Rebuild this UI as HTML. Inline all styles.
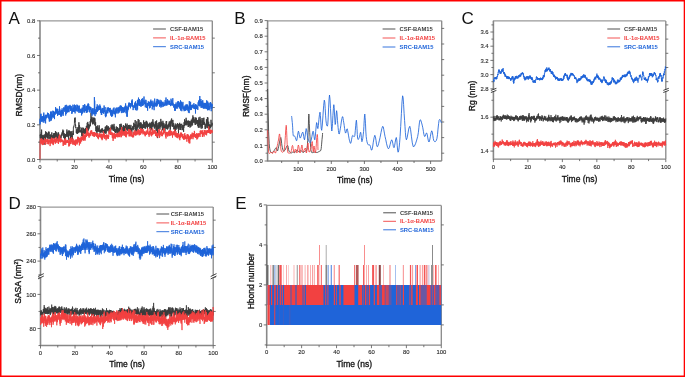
<!DOCTYPE html><html><head><meta charset="utf-8"><style>html,body{margin:0;padding:0;background:#fff;}svg{display:block;will-change:transform;}text{font-family:"Liberation Sans", sans-serif;}</style></head><body>
<svg width="685" height="377" viewBox="0 0 685 377">
<rect x="0" y="0" width="685" height="377" fill="#fff"/>
<text x="8.5" y="24.3" font-size="17" text-anchor="start" fill="#111" font-weight="normal" >A</text>
<line x1="39.5" y1="20.8" x2="212.3" y2="20.8" stroke="#999" stroke-width="1.3"/>
<line x1="212.3" y1="20.8" x2="212.3" y2="159.5" stroke="#888" stroke-width="1.3"/>
<line x1="40" y1="159.5" x2="212.3" y2="159.5" stroke="#888" stroke-width="1.3"/>
<line x1="40" y1="20.8" x2="40" y2="160.0" stroke="#888" stroke-width="1.6"/>
<line x1="212.3" y1="142.1625" x2="214.8" y2="142.1625" stroke="#555" stroke-width="0.8"/>
<line x1="212.3" y1="107.48750000000001" x2="214.8" y2="107.48750000000001" stroke="#555" stroke-width="0.8"/>
<line x1="212.3" y1="72.81250000000001" x2="214.8" y2="72.81250000000001" stroke="#555" stroke-width="0.8"/>
<line x1="212.3" y1="38.13750000000002" x2="214.8" y2="38.13750000000002" stroke="#555" stroke-width="0.8"/>
<polyline points="40,135.2 40.1,134.8 40.2,136.3 40.3,137.9 40.5,137.3 40.6,138.5 40.7,136.5 40.8,134 40.9,137.8 41,138 41.1,135.6 41.3,132.2 41.4,136.3 41.5,138.3 41.6,129.6 41.7,134.7 41.8,138.8 42,136.8 42.1,139.7 42.2,138.3 42.3,139.4 42.4,136.1 42.5,138.2 42.6,135 42.8,135.2 42.9,136.1 43,142.4 43.1,136.9 43.2,136 43.3,135.8 43.4,139.4 43.6,137.4 43.7,138.5 43.8,138.4 43.9,134.8 44,138.8 44.1,137.3 44.3,135.5 44.4,138.6 44.5,137.8 44.6,137.2 44.7,137.2 44.8,139.8 44.9,144.7 45.1,133.9 45.2,139.7 45.3,134.5 45.4,135.7 45.5,137 45.6,131.3 45.7,133.6 45.9,137.6 46,135.8 46.1,133.5 46.2,136.9 46.3,133.3 46.4,135 46.6,133.7 46.7,132.1 46.8,136.7 46.9,135 47,136.5 47.1,135.5 47.2,138.3 47.4,137 47.5,136.1 47.6,133.9 47.7,133.3 47.8,138.2 47.9,136.9 48,133.7 48.2,138.9 48.3,135.7 48.4,134.7 48.5,131.7 48.6,132.8 48.7,135 48.9,135.3 49,135.2 49.1,131.7 49.2,136.1 49.3,136.1 49.4,135.1 49.5,136.5 49.7,136.9 49.8,139.1 49.9,137 50,138 50.1,134.7 50.2,135.8 50.3,137.1 50.5,135.5 50.6,137.5 50.7,134.5 50.8,136.6 50.9,135.3 51,139.2 51.1,135.7 51.3,139.9 51.4,140.8 51.5,137.3 51.6,138.6 51.7,136.5 51.8,132.4 52,138.8 52.1,138.4 52.2,136.8 52.3,136.1 52.4,137.5 52.5,137.4 52.6,135.3 52.8,135.5 52.9,138.6 53,136.3 53.1,135.8 53.2,137.9 53.3,135 53.4,137.1 53.6,133.3 53.7,134.7 53.8,134.9 53.9,136.3 54,135.4 54.1,139.3 54.3,137.5 54.4,134.5 54.5,139.6 54.6,133.3 54.7,138.6 54.8,133.3 54.9,136.5 55.1,133 55.2,134.2 55.3,137.4 55.4,131.5 55.5,131.1 55.6,134.1 55.7,134.5 55.9,134.3 56,136 56.1,131.9 56.2,135.4 56.3,134.6 56.4,136.4 56.6,140.7 56.7,138 56.8,132.9 56.9,136.1 57,134 57.1,136.1 57.2,137.7 57.4,137.1 57.5,137.5 57.6,136.3 57.7,137 57.8,136.7 57.9,140.6 58,137.6 58.2,132.4 58.3,137.2 58.4,137.8 58.5,135 58.6,132.7 58.7,138.8 58.9,136.3 59,137.4 59.1,139.9 59.2,134.9 59.3,136.7 59.4,138 59.5,138.9 59.7,136.6 59.8,138.8 59.9,138.1 60,140.2 60.1,140.6 60.2,135.3 60.3,139.2 60.5,137.6 60.6,138.1 60.7,138.8 60.8,138.8 60.9,136.2 61,137.9 61.1,137.4 61.3,136.8 61.4,134.2 61.5,134.9 61.6,135.1 61.7,135.5 61.8,136.1 62,132.9 62.1,132.5 62.2,134.4 62.3,132.6 62.4,131.8 62.5,131.5 62.6,131.1 62.8,133.8 62.9,129.6 63,135.4 63.1,131.1 63.2,132 63.3,131.4 63.4,131.2 63.6,130.7 63.7,136.4 63.8,137.9 63.9,133 64,137.1 64.1,135.3 64.3,133.7 64.4,139.1 64.5,140.2 64.6,135.4 64.7,135.8 64.8,136.5 64.9,135.8 65.1,137.6 65.2,138.9 65.3,136 65.4,137.4 65.5,138.8 65.6,134.2 65.7,135.2 65.9,134 66,136.7 66.1,135.8 66.2,136.4 66.3,136 66.4,133.6 66.6,135.7 66.7,133.1 66.8,133.2 66.9,129.5 67,136.6 67.1,131.8 67.2,133.9 67.4,133.6 67.5,136.5 67.6,134.6 67.7,132 67.8,133.6 67.9,133.2 68,133.8 68.2,130.8 68.3,133.2 68.4,137.6 68.5,134.3 68.6,137 68.7,139.7 68.9,134.1 69,130.3 69.1,133 69.2,135.7 69.3,135.2 69.4,130.9 69.5,133.1 69.7,133.3 69.8,133.7 69.9,133.5 70,131.8 70.1,132.4 70.2,133.2 70.3,135.8 70.5,132.5 70.6,139.9 70.7,131.5 70.8,136.5 70.9,134.3 71,134.3 71.1,137.3 71.3,131.3 71.4,132.1 71.5,136.4 71.6,134.2 71.7,135.2 71.8,141.7 72,136 72.1,136.6 72.2,136.5 72.3,138.9 72.4,137.2 72.5,136.8 72.6,133.7 72.8,135.1 72.9,135 73,130.8 73.1,134.2 73.2,133.1 73.3,135 73.4,127.1 73.6,127.4 73.7,126.5 73.8,126.1 73.9,126.5 74,125.5 74.1,125.6 74.3,124.8 74.4,123.5 74.5,119.7 74.6,121.1 74.7,118.2 74.8,122.2 74.9,121.9 75.1,117.5 75.2,120.5 75.3,122.2 75.4,123.8 75.5,126.1 75.6,124.8 75.7,128.1 75.9,127.1 76,127.5 76.1,128.3 76.2,128.5 76.3,132.9 76.4,130.8 76.6,132.9 76.7,129.9 76.8,133.6 76.9,130.9 77,128.9 77.1,132.9 77.2,133.2 77.4,131.8 77.5,132 77.6,133.9 77.7,130.7 77.8,127.2 77.9,131.7 78,131.2 78.2,132.7 78.3,129.6 78.4,132.6 78.5,132.1 78.6,126.9 78.7,131.4 78.9,122.3 79,126.1 79.1,128.6 79.2,128 79.3,125.1 79.4,129.6 79.5,130.5 79.7,132.3 79.8,129.7 79.9,126.9 80,128.1 80.1,132.2 80.2,132.2 80.3,131.8 80.5,130.4 80.6,131.6 80.7,130.9 80.8,130.9 80.9,132.3 81,131.9 81.1,131.5 81.3,132.2 81.4,131.1 81.5,128.3 81.6,131 81.7,132.1 81.8,135.8 82,127.5 82.1,136.5 82.2,135.5 82.3,130.9 82.4,131.2 82.5,133.1 82.6,136.3 82.8,133.5 82.9,134.2 83,131.3 83.1,127.8 83.2,131.8 83.3,133.7 83.4,134.3 83.6,127.9 83.7,131.8 83.8,133.8 83.9,131 84,133.6 84.1,128.9 84.3,129 84.4,129 84.5,132.2 84.6,130.2 84.7,131.6 84.8,132.1 84.9,132 85.1,133.9 85.2,134.1 85.3,129.4 85.4,131.1 85.5,130 85.6,128.1 85.7,133.4 85.9,131.1 86,128.8 86.1,128.1 86.2,129.4 86.3,126.3 86.4,127.8 86.6,130.6 86.7,129.7 86.8,125.8 86.9,126.4 87,131.2 87.1,124.3 87.2,122.9 87.4,124.3 87.5,127.9 87.6,127.7 87.7,129.5 87.8,121.9 87.9,127.5 88,123.9 88.2,128.5 88.3,126.8 88.4,130.6 88.5,127.8 88.6,124.9 88.7,129.4 88.9,124.4 89,125.7 89.1,128.4 89.2,126.9 89.3,126.6 89.4,125.5 89.5,126.2 89.7,126.5 89.8,125 89.9,126.1 90,126.3 90.1,123.4 90.2,121.1 90.3,125.7 90.5,122 90.6,123 90.7,123.3 90.8,119.2 90.9,121.6 91,112.7 91.1,121.6 91.3,119 91.4,120.1 91.5,120.9 91.6,118.1 91.7,119.7 91.8,118.4 92,116.8 92.1,122.5 92.2,120.6 92.3,120.5 92.4,118.7 92.5,122.7 92.6,120.9 92.8,124.4 92.9,119.4 93,122.8 93.1,124 93.2,120.2 93.3,117.6 93.4,122.8 93.6,121.7 93.7,120.9 93.8,121.5 93.9,118.1 94,120.5 94.1,120.4 94.3,117.7 94.4,120.9 94.5,118.9 94.6,122.4 94.7,123.5 94.8,125.4 94.9,118.3 95.1,123.5 95.2,123 95.3,124.3 95.4,124.6 95.5,125.5 95.6,122.3 95.7,129.1 95.9,130.8 96,130.3 96.1,131.3 96.2,127.1 96.3,127 96.4,130.9 96.6,131.8 96.7,129.7 96.8,126.2 96.9,135 97,127.9 97.1,131.2 97.2,126.6 97.4,130.9 97.5,129.1 97.6,131.5 97.7,130.3 97.8,125.3 97.9,126.3 98,128.9 98.2,129.8 98.3,131.8 98.4,128.6 98.5,127.9 98.6,128.2 98.7,128.3 98.9,130.7 99,128.7 99.1,128.9 99.2,126.4 99.3,125.4 99.4,129.8 99.5,131.5 99.7,130.2 99.8,131.5 99.9,132 100,130.8 100.1,133 100.2,129.7 100.3,131.2 100.5,130.3 100.6,131.1 100.7,132.1 100.8,132.4 100.9,130.6 101,131.1 101.1,129.3 101.3,129.5 101.4,132 101.5,128.9 101.6,131.6 101.7,129.9 101.8,129 102,132.7 102.1,128.1 102.2,128.1 102.3,128.8 102.4,129.5 102.5,129.5 102.6,131 102.8,129.8 102.9,130.7 103,129.7 103.1,132.7 103.2,130.1 103.3,130.5 103.4,131.5 103.6,132.2 103.7,130.3 103.8,135.1 103.9,130.7 104,131.2 104.1,130.9 104.3,130.6 104.4,132.6 104.5,131.5 104.6,129.4 104.7,129.6 104.8,129.7 104.9,133 105.1,128.5 105.2,126.8 105.3,126.9 105.4,128.4 105.5,132 105.6,126.7 105.7,128.9 105.9,133.9 106,127.8 106.1,132.7 106.2,131.4 106.3,130.1 106.4,126.2 106.6,129.6 106.7,128.3 106.8,125.1 106.9,125.5 107,129 107.1,129.1 107.2,131.2 107.4,130 107.5,127.5 107.6,127.6 107.7,128.2 107.8,126.4 107.9,130 108,128.6 108.2,127 108.3,127.3 108.4,126.4 108.5,127.8 108.6,129.5 108.7,128.1 108.9,131 109,132.4 109.1,127.8 109.2,129 109.3,128.5 109.4,132.7 109.5,130 109.7,130.5 109.8,131.1 109.9,134 110,130.1 110.1,127.6 110.2,128.8 110.3,130.8 110.5,129.5 110.6,127.9 110.7,135 110.8,129.5 110.9,128 111,127.5 111.1,125.3 111.3,126.3 111.4,127.9 111.5,127.8 111.6,126.7 111.7,129.4 111.8,128.4 112,126.5 112.1,124.3 112.2,128.7 112.3,128.5 112.4,128 112.5,125.7 112.6,128.6 112.8,125.4 112.9,130.3 113,128.7 113.1,128.5 113.2,126.3 113.3,125.7 113.4,130.8 113.6,129.6 113.7,126.9 113.8,129.1 113.9,131 114,123.9 114.1,127.1 114.3,127.3 114.4,129.6 114.5,126.8 114.6,129.9 114.7,127.4 114.8,131.9 114.9,132 115.1,130.1 115.2,132.2 115.3,129.5 115.4,130.5 115.5,133.1 115.6,131 115.7,131.9 115.9,129.1 116,132.4 116.1,132 116.2,128.6 116.3,126.4 116.4,126.8 116.6,130.8 116.7,130.5 116.8,127.7 116.9,131 117,132.9 117.1,130.6 117.2,129.9 117.4,132.4 117.5,127.2 117.6,133.7 117.7,129.3 117.8,132.3 117.9,131 118,130.1 118.2,129.3 118.3,131.1 118.4,129.4 118.5,132.3 118.6,131.2 118.7,132.5 118.9,127.9 119,130.1 119.1,131.5 119.2,130.6 119.3,130.2 119.4,128.2 119.5,132.9 119.7,131.6 119.8,130.2 119.9,124 120,127.1 120.1,129.3 120.2,127.5 120.3,124.4 120.5,129 120.6,129 120.7,125.6 120.8,127 120.9,126.6 121,130.2 121.1,123.7 121.3,124 121.4,126.3 121.5,126.1 121.6,131.8 121.7,126.3 121.8,128.3 122,127.2 122.1,126.9 122.2,129.3 122.3,132.4 122.4,128.4 122.5,131 122.6,130.2 122.8,130.9 122.9,130.4 123,134.5 123.1,127.1 123.2,129.1 123.3,127.1 123.4,125.1 123.6,128.8 123.7,132.3 123.8,130.1 123.9,130.4 124,128.7 124.1,127.1 124.3,131.2 124.4,126.1 124.5,129.8 124.6,125.9 124.7,126.7 124.8,127.2 124.9,126.9 125.1,127.9 125.2,128.1 125.3,130.5 125.4,127.2 125.5,123.6 125.6,123.5 125.7,124.9 125.9,126.3 126,129.4 126.1,125 126.2,128.2 126.3,128.3 126.4,128.7 126.6,128 126.7,129 126.8,128.4 126.9,130.4 127,129 127.1,123.6 127.2,128.5 127.4,129 127.5,127.4 127.6,127 127.7,130.7 127.8,128.8 127.9,126.5 128,127.9 128.2,128.1 128.3,125.1 128.4,129.7 128.5,129.3 128.6,129.2 128.7,125 128.9,132.1 129,129.4 129.1,129.1 129.2,126.5 129.3,126.7 129.4,124.9 129.5,131.1 129.7,126.2 129.8,128.2 129.9,129 130,126.4 130.1,129.3 130.2,131.7 130.3,128.1 130.5,130.7 130.6,129.1 130.7,127.1 130.8,126.8 130.9,124.9 131,126.8 131.2,131.8 131.3,130.4 131.4,131 131.5,131.8 131.6,128.4 131.7,130.8 131.8,133.6 132,128 132.1,129.5 132.2,128.4 132.3,128.8 132.4,127.5 132.5,128.4 132.6,126.4 132.8,127.1 132.9,127 133,126.7 133.1,130.3 133.2,127.4 133.3,127.3 133.4,126.2 133.6,129.2 133.7,122.8 133.8,125.9 133.9,128.4 134,129.3 134.1,126.1 134.3,125.5 134.4,126.7 134.5,124.9 134.6,126.3 134.7,123.8 134.8,126.4 134.9,125.1 135.1,123.1 135.2,120 135.3,123.4 135.4,131.6 135.5,127.9 135.6,124.6 135.7,128.8 135.9,127.6 136,126.6 136.1,129.1 136.2,129.2 136.3,128.3 136.4,131.7 136.6,130.3 136.7,128 136.8,121.3 136.9,127.4 137,130.5 137.1,127.7 137.2,124.9 137.4,125.4 137.5,126.6 137.6,128.2 137.7,124.8 137.8,127.2 137.9,128.3 138,127.4 138.2,119 138.3,125.1 138.4,123 138.5,126.5 138.6,123.4 138.7,126.5 138.9,125.6 139,119.9 139.1,123.6 139.2,126.2 139.3,125.4 139.4,124.6 139.5,122.9 139.7,126.5 139.8,129.1 139.9,126.2 140,125.5 140.1,125.4 140.2,122.9 140.3,125.2 140.5,124.3 140.6,128.5 140.7,124.5 140.8,122.1 140.9,125 141,126.2 141.2,126.6 141.3,123.3 141.4,129 141.5,127.5 141.6,126.3 141.7,125.7 141.8,128.1 142,126.5 142.1,127.6 142.2,126.7 142.3,127.1 142.4,129.1 142.5,126.5 142.6,124.5 142.8,128.1 142.9,126.5 143,124.4 143.1,127.9 143.2,125.1 143.3,127.6 143.4,122.9 143.6,120.4 143.7,121 143.8,125.7 143.9,123.7 144,125 144.1,125.1 144.3,122.2 144.4,128.3 144.5,123.5 144.6,125.8 144.7,122.8 144.8,125.3 144.9,127 145.1,125 145.2,123.8 145.3,125 145.4,123.9 145.5,125.7 145.6,128.7 145.7,122.1 145.9,122.2 146,122.9 146.1,123 146.2,120.8 146.3,124.1 146.4,124.6 146.6,123.7 146.7,121.2 146.8,126.9 146.9,121.9 147,126.2 147.1,127.4 147.2,122.8 147.4,126 147.5,128.8 147.6,126.9 147.7,124.2 147.8,123.6 147.9,126.8 148,124.9 148.2,124 148.3,126.6 148.4,124.3 148.5,124.9 148.6,125.9 148.7,125.8 148.9,124.7 149,124.8 149.1,126.3 149.2,126.3 149.3,123.4 149.4,125.7 149.5,124.6 149.7,124.2 149.8,125.8 149.9,122.5 150,129.1 150.1,125.8 150.2,128 150.3,123.4 150.5,123.6 150.6,131 150.7,128.8 150.8,125.1 150.9,124.5 151,130.2 151.2,125.6 151.3,125.5 151.4,123.4 151.5,124.6 151.6,122.1 151.7,128.8 151.8,122.5 152,125.8 152.1,121.6 152.2,124 152.3,125.5 152.4,122.8 152.5,125.6 152.6,125.8 152.8,127.3 152.9,119.3 153,123.4 153.1,122.5 153.2,125.2 153.3,123 153.4,125.3 153.6,125.7 153.7,124.6 153.8,123.8 153.9,126.8 154,126.8 154.1,126.8 154.3,126.4 154.4,128.5 154.5,124.5 154.6,127.5 154.7,125.7 154.8,128.2 154.9,125.6 155.1,125.3 155.2,126.8 155.3,121.7 155.4,124.8 155.5,121.6 155.6,123.2 155.7,126.3 155.9,125.8 156,124.1 156.1,131 156.2,125 156.3,125.9 156.4,129.2 156.6,120.5 156.7,130.5 156.8,125.4 156.9,127.9 157,128.1 157.1,127.2 157.2,126.3 157.4,129.8 157.5,130.4 157.6,138.1 157.7,131 157.8,128.7 157.9,123.2 158,128.6 158.2,125 158.3,129.2 158.4,125.6 158.5,126.8 158.6,126.2 158.7,124.8 158.9,122.3 159,125.5 159.1,125.7 159.2,128 159.3,124.8 159.4,126.4 159.5,124 159.7,125.8 159.8,121.9 159.9,129.6 160,125.9 160.1,123.3 160.2,125.8 160.3,126.4 160.5,125.1 160.6,127.2 160.7,123.8 160.8,118.9 160.9,121.4 161,126.1 161.2,125.5 161.3,124.5 161.4,121.6 161.5,125.5 161.6,125.2 161.7,122 161.8,122.2 162,124.9 162.1,126.6 162.2,127.5 162.3,125.9 162.4,129.2 162.5,123 162.6,130.3 162.8,123.7 162.9,120.8 163,122.3 163.1,127.3 163.2,123.4 163.3,122.8 163.4,127 163.6,127.7 163.7,126.1 163.8,129.4 163.9,123.2 164,131.5 164.1,129 164.3,127.4 164.4,127.5 164.5,126.8 164.6,126.5 164.7,127.5 164.8,124.5 164.9,131.3 165.1,126.7 165.2,128.1 165.3,126.1 165.4,125.9 165.5,128.1 165.6,127.4 165.7,124.4 165.9,125.3 166,127.3 166.1,121.6 166.2,121.2 166.3,129.1 166.4,125.5 166.6,121 166.7,124.7 166.8,125.9 166.9,126.9 167,127.8 167.1,127.2 167.2,128 167.4,125.2 167.5,129.4 167.6,127.7 167.7,129.2 167.8,126.7 167.9,128.5 168,126.7 168.2,124.1 168.3,125.3 168.4,124.8 168.5,124.9 168.6,127.4 168.7,125.4 168.9,125.6 169,123.3 169.1,126.9 169.2,121.6 169.3,124.2 169.4,125.7 169.5,125 169.7,125.4 169.8,123.5 169.9,125.2 170,121.3 170.1,125.3 170.2,129.9 170.3,125.2 170.5,128.9 170.6,123.8 170.7,121.4 170.8,122.1 170.9,126.4 171,125.2 171.2,119.9 171.3,122.9 171.4,119.5 171.5,121.4 171.6,118.5 171.7,121 171.8,123.5 172,120.1 172.1,122.8 172.2,125.5 172.3,126.5 172.4,124.3 172.5,126.4 172.6,124.7 172.8,124.5 172.9,119.9 173,126.7 173.1,125.2 173.2,125.4 173.3,123.2 173.4,123 173.6,126.4 173.7,127.4 173.8,129.3 173.9,128.1 174,125.3 174.1,126.6 174.3,129.1 174.4,127.9 174.5,127.3 174.6,126.3 174.7,128.5 174.8,127.7 174.9,130.9 175.1,129.3 175.2,123.5 175.3,131.2 175.4,127 175.5,125.6 175.6,126.6 175.7,127.3 175.9,125.7 176,125.5 176.1,125.7 176.2,129.6 176.3,126.1 176.4,127.7 176.6,127 176.7,125.6 176.8,124.7 176.9,124.3 177,127.2 177.1,124.2 177.2,123.7 177.4,123.7 177.5,123.1 177.6,126.4 177.7,126.3 177.8,124.1 177.9,128.7 178,125.3 178.2,126.8 178.3,126.6 178.4,129.4 178.5,133.5 178.6,125.8 178.7,124 178.9,123.8 179,126.1 179.1,126.3 179.2,127.7 179.3,125.2 179.4,126.8 179.5,125 179.7,122.8 179.8,126.6 179.9,129.7 180,128.4 180.1,129.6 180.2,129.1 180.3,124 180.5,126.2 180.6,129.9 180.7,125.3 180.8,123.9 180.9,127.2 181,127.8 181.2,127 181.3,125.7 181.4,125.1 181.5,124 181.6,124 181.7,124.1 181.8,123.8 182,125.5 182.1,130.2 182.2,127.4 182.3,126.6 182.4,128.3 182.5,125.7 182.6,128.5 182.8,129.9 182.9,125 183,126.5 183.1,127.4 183.2,125.7 183.3,125.2 183.4,126.4 183.6,131.9 183.7,127.8 183.8,127 183.9,127.6 184,124.8 184.1,122.2 184.3,125.2 184.4,126.2 184.5,119.3 184.6,124.2 184.7,125.7 184.8,122.5 184.9,122 185.1,124.3 185.2,121.3 185.3,124 185.4,125.1 185.5,122.8 185.6,121.6 185.7,121.1 185.9,122.8 186,123.8 186.1,117.8 186.2,125.2 186.3,119.9 186.4,124 186.6,124.3 186.7,122.5 186.8,122.1 186.9,121.3 187,123.4 187.1,125.3 187.2,125.1 187.4,123 187.5,122.8 187.6,120.9 187.7,122.9 187.8,121.6 187.9,120.7 188,123.4 188.2,126.9 188.3,126.3 188.4,127 188.5,120.7 188.6,125.9 188.7,121.7 188.9,123.2 189,121 189.1,122.6 189.2,124.8 189.3,125.1 189.4,124.5 189.5,124.2 189.7,125.7 189.8,124.4 189.9,120.9 190,127.6 190.1,123.3 190.2,125.6 190.3,123.3 190.5,122 190.6,123.8 190.7,122.1 190.8,127 190.9,121.4 191,125 191.2,122.5 191.3,119.7 191.4,122.8 191.5,125.3 191.6,123.1 191.7,120.1 191.8,122.5 192,122.4 192.1,125.7 192.2,119.5 192.3,118.4 192.4,121.8 192.5,122 192.6,124.7 192.8,119.3 192.9,115.4 193,119.3 193.1,118 193.2,119.2 193.3,122.2 193.4,117.3 193.6,122.6 193.7,120.4 193.8,118.8 193.9,117.9 194,117.4 194.1,118.8 194.3,121.2 194.4,122.2 194.5,119.5 194.6,121.2 194.7,122.6 194.8,122.8 194.9,121.4 195.1,124.5 195.2,123.6 195.3,124.5 195.4,121 195.5,120.6 195.6,117.5 195.7,124.9 195.9,123.2 196,119.8 196.1,122.2 196.2,122.2 196.3,117.8 196.4,121.9 196.6,123.5 196.7,123.7 196.8,120.1 196.9,120.2 197,123.7 197.1,122.9 197.2,120 197.4,120.1 197.5,122.9 197.6,120.6 197.7,120.8 197.8,126.1 197.9,123.3 198,121.9 198.2,124.1 198.3,127.5 198.4,123.7 198.5,121.5 198.6,119.7 198.7,127.5 198.9,117.4 199,125 199.1,120.5 199.2,119.9 199.3,120.3 199.4,122 199.5,124.7 199.7,121 199.8,123.8 199.9,127.7 200,116.8 200.1,121.4 200.2,119.3 200.3,125.2 200.5,120.4 200.6,120.4 200.7,120.5 200.8,124 200.9,126.6 201,124.3 201.2,128.7 201.3,127.8 201.4,123.9 201.5,126.1 201.6,124.2 201.7,123.9 201.8,119.6 202,118 202.1,123.3 202.2,120.5 202.3,128.3 202.4,123.2 202.5,120.5 202.6,124.7 202.8,122.5 202.9,124.5 203,121.5 203.1,118.2 203.2,123.1 203.3,121.2 203.4,123.6 203.6,124.4 203.7,124.7 203.8,119.3 203.9,117.7 204,121.8 204.1,124.5 204.3,121.9 204.4,124.4 204.5,122.5 204.6,123.8 204.7,124.2 204.8,123.7 204.9,126.4 205.1,126.2 205.2,129 205.3,126.4 205.4,128.4 205.5,125.6 205.6,127.3 205.7,124.9 205.9,123.8 206,127.6 206.1,125.9 206.2,125.9 206.3,122 206.4,119.6 206.6,121.2 206.7,123.5 206.8,119.5 206.9,125.5 207,119.3 207.1,123.7 207.2,128.2 207.4,117 207.5,119.5 207.6,125.2 207.7,123.1 207.8,124.2 207.9,117.5 208,127.7 208.2,126.3 208.3,124.4 208.4,125.2 208.5,123.5 208.6,126.2 208.7,121.7 208.9,128.2 209,126.3 209.1,131 209.2,129.7 209.3,124.3 209.4,128.9 209.5,125.9 209.7,127.1 209.8,129.1 209.9,127.4 210,127.7 210.1,127.5 210.2,124.7 210.3,124.8 210.5,127.2 210.6,127.8 210.7,125.2 210.8,125.8 210.9,123.3 211,119.8 211.2,123.3 211.3,125 211.4,125.2 211.5,126.5 211.6,126.5 211.7,126.6 211.8,125.3 212,125.3 212.1,122.8 212.2,125.3 212.3,124.8" fill="none" stroke="#3c3c3c" stroke-width="0.95" stroke-linejoin="round" />
<polyline points="40,159.5 40.1,141.6 40.2,142.3 40.3,140.1 40.5,141.8 40.6,143.4 40.7,142.1 40.8,141.3 40.9,142.9 41,139 41.1,143.1 41.3,138.3 41.4,140 41.5,143.3 41.6,141.6 41.7,139.8 41.8,142.4 42,144.2 42.1,142.1 42.2,138.9 42.3,145.1 42.4,141.7 42.5,142.7 42.6,143 42.8,143.5 42.9,143.3 43,141 43.1,141.7 43.2,144.4 43.3,140 43.4,144.9 43.6,141.3 43.7,141.7 43.8,140.3 43.9,141.6 44,140.3 44.1,142.1 44.3,140.3 44.4,141.3 44.5,138.2 44.6,143.1 44.7,138.8 44.8,141 44.9,141.5 45.1,142.8 45.2,143 45.3,144.3 45.4,144.1 45.5,140.5 45.6,144.5 45.7,139.3 45.9,142.2 46,141.2 46.1,141.4 46.2,140.7 46.3,141.9 46.4,142 46.6,141.5 46.7,139.4 46.8,139.2 46.9,138.9 47,140.5 47.1,141.5 47.2,144 47.4,140 47.5,139.6 47.6,141.9 47.7,139.8 47.8,138.9 47.9,141 48,139.4 48.2,140.8 48.3,144.4 48.4,142.2 48.5,142.2 48.6,140.6 48.7,143.1 48.9,142.5 49,143.5 49.1,141.9 49.2,141.8 49.3,140.3 49.4,140.7 49.5,141.8 49.7,141.6 49.8,141.8 49.9,141.7 50,139.2 50.1,146.1 50.2,142 50.3,141 50.5,139.3 50.6,143.1 50.7,140.4 50.8,139.3 50.9,141.4 51,143.8 51.1,141.1 51.3,142.6 51.4,139.3 51.5,141.9 51.6,137.5 51.7,140.5 51.8,142.3 52,141.9 52.1,143.1 52.2,140.7 52.3,139 52.4,142.1 52.5,140.2 52.6,143.6 52.8,141.5 52.9,138 53,144.5 53.1,139.8 53.2,139.9 53.3,145.1 53.4,144.3 53.6,143.4 53.7,139.9 53.8,142.3 53.9,141.7 54,140.1 54.1,141 54.3,140.8 54.4,141.7 54.5,139 54.6,142.2 54.7,138.2 54.8,141.3 54.9,142 55.1,139.4 55.2,139.7 55.3,143.8 55.4,140 55.5,142.7 55.6,141.7 55.7,139 55.9,141.8 56,139.8 56.1,141.1 56.2,137.1 56.3,140.6 56.4,142.6 56.6,142.5 56.7,142.1 56.8,140.3 56.9,140.5 57,138.8 57.1,140.1 57.2,140.1 57.4,139.8 57.5,140.5 57.6,139.6 57.7,138.8 57.8,138.8 57.9,141 58,143 58.2,141.3 58.3,139.3 58.4,144 58.5,140.4 58.6,138.7 58.7,140.3 58.9,141.2 59,136.2 59.1,136.8 59.2,139.6 59.3,136.9 59.4,134.7 59.5,141.2 59.7,134.8 59.8,141.2 59.9,140.1 60,141.7 60.1,139.9 60.2,142.4 60.3,140.2 60.5,138.5 60.6,140 60.7,141 60.8,137.9 60.9,142.2 61,139 61.1,141.2 61.3,140.3 61.4,140.5 61.5,140.3 61.6,140.5 61.7,141.7 61.8,141.3 62,139.6 62.1,140.5 62.2,141.5 62.3,141.5 62.4,141.5 62.5,140.3 62.6,140 62.8,140.2 62.9,141.6 63,140.7 63.1,143.2 63.2,146 63.3,141.3 63.4,144.3 63.6,143.2 63.7,143.8 63.8,140.7 63.9,144 64,141.5 64.1,142.9 64.3,144.2 64.4,144.8 64.5,141.3 64.6,141.4 64.7,140.7 64.8,138.8 64.9,141.5 65.1,141.4 65.2,142.1 65.3,141.6 65.4,142.4 65.5,143.3 65.6,138.3 65.7,144.9 65.9,141.1 66,140.8 66.1,141.3 66.2,143.1 66.3,141.7 66.4,142.1 66.6,143 66.7,141.2 66.8,141.8 66.9,142 67,139.8 67.1,142.8 67.2,140.2 67.4,142 67.5,140.2 67.6,140.8 67.7,140.6 67.8,142.9 67.9,142.7 68,143 68.2,141.4 68.3,140.6 68.4,140.2 68.5,143.1 68.6,142.3 68.7,145.4 68.9,146.5 69,144.2 69.1,143.9 69.2,145.5 69.3,145.8 69.4,141.7 69.5,143.9 69.7,145.2 69.8,138.2 69.9,141.7 70,142.4 70.1,140.6 70.2,142.8 70.3,138.7 70.5,144 70.6,143.5 70.7,141.4 70.8,142.5 70.9,138.7 71,143.8 71.1,142.3 71.3,140.6 71.4,139.9 71.5,139.1 71.6,140.2 71.7,137 71.8,141.6 72,140.4 72.1,139.2 72.2,141.3 72.3,141.2 72.4,141.6 72.5,142.1 72.6,143.1 72.8,141.2 72.9,144.3 73,141.1 73.1,144.8 73.2,138.7 73.3,139.6 73.4,140.7 73.6,143.1 73.7,143.9 73.8,140.7 73.9,140.6 74,141.8 74.1,143.9 74.3,140.7 74.4,143.8 74.5,142 74.6,145.1 74.7,143.1 74.8,141 74.9,142.6 75.1,142.6 75.2,140.4 75.3,141.8 75.4,139.6 75.5,145.9 75.6,140.9 75.7,141.1 75.9,144.6 76,144.1 76.1,140.2 76.2,143.5 76.3,140 76.4,140.5 76.6,141.9 76.7,140.4 76.8,142.7 76.9,140.5 77,139.1 77.1,140.2 77.2,144.4 77.4,139.3 77.5,140.3 77.6,142.9 77.7,137.8 77.8,143 77.9,136.7 78,140.9 78.2,137 78.3,139.7 78.4,141.8 78.5,139.2 78.6,138.7 78.7,138 78.9,137.5 79,140.8 79.1,138.5 79.2,138.1 79.3,139.9 79.4,145.4 79.5,141.2 79.7,138.4 79.8,138.5 79.9,141.4 80,142.4 80.1,138 80.2,143 80.3,140 80.5,141.8 80.6,143.5 80.7,140.3 80.8,140.8 80.9,138.1 81,136.6 81.1,140.7 81.3,138.6 81.4,138.5 81.5,141.1 81.6,141.5 81.7,137 81.8,140.2 82,139.4 82.1,139.6 82.2,139.1 82.3,139.7 82.4,137.2 82.5,136 82.6,138.6 82.8,140.2 82.9,137.6 83,140.1 83.1,138.3 83.2,135.1 83.3,133.2 83.4,136.5 83.6,138.9 83.7,135.7 83.8,140.8 83.9,138.1 84,134.2 84.1,135.5 84.3,139.3 84.4,139.7 84.5,135.3 84.6,136.9 84.7,137.8 84.8,136 84.9,137.6 85.1,140.6 85.2,135.2 85.3,137.6 85.4,138 85.5,138.4 85.6,135.5 85.7,137.1 85.9,134.3 86,135.6 86.1,133 86.2,135.1 86.3,135.1 86.4,137 86.6,135.2 86.7,131.9 86.8,127.8 86.9,135.1 87,134.6 87.1,129.3 87.2,131.9 87.4,134 87.5,132.8 87.6,135.8 87.7,133.8 87.8,131.9 87.9,130.9 88,134.2 88.2,134.1 88.3,133.6 88.4,132.7 88.5,134 88.6,136.3 88.7,134.6 88.9,133.6 89,136.6 89.1,137.7 89.2,133.3 89.3,134.7 89.4,133.6 89.5,134.9 89.7,136 89.8,135.5 89.9,136.3 90,135.9 90.1,135 90.2,134.7 90.3,131.7 90.5,135.6 90.6,133.4 90.7,134.2 90.8,130.6 90.9,132.6 91,133.7 91.1,131.7 91.3,133 91.4,134 91.5,130.6 91.6,132 91.7,130.4 91.8,131.5 92,132.3 92.1,133.5 92.2,135.6 92.3,132.6 92.4,133.8 92.5,132.9 92.6,134.2 92.8,135.5 92.9,136.1 93,133.2 93.1,132.3 93.2,135 93.3,133.7 93.4,132.2 93.6,135.9 93.7,135.1 93.8,136.3 93.9,136.4 94,133.9 94.1,135 94.3,137 94.4,134.4 94.5,132.2 94.6,134.4 94.7,134.5 94.8,132.6 94.9,135.9 95.1,133.7 95.2,132.7 95.3,135.1 95.4,135.3 95.5,133.6 95.6,134.3 95.7,134.6 95.9,134 96,134.1 96.1,136.2 96.2,136 96.3,134.2 96.4,133.2 96.6,133 96.7,136.9 96.8,133.7 96.9,134.4 97,135.9 97.1,135.1 97.2,134.7 97.4,133.1 97.5,138.1 97.6,135.3 97.7,136.7 97.8,136.9 97.9,134.6 98,135.3 98.2,138.5 98.3,137.2 98.4,136.3 98.5,139.2 98.6,135.3 98.7,136.9 98.9,136.5 99,136.1 99.1,133.5 99.2,136.5 99.3,137.1 99.4,133.3 99.5,137.1 99.7,137 99.8,134.5 99.9,134.1 100,135.4 100.1,134.9 100.2,135.5 100.3,136 100.5,137.2 100.6,135.8 100.7,135.2 100.8,135.9 100.9,133.4 101,137.6 101.1,137.3 101.3,138.4 101.4,134.4 101.5,138.9 101.6,135.5 101.7,134.3 101.8,137.1 102,135.5 102.1,140.2 102.2,137.1 102.3,139.1 102.4,135.8 102.5,135.9 102.6,137 102.8,133.9 102.9,134.8 103,136.1 103.1,136 103.2,137.5 103.3,135.2 103.4,131.3 103.6,136.2 103.7,134.2 103.8,135.9 103.9,133.7 104,134.4 104.1,135.6 104.3,138.4 104.4,136.4 104.5,133.5 104.6,136 104.7,134.6 104.8,136.6 104.9,139 105.1,135.1 105.2,135.2 105.3,136.7 105.4,136.3 105.5,135.2 105.6,136.6 105.7,135 105.9,135.9 106,139.6 106.1,140.3 106.2,136.7 106.3,137.1 106.4,135.1 106.6,136.7 106.7,135.1 106.8,134.3 106.9,136 107,139.1 107.1,137.8 107.2,135.1 107.4,137.2 107.5,138.1 107.6,136.8 107.7,135.7 107.8,136.1 107.9,135.3 108,137.8 108.2,136.5 108.3,136.3 108.4,135.6 108.5,138.9 108.6,135.5 108.7,137 108.9,132.1 109,131.5 109.1,131 109.2,132.2 109.3,134.2 109.4,131.5 109.5,133.3 109.7,131.7 109.8,134.2 109.9,133.5 110,131.6 110.1,129.3 110.2,132.4 110.3,128.6 110.5,127.8 110.6,134.8 110.7,132.8 110.8,134.5 110.9,133.3 111,134.2 111.1,133.7 111.3,132.1 111.4,132.4 111.5,133.8 111.6,134.5 111.7,134.5 111.8,134.7 112,134.1 112.1,135.2 112.2,134.5 112.3,137.7 112.4,134.2 112.5,132.6 112.6,135.5 112.8,138.2 112.9,133.4 113,136.4 113.1,140.9 113.2,136.1 113.3,134.6 113.4,135 113.6,133.5 113.7,134.4 113.8,135.2 113.9,138.7 114,137.1 114.1,134.7 114.3,133.8 114.4,136.6 114.5,132.7 114.6,133.8 114.7,137.8 114.8,137.8 114.9,134.9 115.1,134.1 115.2,135.4 115.3,138.7 115.4,134.8 115.5,137.2 115.6,134 115.7,135.4 115.9,134.9 116,134.4 116.1,136.5 116.2,134.3 116.3,133.6 116.4,135.5 116.6,133.5 116.7,136.8 116.8,134 116.9,135.1 117,137.2 117.1,135.5 117.2,136.1 117.4,136.1 117.5,134.9 117.6,133.2 117.7,135.5 117.8,134.7 117.9,137.3 118,134.6 118.2,132.7 118.3,133.3 118.4,134 118.5,135.7 118.6,136.4 118.7,134.9 118.9,137 119,136.8 119.1,133.1 119.2,136.3 119.3,131.6 119.4,137.1 119.5,133.9 119.7,136.6 119.8,134.2 119.9,136.3 120,134.3 120.1,134.7 120.2,135.1 120.3,133.4 120.5,131.5 120.6,135 120.7,132.4 120.8,133.7 120.9,133.8 121,129.9 121.1,137.3 121.3,134.8 121.4,136.7 121.5,134.1 121.6,132 121.7,127 121.8,133 122,130.5 122.1,131.4 122.2,134.4 122.3,132.8 122.4,130.8 122.5,133.3 122.6,133.2 122.8,132.5 122.9,135.9 123,134.5 123.1,132.3 123.2,131.9 123.3,134.2 123.4,133.1 123.6,132.7 123.7,132.7 123.8,131.3 123.9,132.3 124,132.3 124.1,135 124.3,134.5 124.4,132.3 124.5,135.7 124.6,131.2 124.7,134.3 124.8,134.5 124.9,132.1 125.1,134.4 125.2,134.7 125.3,134.4 125.4,133 125.5,128.4 125.6,136.7 125.7,133.1 125.9,133.5 126,131.4 126.1,133.6 126.2,137.3 126.3,130.7 126.4,134.8 126.6,133.1 126.7,135.3 126.8,134.9 126.9,134 127,131.6 127.1,131.6 127.2,134.1 127.4,132.2 127.5,133.8 127.6,132.9 127.7,132.7 127.8,131.8 127.9,133.9 128,133 128.2,132.3 128.3,132.4 128.4,133.9 128.5,129.4 128.6,133.1 128.7,131.1 128.9,132.1 129,130.4 129.1,136.4 129.2,129.2 129.3,133.3 129.4,135.2 129.5,133.1 129.7,129.6 129.8,132.8 129.9,135.9 130,134.7 130.1,131.6 130.2,136.3 130.3,134.2 130.5,134.3 130.6,129.9 130.7,134.2 130.8,131.3 130.9,134.6 131,134.7 131.2,131.6 131.3,132.2 131.4,136.6 131.5,132.2 131.6,132.3 131.7,134.5 131.8,133.2 132,133.3 132.1,134.9 132.2,135.2 132.3,135.5 132.4,134.9 132.5,136.9 132.6,134.8 132.8,137.5 132.9,134.9 133,135.2 133.1,136.8 133.2,133.5 133.3,131.7 133.4,132.7 133.6,137.2 133.7,132.5 133.8,134.2 133.9,134.6 134,135.4 134.1,134.2 134.3,131.7 134.4,132.9 134.5,134.4 134.6,134.8 134.7,134.2 134.8,132.4 134.9,130.1 135.1,135.1 135.2,133.3 135.3,133.9 135.4,134.5 135.5,132.6 135.6,132.2 135.7,135.7 135.9,135.1 136,131.3 136.1,132.9 136.2,132.5 136.3,134.3 136.4,134.1 136.6,132.6 136.7,134.2 136.8,135.1 136.9,133.1 137,131.4 137.1,134.6 137.2,130.8 137.4,131.3 137.5,133.7 137.6,132 137.7,131.9 137.8,130.6 137.9,130.4 138,133.7 138.2,133.7 138.3,129.6 138.4,131.2 138.5,130.8 138.6,131 138.7,129.1 138.9,134 139,130.3 139.1,135.2 139.2,131.3 139.3,130.4 139.4,135.2 139.5,132.2 139.7,133.4 139.8,133.4 139.9,132.8 140,134.7 140.1,134.4 140.2,131.4 140.3,131 140.5,133.3 140.6,134.6 140.7,128.1 140.8,130 140.9,131.2 141,133.5 141.2,132.6 141.3,131.1 141.4,133.1 141.5,128.7 141.6,131.2 141.7,130.7 141.8,133 142,132.8 142.1,132.6 142.2,130.8 142.3,131.7 142.4,131.8 142.5,130.9 142.6,131.1 142.8,129 142.9,134.3 143,133.6 143.1,132 143.2,129.5 143.3,133.1 143.4,132.3 143.6,133.1 143.7,131.9 143.8,132.3 143.9,134.2 144,133.3 144.1,131.4 144.3,131.3 144.4,131.6 144.5,131.7 144.6,133.8 144.7,133.9 144.8,131.7 144.9,135.2 145.1,133.3 145.2,136.3 145.3,133.8 145.4,134.3 145.5,135.2 145.6,132.1 145.7,134.4 145.9,133.8 146,133.6 146.1,134.5 146.2,130.8 146.3,134 146.4,132.9 146.6,134.7 146.7,134 146.8,133.8 146.9,133.7 147,134 147.1,132.7 147.2,130.2 147.4,133.1 147.5,133 147.6,133.4 147.7,128.4 147.8,130 147.9,131.8 148,131.7 148.2,134.2 148.3,133.4 148.4,132.8 148.5,133.1 148.6,134.8 148.7,134.6 148.9,132.5 149,132.7 149.1,136.8 149.2,133 149.3,130.9 149.4,134 149.5,132.3 149.7,135 149.8,130.9 149.9,134.1 150,134.2 150.1,132.5 150.2,128 150.3,133.1 150.5,133.6 150.6,131.4 150.7,131.9 150.8,129.7 150.9,134.8 151,135.5 151.2,133.6 151.3,132.6 151.4,132.9 151.5,131.8 151.6,136.3 151.7,135.2 151.8,134.1 152,132.4 152.1,132.9 152.2,134.3 152.3,135.1 152.4,131.7 152.5,131.4 152.6,128.3 152.8,133 152.9,129.7 153,134.4 153.1,133.2 153.2,133.3 153.3,132.9 153.4,133.7 153.6,133.1 153.7,132.3 153.8,133 153.9,131.2 154,132.5 154.1,132.3 154.3,129.9 154.4,131.8 154.5,132.2 154.6,132.5 154.7,132.5 154.8,131.6 154.9,134 155.1,130.8 155.2,130.2 155.3,131 155.4,134 155.5,136 155.6,134.1 155.7,133.3 155.9,132.3 156,134.1 156.1,134.5 156.2,131.4 156.3,135.2 156.4,132.4 156.6,132.7 156.7,136.5 156.8,134.9 156.9,135.2 157,135.9 157.1,137.4 157.2,136.8 157.4,133.3 157.5,134.5 157.6,133.3 157.7,135.5 157.8,134 157.9,133.8 158,135.7 158.2,135.7 158.3,132 158.4,132.4 158.5,134.2 158.6,132.7 158.7,131.4 158.9,129.4 159,134.1 159.1,131.7 159.2,129.2 159.3,137.7 159.4,130.6 159.5,137.6 159.7,130.8 159.8,133.4 159.9,136.6 160,132.3 160.1,131.9 160.2,131.6 160.3,131.6 160.5,133.7 160.6,134.8 160.7,134.3 160.8,133.6 160.9,132.8 161,134.3 161.2,133.4 161.3,131.9 161.4,132.9 161.5,129.6 161.6,130 161.7,135.7 161.8,134.8 162,136.2 162.1,136.1 162.2,133.2 162.3,135.9 162.4,136.1 162.5,134.8 162.6,133 162.8,134.8 162.9,134.6 163,132.2 163.1,132.7 163.2,132.3 163.3,131.2 163.4,134.1 163.6,131.6 163.7,132.7 163.8,129.5 163.9,129.6 164,133.3 164.1,128.3 164.3,132.6 164.4,128.6 164.5,130.3 164.6,132.3 164.7,133 164.8,131.9 164.9,131.8 165.1,133.3 165.2,131.5 165.3,135.2 165.4,133.1 165.5,133.4 165.6,136.9 165.7,133.5 165.9,136.3 166,138.5 166.1,135.4 166.2,134.7 166.3,132.9 166.4,135.3 166.6,131.9 166.7,132 166.8,132.5 166.9,132.2 167,133.7 167.1,135.3 167.2,133.1 167.4,132.5 167.5,133.7 167.6,134.4 167.7,136.6 167.8,132.6 167.9,132.9 168,135.6 168.2,133 168.3,131.8 168.4,133.1 168.5,131.5 168.6,131.5 168.7,135.3 168.9,133.2 169,131.9 169.1,131.2 169.2,130.4 169.3,136.1 169.4,133 169.5,131.7 169.7,130.8 169.8,130 169.9,134.4 170,133.3 170.1,134.4 170.2,131.1 170.3,134.6 170.5,130.2 170.6,130.5 170.7,131.2 170.8,135.8 170.9,133.3 171,130.9 171.2,134.8 171.3,132.9 171.4,132.8 171.5,131.4 171.6,132.8 171.7,133.1 171.8,134.6 172,134 172.1,134.5 172.2,133.2 172.3,134.9 172.4,132.9 172.5,137.6 172.6,132.7 172.8,135 172.9,132.6 173,134.1 173.1,132.5 173.2,131.1 173.3,134.4 173.4,133.1 173.6,133.2 173.7,132.3 173.8,135.2 173.9,132.6 174,132.6 174.1,133.5 174.3,132.5 174.4,134.9 174.5,130 174.6,131.8 174.7,129.5 174.8,134.4 174.9,135.1 175.1,132.9 175.2,136.4 175.3,133.4 175.4,135.1 175.5,134.6 175.6,133.7 175.7,134.3 175.9,131.3 176,133.5 176.1,137 176.2,133.2 176.3,137.3 176.4,135 176.6,137.4 176.7,136.8 176.8,133.2 176.9,136.6 177,136.8 177.1,136.7 177.2,136.3 177.4,133.3 177.5,137.7 177.6,137.8 177.7,134.6 177.8,138.2 177.9,136.1 178,133.4 178.2,135.3 178.3,136.2 178.4,136.6 178.5,137 178.6,136.5 178.7,135.4 178.9,133.6 179,134.1 179.1,136.7 179.2,137.1 179.3,134.7 179.4,139 179.5,136.6 179.7,136.4 179.8,140.2 179.9,137.2 180,134.8 180.1,138 180.2,136.5 180.3,135.9 180.5,134.5 180.6,136.9 180.7,132.6 180.8,134.9 180.9,134.9 181,135.1 181.2,135.7 181.3,136.3 181.4,132.7 181.5,134.4 181.6,135.1 181.7,133.4 181.8,136.4 182,134.3 182.1,135.4 182.2,137.1 182.3,134.4 182.4,138.3 182.5,134.8 182.6,137.6 182.8,135.6 182.9,134.1 183,135.7 183.1,137.8 183.2,136.9 183.3,137.6 183.4,139.1 183.6,139 183.7,137.1 183.8,136.2 183.9,140 184,137.1 184.1,135.9 184.3,136.4 184.4,138.2 184.5,134.4 184.6,138.1 184.7,134.9 184.8,133.1 184.9,139.3 185.1,135.3 185.2,135.2 185.3,135.5 185.4,137.3 185.5,136.7 185.6,138.7 185.7,136.2 185.9,135.8 186,138.2 186.1,138.7 186.2,138.1 186.3,137.4 186.4,137.3 186.6,137.5 186.7,137.1 186.8,139.4 186.9,141.7 187,135.8 187.1,134.3 187.2,138.9 187.4,135.1 187.5,135.8 187.6,134.6 187.7,135 187.8,134 187.9,136.4 188,135.8 188.2,136 188.3,137.6 188.4,135.1 188.5,136.4 188.6,141 188.7,138.6 188.9,136.4 189,142.6 189.1,137.9 189.2,143.2 189.3,140.5 189.4,137.6 189.5,139.6 189.7,138.4 189.8,143.4 189.9,135.8 190,137.3 190.1,139.2 190.2,137.2 190.3,137.1 190.5,135 190.6,136.7 190.7,139.3 190.8,137 190.9,134.2 191,135.3 191.2,136.9 191.3,135 191.4,135.7 191.5,134.8 191.6,138.6 191.7,137.4 191.8,134.8 192,136.3 192.1,135.4 192.2,132.7 192.3,136.6 192.4,135.6 192.5,136.9 192.6,137 192.8,135.9 192.9,138.2 193,139.2 193.1,133.3 193.2,135.7 193.3,133.6 193.4,135.2 193.6,135.2 193.7,134.2 193.8,134.1 193.9,137.3 194,133.3 194.1,137 194.3,135 194.4,130.9 194.5,135.1 194.6,132.4 194.7,135.8 194.8,134.1 194.9,135.1 195.1,134.5 195.2,136.6 195.3,136.7 195.4,134.6 195.5,138 195.6,137 195.7,134.5 195.9,136.8 196,137.4 196.1,137.9 196.2,135.9 196.3,136.8 196.4,135.9 196.6,136.5 196.7,133.1 196.8,137 196.9,139.5 197,136.8 197.1,136.1 197.2,135.8 197.4,138.6 197.5,133.9 197.6,135.9 197.7,135.8 197.8,138.3 197.9,134.8 198,135.6 198.2,133.1 198.3,135.9 198.4,137.1 198.5,134.6 198.6,136.3 198.7,133.8 198.9,136.1 199,134.4 199.1,134.4 199.2,134 199.3,134.7 199.4,135.1 199.5,133.7 199.7,134.5 199.8,133.1 199.9,133.8 200,137 200.1,133.3 200.2,130.8 200.3,132.4 200.5,131.7 200.6,131.7 200.7,133.1 200.8,134.3 200.9,130.6 201,130 201.2,130.8 201.3,131 201.4,131.1 201.5,133.6 201.6,131.4 201.7,132 201.8,131.6 202,133.9 202.1,133.6 202.2,131.7 202.3,133.4 202.4,137 202.5,132.9 202.6,137 202.8,130.1 202.9,132.1 203,132.2 203.1,134.4 203.2,135.2 203.3,133.7 203.4,133.3 203.6,134.6 203.7,132.9 203.8,132.1 203.9,132.2 204,134.8 204.1,136.6 204.3,132.9 204.4,134 204.5,132.1 204.6,130.1 204.7,130 204.8,132.2 204.9,130.8 205.1,129.9 205.2,132.6 205.3,132.4 205.4,131.6 205.5,133.2 205.6,134 205.7,134.6 205.9,133.4 206,134.5 206.1,132.2 206.2,134.1 206.3,131 206.4,131.3 206.6,135.3 206.7,131.2 206.8,133.4 206.9,130.2 207,131.3 207.1,132 207.2,130.6 207.4,132.4 207.5,130.8 207.6,130.5 207.7,131.3 207.8,130.4 207.9,132.7 208,130 208.2,133 208.3,130 208.4,130.3 208.5,130 208.6,132.2 208.7,126.4 208.9,131.9 209,131.3 209.1,132.9 209.2,129.3 209.3,131.6 209.4,130.1 209.5,133.2 209.7,131.1 209.8,132.2 209.9,130 210,131.9 210.1,132.7 210.2,130.5 210.3,134 210.5,132.6 210.6,129.8 210.7,134 210.8,129.7 210.9,131.6 211,132.5 211.2,130.7 211.3,130.1 211.4,132.2 211.5,131.6 211.6,130 211.7,130.2 211.8,131.6 212,132.8 212.1,133 212.2,132.4 212.3,130.3" fill="none" stroke="#f24141" stroke-width="0.95" stroke-linejoin="round" />
<polyline points="40,124.8 40.1,119.1 40.2,123.6 40.3,118.2 40.5,118.8 40.6,114.3 40.7,119.1 40.8,116 40.9,117.3 41,113.7 41.1,118.8 41.3,116.6 41.4,121.7 41.5,121 41.6,119.1 41.7,118.7 41.8,117.1 42,119.9 42.1,117.6 42.2,120.3 42.3,119.9 42.4,121.6 42.5,116.8 42.6,116 42.8,119.4 42.9,120.2 43,120.1 43.1,118.8 43.2,121.2 43.3,122.6 43.4,120.8 43.6,114.4 43.7,120.4 43.8,112.6 43.9,118.9 44,119.2 44.1,115.6 44.3,118.9 44.4,117.5 44.5,120.7 44.6,121 44.7,120 44.8,117.8 44.9,119.8 45.1,122.7 45.2,117.3 45.3,118.8 45.4,119 45.5,119.7 45.6,123.4 45.7,114.8 45.9,119.3 46,117 46.1,114.9 46.2,115.3 46.3,118 46.4,117.4 46.6,116.7 46.7,115.1 46.8,115.6 46.9,117.7 47,115.5 47.1,115.4 47.2,114.5 47.4,115.4 47.5,112.7 47.6,115.1 47.7,113.5 47.8,115.3 47.9,116.7 48,117.5 48.2,115.9 48.3,114.6 48.4,113.1 48.5,116.4 48.6,117.7 48.7,118.1 48.9,114.4 49,117.5 49.1,119.2 49.2,116.7 49.3,121.5 49.4,118.5 49.5,119 49.7,119.2 49.8,121.3 49.9,116.3 50,114.5 50.1,120.9 50.2,117.4 50.3,115.9 50.5,112 50.6,117.5 50.7,118.4 50.8,116 50.9,111.4 51,115.5 51.1,115.1 51.3,111.7 51.4,120.5 51.5,116.4 51.6,113.7 51.7,114 51.8,118.8 52,114.5 52.1,115.5 52.2,115 52.3,117.1 52.4,116.1 52.5,116.9 52.6,114.6 52.8,115.2 52.9,110.7 53,112.9 53.1,117.6 53.2,113.2 53.3,111 53.4,113.6 53.6,111.8 53.7,114.4 53.8,112.9 53.9,116.7 54,112.9 54.1,117.7 54.3,111.7 54.4,117.9 54.5,119.1 54.6,112.9 54.7,114.3 54.8,113.4 54.9,112.4 55.1,113.1 55.2,114.7 55.3,112 55.4,111.5 55.5,110.8 55.6,107.1 55.7,113.1 55.9,111.1 56,109.9 56.1,112.1 56.2,113.7 56.3,112.3 56.4,108.6 56.6,112.3 56.7,109.6 56.8,112.7 56.9,110.2 57,112.8 57.1,113.4 57.2,111.4 57.4,111.7 57.5,108.8 57.6,115.9 57.7,111.2 57.8,108.9 57.9,109.6 58,113.6 58.2,114.2 58.3,113.7 58.4,112 58.5,112.1 58.6,111.6 58.7,110.9 58.9,114.9 59,114.5 59.1,113.6 59.2,114.9 59.3,112.1 59.4,111.2 59.5,106.3 59.7,110.9 59.8,112.2 59.9,109.4 60,114.4 60.1,112.2 60.2,111 60.3,111.6 60.5,112.6 60.6,114.5 60.7,116.5 60.8,114.1 60.9,115.1 61,112.1 61.1,113.8 61.3,109.9 61.4,116.5 61.5,110.5 61.6,114.3 61.7,115.4 61.8,114.5 62,112.5 62.1,108.3 62.2,109 62.3,113 62.4,110 62.5,110.3 62.6,113.4 62.8,112.1 62.9,114.4 63,111.9 63.1,115.9 63.2,111.8 63.3,112.2 63.4,111.9 63.6,112 63.7,107.5 63.8,110.8 63.9,109.4 64,108.2 64.1,107.6 64.3,108 64.4,110.5 64.5,111.6 64.6,110.8 64.7,110.1 64.8,108.9 64.9,109.1 65.1,106.4 65.2,109.2 65.3,105.1 65.4,106.9 65.5,110.5 65.6,107.7 65.7,115.5 65.9,107 66,109.2 66.1,109.3 66.2,114 66.3,104.8 66.4,110.9 66.6,110.6 66.7,107.7 66.8,110.6 66.9,111.9 67,108.5 67.1,112.1 67.2,108.2 67.4,109.4 67.5,107.3 67.6,112.5 67.7,107.2 67.8,109.4 67.9,105.7 68,111.7 68.2,106.2 68.3,108.7 68.4,108.6 68.5,111.8 68.6,108.9 68.7,108.5 68.9,111.7 69,112.2 69.1,111 69.2,105.7 69.3,108.4 69.4,106.5 69.5,107.6 69.7,107.8 69.8,107.4 69.9,108.7 70,104.9 70.1,107.3 70.2,107.3 70.3,110.9 70.5,107.2 70.6,109.4 70.7,109.1 70.8,105.9 70.9,110.8 71,109 71.1,107.2 71.3,106.2 71.4,110.1 71.5,108.3 71.6,108.4 71.7,111.7 71.8,114 72,113.7 72.1,108.2 72.2,109.2 72.3,112.5 72.4,111.7 72.5,110.5 72.6,110.4 72.8,109.7 72.9,104.7 73,111.3 73.1,109.2 73.2,111.2 73.3,110.9 73.4,111.5 73.6,107.5 73.7,110.6 73.8,108.5 73.9,108.8 74,111.4 74.1,105.2 74.3,112 74.4,108.6 74.5,104.6 74.6,110.9 74.7,106.4 74.8,106.1 74.9,108.6 75.1,113.4 75.2,105 75.3,108.9 75.4,110.3 75.5,106.2 75.6,110.5 75.7,106.4 75.9,110 76,109.2 76.1,110.9 76.2,109.2 76.3,110.2 76.4,109.7 76.6,107.6 76.7,108.2 76.8,107.3 76.9,104.6 77,107.6 77.1,111.5 77.2,107.9 77.4,107.2 77.5,105.2 77.6,105.2 77.7,105.6 77.8,108.3 77.9,106.6 78,111.5 78.2,105.8 78.3,107.9 78.4,108 78.5,110.2 78.6,109.5 78.7,111.2 78.9,108.7 79,113 79.1,108 79.2,108.9 79.3,105.6 79.4,110.1 79.5,110.2 79.7,110.3 79.8,109.8 79.9,110 80,112.2 80.1,112.3 80.2,111 80.3,110.5 80.5,112.6 80.6,112.7 80.7,110.9 80.8,108.8 80.9,111.1 81,109.3 81.1,108.9 81.3,109.5 81.4,112.3 81.5,112.2 81.6,115.4 81.7,112.8 81.8,110.2 82,113.5 82.1,108 82.2,107.6 82.3,111.4 82.4,108.2 82.5,113.3 82.6,112.3 82.8,110.6 82.9,109.6 83,109.9 83.1,111.3 83.2,105 83.3,108.7 83.4,108.7 83.6,107.7 83.7,108.8 83.8,109.6 83.9,110.2 84,112.5 84.1,105.5 84.3,110.8 84.4,112.3 84.5,110.4 84.6,112.1 84.7,104.1 84.8,107.8 84.9,105.5 85.1,105.5 85.2,107.5 85.3,107.7 85.4,110.6 85.5,109.3 85.6,110.6 85.7,109.3 85.9,111 86,106.7 86.1,107.8 86.2,109.7 86.3,112.9 86.4,107.6 86.6,105.8 86.7,109 86.8,111.5 86.9,107.7 87,106.2 87.1,112.6 87.2,107.1 87.4,112 87.5,108.1 87.6,104.5 87.7,108.1 87.8,107.3 87.9,109.1 88,108.5 88.2,103.3 88.3,105.7 88.4,109.5 88.5,109.6 88.6,108.5 88.7,104 88.9,108.4 89,106.5 89.1,109.9 89.2,111.9 89.3,106.6 89.4,109.3 89.5,111 89.7,110.8 89.8,110.8 89.9,110.7 90,112.6 90.1,106.7 90.2,108.4 90.3,107.2 90.5,110.1 90.6,108.6 90.7,109.2 90.8,107 90.9,108 91,109.2 91.1,111.4 91.3,112.9 91.4,112.2 91.5,110.1 91.6,112 91.7,113.7 91.8,108.6 92,110.5 92.1,115.7 92.2,113.6 92.3,114.1 92.4,110.6 92.5,108.7 92.6,113.1 92.8,109.6 92.9,111.5 93,108.4 93.1,108 93.2,110.4 93.3,109.7 93.4,111.4 93.6,112.3 93.7,114.3 93.8,111.2 93.9,112.3 94,113.3 94.1,112.8 94.3,113.3 94.4,97.1 94.5,114.3 94.6,110.8 94.7,100.6 94.8,110.2 94.9,114.5 95.1,116.1 95.2,112.6 95.3,111.1 95.4,114 95.5,110.9 95.6,109.8 95.7,109.2 95.9,111.5 96,111 96.1,114.2 96.2,110.2 96.3,109.3 96.4,106.9 96.6,112.2 96.7,111.1 96.8,111.2 96.9,106.8 97,110.4 97.1,111.2 97.2,104.3 97.4,107.3 97.5,111.8 97.6,109.1 97.7,106.4 97.8,107.9 97.9,109.6 98,110.9 98.2,107.2 98.3,109.1 98.4,107.2 98.5,108.2 98.6,110 98.7,105.6 98.9,109.7 99,107.6 99.1,109.8 99.2,108.9 99.3,108.9 99.4,109.8 99.5,107.9 99.7,105.6 99.8,104.5 99.9,105.6 100,109.3 100.1,106 100.2,108.6 100.3,105.8 100.5,112.7 100.6,106.9 100.7,111.6 100.8,107.9 100.9,111.6 101,108.7 101.1,111.2 101.3,114.7 101.4,112.6 101.5,110.9 101.6,110.2 101.7,115 101.8,112.6 102,111.5 102.1,110.2 102.2,109.1 102.3,111.4 102.4,112.9 102.5,109.1 102.6,110.6 102.8,108.1 102.9,111.3 103,107.9 103.1,112.4 103.2,110.1 103.3,110.8 103.4,110.2 103.6,113.4 103.7,111.9 103.8,113.6 103.9,112.2 104,110.7 104.1,105.5 104.3,112 104.4,110.6 104.5,112 104.6,109.9 104.7,111.4 104.8,110 104.9,111.6 105.1,107.1 105.2,109.3 105.3,116.1 105.4,111.7 105.5,112.1 105.6,117.2 105.7,114.1 105.9,113.3 106,114 106.1,112.1 106.2,116.3 106.3,110.8 106.4,110.7 106.6,111.7 106.7,113.1 106.8,112.4 106.9,113.2 107,109.7 107.1,111 107.2,107.5 107.4,112.6 107.5,108.4 107.6,112.7 107.7,111.5 107.8,113.3 107.9,109.8 108,110.8 108.2,109.2 108.3,107.3 108.4,110.6 108.5,109.5 108.6,108.3 108.7,110.3 108.9,111.3 109,109.4 109.1,109.1 109.2,108.6 109.3,108.4 109.4,111.9 109.5,109.9 109.7,108 109.8,111.9 109.9,110.3 110,112.6 110.1,111.2 110.2,107.9 110.3,111.6 110.5,114.3 110.6,111.6 110.7,111.9 110.8,110 110.9,115.5 111,114.4 111.1,112.6 111.3,115.8 111.4,109.9 111.5,116.6 111.6,113.8 111.7,115.1 111.8,116.4 112,110 112.1,110.4 112.2,109.7 112.3,110.4 112.4,116.2 112.5,111.2 112.6,115.9 112.8,113 112.9,112.9 113,113.2 113.1,111 113.2,113.5 113.3,108.3 113.4,110.7 113.6,109.4 113.7,110.4 113.8,110 113.9,112 114,107.5 114.1,114.2 114.3,111 114.4,112.1 114.5,112.7 114.6,111.7 114.7,114.2 114.8,110.8 114.9,111.1 115.1,112.8 115.2,111.6 115.3,115.6 115.4,117.3 115.5,113.8 115.6,113.9 115.7,108.7 115.9,113.5 116,110.6 116.1,110.9 116.2,107.8 116.3,111.9 116.4,110.5 116.6,112 116.7,113.2 116.8,113.2 116.9,112.6 117,107.5 117.1,109.7 117.2,109.7 117.4,110.1 117.5,111.2 117.6,110 117.7,110.1 117.8,108.6 117.9,108.1 118,113.6 118.2,109.5 118.3,107.2 118.4,112.6 118.5,111.2 118.6,110.5 118.7,108.6 118.9,109.7 119,111.4 119.1,109.8 119.2,108.6 119.3,109.9 119.4,106.6 119.5,109.6 119.7,112.5 119.8,111.7 119.9,110.1 120,110.1 120.1,108 120.2,108.5 120.3,105.4 120.5,107.4 120.6,105.9 120.7,110.8 120.8,110.1 120.9,107.8 121,109.1 121.1,108 121.3,108.8 121.4,110.8 121.5,105.8 121.6,107.1 121.7,113.1 121.8,111.2 122,109.8 122.1,108.3 122.2,109.8 122.3,112.6 122.4,107.9 122.5,110.2 122.6,107.1 122.8,109 122.9,107.5 123,108 123.1,107.9 123.2,110.9 123.3,107.6 123.4,109.4 123.6,112.6 123.7,111.1 123.8,110.7 123.9,108.9 124,108.4 124.1,112.3 124.3,108.1 124.4,109.7 124.5,111.6 124.6,107.3 124.7,110.6 124.8,111.3 124.9,106.9 125.1,106.3 125.2,109.4 125.3,105.5 125.4,105.6 125.5,108.9 125.6,103.4 125.7,107.9 125.9,107.4 126,113.3 126.1,107 126.2,109.9 126.3,107.9 126.4,112.7 126.6,106.8 126.7,106.5 126.8,105.8 126.9,116.5 127,108.9 127.1,109.5 127.2,116.8 127.4,111.9 127.5,110.3 127.6,106.8 127.7,111.5 127.8,108.9 127.9,109.2 128,107.8 128.2,109 128.3,105.6 128.4,105 128.5,109.5 128.6,103.7 128.7,107.3 128.9,105.9 129,102.6 129.1,104.5 129.2,103.3 129.3,102.8 129.4,103.2 129.5,105.7 129.7,106.6 129.8,103.3 129.9,103.2 130,104.2 130.1,105.5 130.2,103.2 130.3,105.2 130.5,108.3 130.6,104.7 130.7,104.1 130.8,103.5 130.9,107 131,106.5 131.2,104.1 131.3,105.7 131.4,104.7 131.5,102.5 131.6,103.6 131.7,100.6 131.8,104 132,101 132.1,102.5 132.2,99.4 132.3,105.1 132.4,105.5 132.5,102.8 132.6,107 132.8,107.2 132.9,105.9 133,105.9 133.1,110.1 133.2,108.8 133.3,107.9 133.4,107.5 133.6,107.1 133.7,108 133.8,105.3 133.9,106.5 134,107.9 134.1,107.2 134.3,105.1 134.4,105.5 134.5,104.4 134.6,107.3 134.7,106.6 134.8,102.6 134.9,107 135.1,103.3 135.2,105 135.3,107.7 135.4,109.7 135.5,101.4 135.6,108.2 135.7,108.1 135.9,110.2 136,103.8 136.1,106.1 136.2,106.1 136.3,105 136.4,105.2 136.6,105.3 136.7,104.3 136.8,105.8 136.9,110.5 137,103.1 137.1,103.5 137.2,104 137.4,100.4 137.5,106.5 137.6,109.5 137.7,99.8 137.8,101.8 137.9,106.1 138,103.2 138.2,100.9 138.3,104.8 138.4,100.9 138.5,97.6 138.6,99.3 138.7,102.4 138.9,101.7 139,104.5 139.1,102.4 139.2,103.6 139.3,105.1 139.4,106 139.5,99 139.7,103.1 139.8,105.6 139.9,104.5 140,100.4 140.1,100.3 140.2,105.1 140.3,103.5 140.5,102 140.6,104.7 140.7,106.4 140.8,106 140.9,103.9 141,105.6 141.2,106.6 141.3,104.2 141.4,101.5 141.5,103.7 141.6,103.7 141.7,98.9 141.8,104.5 142,102.9 142.1,105.5 142.2,100.8 142.3,102.6 142.4,105.9 142.5,104 142.6,98.3 142.8,100.6 142.9,101.9 143,100.2 143.1,105.5 143.2,103.8 143.3,104.9 143.4,103.9 143.6,103 143.7,101.1 143.8,100.1 143.9,100.2 144,96.5 144.1,103.4 144.3,102.3 144.4,101.2 144.5,104.2 144.6,103 144.7,101.6 144.8,101.7 144.9,101.5 145.1,99.8 145.2,104.8 145.3,107.3 145.4,102.2 145.5,104.6 145.6,101.9 145.7,103.2 145.9,101.6 146,99.9 146.1,100.6 146.2,103.3 146.3,104.4 146.4,108 146.6,107.5 146.7,104.8 146.8,103.1 146.9,105.1 147,105.3 147.1,107.7 147.2,108 147.4,108.3 147.5,103.3 147.6,110.7 147.7,103.1 147.8,106.4 147.9,103.2 148,103.7 148.2,102.4 148.3,101.3 148.4,105.3 148.5,105.7 148.6,104.4 148.7,105.1 148.9,102.1 149,103.8 149.1,103.6 149.2,102.9 149.3,105.1 149.4,101.8 149.5,108.3 149.7,103.9 149.8,103.2 149.9,105.8 150,105.6 150.1,102 150.2,104.4 150.3,107.7 150.5,106.3 150.6,101 150.7,104.7 150.8,99.8 150.9,99.6 151,102.9 151.2,101.4 151.3,104.4 151.4,103.5 151.5,104.4 151.6,101.7 151.7,106 151.8,103.8 152,103.6 152.1,102.6 152.2,109.4 152.3,108 152.4,107.4 152.5,105 152.6,104.5 152.8,104.6 152.9,100.7 153,103.8 153.1,104 153.2,106.6 153.3,107.2 153.4,104.2 153.6,104.4 153.7,106.1 153.8,104.5 153.9,102.5 154,107.4 154.1,110.2 154.3,103.7 154.4,103.6 154.5,105.5 154.6,105.7 154.7,98.6 154.8,105.3 154.9,106.8 155.1,105.1 155.2,102.8 155.3,105.2 155.4,104.6 155.5,102.9 155.6,104.6 155.7,103.4 155.9,103.9 156,106 156.1,103.3 156.2,105.9 156.3,101.3 156.4,105.2 156.6,103.5 156.7,106.7 156.8,103.5 156.9,105 157,98.9 157.1,102.2 157.2,100.7 157.4,105.5 157.5,104.3 157.6,101.9 157.7,104.5 157.8,99.2 157.9,102.5 158,101.5 158.2,101.3 158.3,102.5 158.4,100.7 158.5,103.8 158.6,101.7 158.7,100.1 158.9,102.3 159,102.5 159.1,103.5 159.2,102.6 159.3,101.4 159.4,103.5 159.5,106.6 159.7,102.7 159.8,103.3 159.9,102 160,103 160.1,99.8 160.2,105.8 160.3,105.5 160.5,102 160.6,105.6 160.7,102.7 160.8,103.5 160.9,107.6 161,101.9 161.2,100.4 161.3,102.9 161.4,106.3 161.5,101.6 161.6,105.5 161.7,103.6 161.8,102.5 162,105.1 162.1,107.1 162.2,103.6 162.3,103.5 162.4,105.2 162.5,105 162.6,101.8 162.8,103.5 162.9,104.4 163,104.7 163.1,103.1 163.2,103.2 163.3,103.9 163.4,106.6 163.6,104.5 163.7,105.2 163.8,103.9 163.9,101.8 164,102.3 164.1,103 164.3,104.2 164.4,105.2 164.5,103.8 164.6,105.5 164.7,105.2 164.8,106.1 164.9,104.3 165.1,104.2 165.2,100 165.3,102.6 165.4,104.5 165.5,102 165.6,104.6 165.7,101.4 165.9,101.9 166,97.5 166.1,105.8 166.2,103.7 166.3,103.7 166.4,103.4 166.6,101.8 166.7,105.1 166.8,104.5 166.9,102.2 167,100.6 167.1,104.8 167.2,105.3 167.4,99.5 167.5,99.9 167.6,99.3 167.7,103.8 167.8,102.2 167.9,101.4 168,101 168.2,102.5 168.3,102.6 168.4,100.6 168.5,103.8 168.6,104.3 168.7,104.3 168.9,104.6 169,103.4 169.1,104.2 169.2,104.7 169.3,100.8 169.4,103.1 169.5,104.3 169.7,100.8 169.8,104.5 169.9,103.2 170,103.5 170.1,104.4 170.2,104 170.3,103 170.5,106.1 170.6,103.9 170.7,102.8 170.8,102.8 170.9,102.9 171,98.7 171.2,102.2 171.3,104.4 171.4,103.9 171.5,103.6 171.6,102.6 171.7,105.1 171.8,100.2 172,105.6 172.1,101.9 172.2,102.1 172.3,105.4 172.4,101.7 172.5,101.8 172.6,104.3 172.8,98.2 172.9,101.6 173,103.9 173.1,104.5 173.2,104.9 173.3,103.5 173.4,104.1 173.6,107.5 173.7,107 173.8,106.4 173.9,106.1 174,106.3 174.1,107.1 174.3,104.7 174.4,104.2 174.5,106.1 174.6,110.7 174.7,106.5 174.8,105 174.9,106.2 175.1,105.3 175.2,105.6 175.3,108.7 175.4,110.8 175.5,104.3 175.6,106.5 175.7,104.4 175.9,105.9 176,105.6 176.1,102.5 176.2,107.8 176.3,105.6 176.4,107.9 176.6,105.6 176.7,105 176.8,104.6 176.9,105.7 177,109 177.1,105.6 177.2,104.2 177.4,103.9 177.5,101.5 177.6,104.7 177.7,107.7 177.8,106.5 177.9,105 178,102.7 178.2,107 178.3,102.5 178.4,102.9 178.5,106 178.6,101.1 178.7,105.5 178.9,103.9 179,104.4 179.1,103.3 179.2,106.2 179.3,102.8 179.4,108.5 179.5,105 179.7,105.5 179.8,102.4 179.9,103.3 180,105.6 180.1,106.5 180.2,104.7 180.3,106.2 180.5,100.3 180.6,110.5 180.7,104.8 180.8,109.9 180.9,102.8 181,106.5 181.2,101.6 181.3,105.9 181.4,102.6 181.5,104.3 181.6,102.4 181.7,104.9 181.8,111.2 182,106.6 182.1,108.5 182.2,103.3 182.3,104.3 182.4,105.4 182.5,104.6 182.6,105.3 182.8,107 182.9,101.9 183,105.4 183.1,106.5 183.2,109.2 183.3,107.7 183.4,106.6 183.6,107.2 183.7,108.1 183.8,107.3 183.9,109.8 184,107.7 184.1,111.2 184.3,109.9 184.4,109.8 184.5,106.5 184.6,107.2 184.7,108.1 184.8,110.5 184.9,108.8 185.1,106.3 185.2,105.2 185.3,110.8 185.4,108.4 185.5,107.2 185.6,106.7 185.7,107.3 185.9,106 186,110.3 186.1,104.3 186.2,109.9 186.3,107.4 186.4,106.6 186.6,105.3 186.7,105.8 186.8,105.9 186.9,104.9 187,107.9 187.1,106 187.2,104.4 187.4,109.1 187.5,110.5 187.6,109.8 187.7,105 187.8,105.5 187.9,108.8 188,107.7 188.2,107.4 188.3,106.4 188.4,112.5 188.5,109.7 188.6,109 188.7,107.1 188.9,108.2 189,108.7 189.1,107.3 189.2,113.1 189.3,101.1 189.4,105.6 189.5,105.3 189.7,108.4 189.8,106.2 189.9,102.7 190,103.2 190.1,106.8 190.2,109.7 190.3,106.8 190.5,107.9 190.6,101.8 190.7,110.1 190.8,107.9 190.9,107 191,108.5 191.2,105.3 191.3,109.8 191.4,109.9 191.5,107.9 191.6,105.3 191.7,107.4 191.8,107.9 192,104.8 192.1,105.8 192.2,107.3 192.3,105.9 192.4,106.5 192.5,104.7 192.6,105.5 192.8,107.6 192.9,107.1 193,107.2 193.1,105.7 193.2,105.9 193.3,108.6 193.4,107.4 193.6,106.5 193.7,104.8 193.8,106.7 193.9,103.2 194,107.2 194.1,105.6 194.3,107.7 194.4,109 194.5,106.6 194.6,105.7 194.7,109.1 194.8,106.2 194.9,107.2 195.1,108.1 195.2,107.1 195.3,105.5 195.4,104.5 195.5,113.5 195.6,105.4 195.7,104.4 195.9,104 196,105.7 196.1,105.2 196.2,107.4 196.3,106.6 196.4,105.3 196.6,108.7 196.7,107.9 196.8,105.7 196.9,108.9 197,106 197.1,109.2 197.2,105.6 197.4,105.8 197.5,107 197.6,107.6 197.7,106.5 197.8,109.9 197.9,106 198,105.5 198.2,102.2 198.3,105.6 198.4,104.7 198.5,101.4 198.6,100.5 198.7,105.1 198.9,101.8 199,101.5 199.1,102.9 199.2,106 199.3,105.8 199.4,102.8 199.5,99.1 199.7,104.4 199.8,96 199.9,100.1 200,106.5 200.1,105.2 200.2,100.7 200.3,101.8 200.5,102.7 200.6,104 200.7,102.7 200.8,105.8 200.9,99 201,106.6 201.2,108 201.3,104 201.4,101.2 201.5,105.3 201.6,104.4 201.7,106.4 201.8,104.5 202,106.5 202.1,106.1 202.2,107.6 202.3,105.6 202.4,100.7 202.5,104.8 202.6,104.4 202.8,100.3 202.9,106.5 203,107.5 203.1,104.5 203.2,108.3 203.3,105.2 203.4,103.6 203.6,108.3 203.7,107.3 203.8,102.7 203.9,108.5 204,107.7 204.1,105.7 204.3,107 204.4,108.1 204.5,103 204.6,107.5 204.7,105.5 204.8,106.9 204.9,106.5 205.1,108.9 205.2,104 205.3,106.6 205.4,102.9 205.5,107.8 205.6,106.2 205.7,104 205.9,104.5 206,105.8 206.1,104.6 206.2,106.6 206.3,103.6 206.4,109.1 206.6,102.9 206.7,100.3 206.8,101.1 206.9,101.1 207,103.7 207.1,101.8 207.2,103.6 207.4,103.1 207.5,103.3 207.6,110.3 207.7,101.5 207.8,102.7 207.9,102.3 208,106.4 208.2,103.3 208.3,104 208.4,110 208.5,109.3 208.6,105.7 208.7,107.4 208.9,106.2 209,107.6 209.1,103.3 209.2,110.3 209.3,109.1 209.4,108.2 209.5,108.9 209.7,107.2 209.8,106 209.9,108.7 210,105.2 210.1,103.3 210.2,103.8 210.3,102 210.5,104 210.6,106.5 210.7,102.8 210.8,105.1 210.9,102.8 211,107.3 211.2,111.2 211.3,109.3 211.4,106.4 211.5,105.5 211.6,107 211.7,104.3 211.8,108.8 212,107.7 212.1,104.2 212.2,106.2 212.3,106.2" fill="none" stroke="#1f64d9" stroke-width="0.95" stroke-linejoin="round" />
<line x1="37" y1="159.5" x2="40" y2="159.5" stroke="#555" stroke-width="0.8"/>
<line x1="38" y1="142.1625" x2="40" y2="142.1625" stroke="#555" stroke-width="0.8"/>
<line x1="37" y1="124.825" x2="40" y2="124.825" stroke="#555" stroke-width="0.8"/>
<line x1="38" y1="107.48750000000001" x2="40" y2="107.48750000000001" stroke="#555" stroke-width="0.8"/>
<line x1="37" y1="90.15" x2="40" y2="90.15" stroke="#555" stroke-width="0.8"/>
<line x1="38" y1="72.81250000000001" x2="40" y2="72.81250000000001" stroke="#555" stroke-width="0.8"/>
<line x1="37" y1="55.47500000000001" x2="40" y2="55.47500000000001" stroke="#555" stroke-width="0.8"/>
<line x1="38" y1="38.1375" x2="40" y2="38.1375" stroke="#555" stroke-width="0.8"/>
<line x1="37" y1="20.80000000000001" x2="40" y2="20.80000000000001" stroke="#555" stroke-width="0.8"/>
<text x="35.3" y="161.6" font-size="5.9" text-anchor="end" fill="#2a2a2a" font-weight="normal" stroke="#2a2a2a" stroke-width="0.12" >0.0</text>
<text x="35.3" y="126.925" font-size="5.9" text-anchor="end" fill="#2a2a2a" font-weight="normal" stroke="#2a2a2a" stroke-width="0.12" >0.2</text>
<text x="35.3" y="92.25" font-size="5.9" text-anchor="end" fill="#2a2a2a" font-weight="normal" stroke="#2a2a2a" stroke-width="0.12" >0.4</text>
<text x="35.3" y="57.575000000000024" font-size="5.9" text-anchor="end" fill="#2a2a2a" font-weight="normal" stroke="#2a2a2a" stroke-width="0.12" >0.6</text>
<text x="35.3" y="22.900000000000013" font-size="5.9" text-anchor="end" fill="#2a2a2a" font-weight="normal" stroke="#2a2a2a" stroke-width="0.12" >0.8</text>
<line x1="40.0" y1="159.5" x2="40.0" y2="162.5" stroke="#555" stroke-width="0.8"/>
<line x1="57.230000000000004" y1="159.5" x2="57.230000000000004" y2="161.5" stroke="#555" stroke-width="0.8"/>
<line x1="74.46000000000001" y1="159.5" x2="74.46000000000001" y2="162.5" stroke="#555" stroke-width="0.8"/>
<line x1="91.69" y1="159.5" x2="91.69" y2="161.5" stroke="#555" stroke-width="0.8"/>
<line x1="108.92" y1="159.5" x2="108.92" y2="162.5" stroke="#555" stroke-width="0.8"/>
<line x1="126.15" y1="159.5" x2="126.15" y2="161.5" stroke="#555" stroke-width="0.8"/>
<line x1="143.38" y1="159.5" x2="143.38" y2="162.5" stroke="#555" stroke-width="0.8"/>
<line x1="160.61" y1="159.5" x2="160.61" y2="161.5" stroke="#555" stroke-width="0.8"/>
<line x1="177.84" y1="159.5" x2="177.84" y2="162.5" stroke="#555" stroke-width="0.8"/>
<line x1="195.07000000000002" y1="159.5" x2="195.07000000000002" y2="161.5" stroke="#555" stroke-width="0.8"/>
<line x1="212.3" y1="159.5" x2="212.3" y2="162.5" stroke="#555" stroke-width="0.8"/>
<text x="40.0" y="168.7" font-size="5.9" text-anchor="middle" fill="#2a2a2a" font-weight="normal" stroke="#2a2a2a" stroke-width="0.12" >0</text>
<text x="74.46000000000001" y="168.7" font-size="5.9" text-anchor="middle" fill="#2a2a2a" font-weight="normal" stroke="#2a2a2a" stroke-width="0.12" >20</text>
<text x="108.92" y="168.7" font-size="5.9" text-anchor="middle" fill="#2a2a2a" font-weight="normal" stroke="#2a2a2a" stroke-width="0.12" >40</text>
<text x="143.38" y="168.7" font-size="5.9" text-anchor="middle" fill="#2a2a2a" font-weight="normal" stroke="#2a2a2a" stroke-width="0.12" >60</text>
<text x="177.84" y="168.7" font-size="5.9" text-anchor="middle" fill="#2a2a2a" font-weight="normal" stroke="#2a2a2a" stroke-width="0.12" >80</text>
<text x="212.3" y="168.7" font-size="5.9" text-anchor="middle" fill="#2a2a2a" font-weight="normal" stroke="#2a2a2a" stroke-width="0.12" >100</text>
<text x="126.5" y="181.5" font-size="8.5" text-anchor="middle" fill="#111" font-weight="normal" stroke="#111" stroke-width="0.3" >Time (ns)</text>
<text x="0" y="0" font-size="8.5" text-anchor="middle" fill="#111" font-weight="normal" stroke="#111" stroke-width="0.3" transform="translate(21.7,95.2) rotate(-90)">RMSD(nm)</text>
<line x1="153.1" y1="29" x2="165.9" y2="29" stroke="#3c3c3c" stroke-width="0.9"/>
<text x="170.1" y="31.1" font-size="5.8" text-anchor="start" fill="#3c3c3c" font-weight="bold" >CSF-BAM15</text>
<line x1="153.1" y1="37.9" x2="165.9" y2="37.9" stroke="#f24141" stroke-width="0.9"/>
<text x="170.1" y="40.0" font-size="5.8" text-anchor="start" fill="#f24141" font-weight="bold" >IL-1&#945;-BAM15</text>
<line x1="153.1" y1="46.7" x2="165.9" y2="46.7" stroke="#1f64d9" stroke-width="0.9"/>
<text x="170.1" y="48.800000000000004" font-size="5.8" text-anchor="start" fill="#1f64d9" font-weight="bold" >SRC-BAM15</text>
<text x="234.3" y="24.3" font-size="17" text-anchor="start" fill="#111" font-weight="normal" >B</text>
<line x1="267.1" y1="20.8" x2="441.7" y2="20.8" stroke="#999" stroke-width="1.3"/>
<line x1="441.7" y1="20.8" x2="441.7" y2="161" stroke="#888" stroke-width="1.3"/>
<line x1="267.6" y1="161" x2="441.7" y2="161" stroke="#888" stroke-width="1.3"/>
<line x1="267.6" y1="20.8" x2="267.6" y2="161.5" stroke="#888" stroke-width="1.6"/>
<line x1="441.7" y1="153.2" x2="444.2" y2="153.2" stroke="#555" stroke-width="0.8"/>
<line x1="441.7" y1="137.6" x2="444.2" y2="137.6" stroke="#555" stroke-width="0.8"/>
<line x1="441.7" y1="122.0" x2="444.2" y2="122.0" stroke="#555" stroke-width="0.8"/>
<line x1="441.7" y1="106.4" x2="444.2" y2="106.4" stroke="#555" stroke-width="0.8"/>
<line x1="441.7" y1="90.8" x2="444.2" y2="90.8" stroke="#555" stroke-width="0.8"/>
<line x1="441.7" y1="75.19999999999999" x2="444.2" y2="75.19999999999999" stroke="#555" stroke-width="0.8"/>
<line x1="441.7" y1="59.599999999999994" x2="444.2" y2="59.599999999999994" stroke="#555" stroke-width="0.8"/>
<line x1="441.7" y1="44.0" x2="444.2" y2="44.0" stroke="#555" stroke-width="0.8"/>
<line x1="441.7" y1="28.400000000000006" x2="444.2" y2="28.400000000000006" stroke="#555" stroke-width="0.8"/>
<polyline points="267.6,89 267.7,94.8 267.9,103.2 268.1,112.3 268.3,120 268.5,126 268.6,131.3 268.8,136 269,140 269.2,143.4 269.4,146.1 269.7,148.3 270,150 270.3,151.2 270.7,151.9 271.1,152.3 271.5,152.5 271.9,152.6 272.2,152.5 272.6,152.3 273,152 273.4,151.6 273.7,151.1 274.1,150.6 274.5,150 274.9,149.3 275.4,148.5 275.9,147.9 276.3,147.7 276.6,148.3 276.9,149.6 277.2,150.7 277.5,151 277.8,150.2 278.2,148.7 278.6,146.8 279,145 279.4,142.9 279.9,140.3 280.4,138.3 280.8,137.5 281.1,138.6 281.4,141 281.7,143.7 282,146 282.4,147.6 282.7,149.1 283.1,150.3 283.5,151 283.8,151.3 284.2,151.1 284.5,150.6 285,150 285.6,148.9 286.3,147.3 287,145.9 287.6,145.4 288,146.2 288.3,147.8 288.6,149.6 289,151 289.5,151.8 290,152.4 290.5,152.8 291,153 291.5,152.9 292,152.6 292.5,152.2 293,152 293.5,152.1 294,152.3 294.5,152.6 295,152.5 295.5,152 296,151.2 296.5,150.4 297,150 297.5,150.3 298,150.9 298.5,151.6 299,152 299.5,151.8 300,151.2 300.5,150.7 301,150.5 301.5,150.8 302,151.5 302.5,152.2 303,152.5 303.5,152.4 304,152 304.5,151.5 305,151 305.5,150.9 306.1,151.1 306.6,150.7 307,149 307.4,145.4 307.7,140.4 308,134.9 308.2,130 308.4,125.1 308.5,119.9 308.7,115.8 308.8,114 309,115.3 309.1,118.9 309.3,123.6 309.5,128 309.7,132.3 310,136.9 310.2,141.4 310.5,145 310.7,147.6 310.9,149.5 311.1,150.9 311.4,151.9 311.7,152.5 312.1,152.7 312.6,152.6 313,152.5 313.5,152.4 314,152.3 314.5,152.1 315,152 315.5,152.1 316,152.3 316.5,152.5 317,152.5 317.5,152.4 318,152.1 318.5,151.8 319,151.5 319.5,151.3 320,151.2 320.5,150.8 320.9,150 321.2,148.5 321.4,146.5 321.6,144.2 321.8,142 322,139.6 322.3,137 322.5,134.6 322.6,133" fill="none" stroke="#3c3c3c" stroke-width="0.85" stroke-linejoin="round" />
<polyline points="267.6,130 267.8,134 268,139.8 268.2,145.7 268.5,150 268.7,152.2 269,153.1 269.2,153.4 269.5,153.5 269.8,153.4 270.2,152.9 270.6,152.3 271,152 271.4,152.3 271.8,152.8 272.1,153.3 272.5,153.5 272.9,153.1 273.2,152.2 273.6,151.4 274,151 274.4,151.4 274.8,152.2 275.1,153 275.5,153 275.9,152.1 276.2,150.6 276.6,148.8 277,147 277.4,145.3 277.8,143.5 278.1,141.7 278.5,140 278.8,137.9 279.1,135.6 279.4,134 279.7,134.1 280,136.9 280.3,141.6 280.6,146.5 281,150 281.5,151.6 282,152.2 282.5,152.2 283,152 283.4,151.7 283.8,151.1 284.2,150 284.5,148 284.8,144.6 285.1,140.1 285.4,135.6 285.6,132 285.8,129.1 286,126.6 286.2,125.3 286.4,126.2 286.6,130.6 286.9,137.5 287.2,144.8 287.5,150 287.8,152.3 288.2,153.1 288.6,153 289,153 289.5,153.2 290,153.1 290.5,152.7 291,152 291.4,150.4 291.8,148.2 292.1,146.2 292.5,145.4 292.9,146.5 293.2,148.8 293.6,151.1 294,152.5 294.4,152.2 294.8,150.9 295.1,149.6 295.5,149 295.9,149.8 296.3,151.3 296.6,152.7 297,153 297.4,151.5 297.7,148.8 298,146.2 298.4,145 298.8,146.2 299.2,149 299.6,151.8 300,153 300.5,151.8 301,149.1 301.5,146.3 301.9,145 302.2,146 302.4,148.2 302.7,150.7 303,152 303.5,151.6 304.1,150.1 304.8,148.6 305.3,148 305.7,149 306,150.9 306.2,152.6 306.5,153 306.8,151.1 307.2,147.8 307.6,144.5 307.9,143 308.2,144.2 308.4,147.1 308.7,150.2 309,152 309.5,152 310,151 310.5,149.5 311,148 311.4,146.2 311.7,143.8 311.9,142 312.2,141.5 312.5,143.3 312.7,146.7 313,150.1 313.2,152 313.4,151.4 313.6,149.2 313.8,147 314,146 314.3,147.3 314.7,149.9 315.1,152.4 315.5,153 315.8,151 316.1,147.3 316.4,143.2 316.6,140 316.8,137.7 317,135.6 317.2,134.4 317.4,134.7 317.6,137.4 317.8,142 317.9,146.8 318,150" fill="none" stroke="#f24141" stroke-width="0.85" stroke-linejoin="round" />
<polyline points="291.6,116.1 291.8,117.7 292,120 292.3,122.6 292.5,125.1 292.7,127.8 292.8,130.7 293,133.4 293.2,135.3 293.6,136.1 294,136.2 294.5,136.1 295,136.4 295.4,137.6 295.9,139.2 296.3,140.5 296.7,140.7 297.1,138.9 297.5,135.8 298,132.7 298.4,131.2 298.8,132.1 299.2,134.4 299.7,136.9 300.2,138.1 300.8,137.2 301.5,135 302.2,132.9 302.8,132.1 303.3,133.5 303.7,136.3 304.1,138.9 304.5,139.8 304.9,137.8 305.4,134.1 305.8,130.4 306.2,128.6 306.6,129.6 307,132.4 307.4,135.6 307.9,138.1 308.5,139.9 309.1,141.5 309.8,142.5 310.5,142.4 311.2,140.2 311.9,136.5 312.5,133 313.1,131.2 313.6,132.6 314,135.9 314.4,139 314.8,139.8 315.3,136.8 315.7,131.4 316.2,125.9 316.6,122.6 316.9,123 317.2,125.5 317.5,128.1 317.9,128.6 318.4,125.3 318.9,119.6 319.5,114.4 320,112.2 320.4,115.4 320.8,122.1 321.2,128.4 321.7,130.3 322.3,125 323,115.1 323.7,105.3 324.3,100.2 324.8,102.2 325.2,108.5 325.6,115.8 326,120.9 326.4,123.7 326.9,125.7 327.4,126.2 327.8,124.3 328.2,117.9 328.6,107.9 329.1,98.8 329.5,95 330,99.2 330.5,108.6 331,119 331.4,126.2 331.6,129.5 331.8,131 331.9,130.7 332.1,128.8 332.5,123.6 332.9,115.7 333.4,108.3 333.8,104.7 334.2,107.4 334.5,114 334.9,120.9 335.2,124.5 335.6,122.8 335.9,118 336.3,113 336.6,110.7 336.9,112.3 337.2,116.1 337.5,120.7 337.8,124.5 338.1,127.5 338.4,130.4 338.7,132.8 339,134 339.3,133.9 339.6,132.8 339.9,130.9 340.3,128.8 340.8,125.8 341.3,122 341.9,118.6 342.4,116.7 342.8,116.8 343.1,118.4 343.4,120.6 343.8,122.8 344.2,125.4 344.6,128.6 345.1,131.5 345.5,133.1 345.9,132.7 346.3,131 346.8,129.2 347.2,128.8 347.6,130.3 348.1,133 348.6,135.9 349,138.3 349.4,140.2 349.9,141.9 350.3,143.1 350.7,143.4 351.1,142.2 351.5,139.8 352,137.3 352.4,135.7 352.8,135.4 353.3,135.8 353.7,136.4 354.1,136.6 354.4,136.5 354.6,136.2 354.8,135.5 355,134 355.3,130.6 355.7,125.8 356.1,121.7 356.4,120.2 356.7,122.9 357,128.4 357.3,134.4 357.6,138.3 358,139.5 358.4,139.3 358.9,138.4 359.3,137.4 359.7,136.1 360,134.2 360.4,132.6 360.7,132.2 361,134 361.3,137.3 361.6,140.4 361.9,141.7 362.3,140.7 362.8,138.2 363.2,134.9 363.6,131.4 363.9,126.6 364.2,120.7 364.5,115.8 364.8,114.1 365.1,117.3 365.5,123.8 365.8,131.1 366.2,136.6 366.6,139.7 367,141.8 367.4,143.2 367.9,144.3 368.4,144.9 368.9,144.9 369.5,144.9 370,145.2 370.5,146.6 370.9,148.6 371.4,150.1 371.9,150 372.6,147.1 373.3,142.2 374.1,137.6 374.8,135.3 375.4,136.7 376,140.4 376.5,144.4 377.1,146.6 377.6,146.6 378.1,145.4 378.7,143.3 379.3,140.9 380.1,137.3 381,132.6 381.9,128.4 382.7,126.3 383.3,127 383.8,129.7 384.4,133.1 385,136.4 385.8,139.8 386.6,143.8 387.5,147.2 388.4,148.8 389.3,147.7 390.1,144.6 390.9,141.4 391.7,139.8 392.3,141 392.9,143.8 393.4,146.6 394,147.7 394.6,145.8 395.2,142.2 395.8,138.7 396.3,137.5 396.8,140.1 397.2,145.2 397.6,150.1 398.1,152.2 398.6,151 399.1,147.8 399.6,142.8 400.1,136.4 400.7,126.5 401.4,113.6 402,101.9 402.6,95.8 403.1,97.5 403.6,104.5 404.1,113.3 404.6,120.6 405,126.6 405.4,132.6 405.8,137.4 406.4,139.8 407.1,137.9 408,133 408.9,128.1 409.8,126.3 410.6,129.7 411.4,136.2 412.3,142.9 413.2,146.6 414.3,146.3 415.5,143.8 416.7,140.1 417.7,136.4 418.4,132.3 418.9,127.4 419.4,122.9 419.9,120.2 420.5,119.8 421,120.9 421.6,122.9 422.2,125.1 422.8,127.8 423.4,131.3 423.9,134.5 424.5,136.4 425.1,136.3 425.6,134.8 426.1,133.3 426.7,133 427.3,134.9 427.8,138 428.4,140.9 429,142 429.7,140.1 430.4,136.3 431.1,132.6 431.7,130.8 432.3,132.1 432.8,135.3 433.3,138.7 433.9,140.9 434.6,141.6 435.4,141.6 436.2,140.7 436.9,138.7 437.5,134.7 438,129.1 438.6,123.7 439.1,120.2 439.7,119.4 440.4,120.4 441,121.9 441.4,122.9" fill="none" stroke="#1f64d9" stroke-width="0.85" stroke-linejoin="round" />
<line x1="264.6" y1="161.0" x2="267.6" y2="161.0" stroke="#555" stroke-width="0.8"/>
<line x1="265.6" y1="153.2" x2="267.6" y2="153.2" stroke="#555" stroke-width="0.8"/>
<line x1="264.6" y1="145.4" x2="267.6" y2="145.4" stroke="#555" stroke-width="0.8"/>
<line x1="265.6" y1="137.6" x2="267.6" y2="137.6" stroke="#555" stroke-width="0.8"/>
<line x1="264.6" y1="129.8" x2="267.6" y2="129.8" stroke="#555" stroke-width="0.8"/>
<line x1="265.6" y1="122.0" x2="267.6" y2="122.0" stroke="#555" stroke-width="0.8"/>
<line x1="264.6" y1="114.19999999999999" x2="267.6" y2="114.19999999999999" stroke="#555" stroke-width="0.8"/>
<line x1="265.6" y1="106.39999999999999" x2="267.6" y2="106.39999999999999" stroke="#555" stroke-width="0.8"/>
<line x1="264.6" y1="98.6" x2="267.6" y2="98.6" stroke="#555" stroke-width="0.8"/>
<line x1="265.6" y1="90.8" x2="267.6" y2="90.8" stroke="#555" stroke-width="0.8"/>
<line x1="264.6" y1="83.0" x2="267.6" y2="83.0" stroke="#555" stroke-width="0.8"/>
<line x1="265.6" y1="75.19999999999999" x2="267.6" y2="75.19999999999999" stroke="#555" stroke-width="0.8"/>
<line x1="264.6" y1="67.39999999999999" x2="267.6" y2="67.39999999999999" stroke="#555" stroke-width="0.8"/>
<line x1="265.6" y1="59.599999999999994" x2="267.6" y2="59.599999999999994" stroke="#555" stroke-width="0.8"/>
<line x1="264.6" y1="51.79999999999998" x2="267.6" y2="51.79999999999998" stroke="#555" stroke-width="0.8"/>
<line x1="265.6" y1="44.0" x2="267.6" y2="44.0" stroke="#555" stroke-width="0.8"/>
<line x1="264.6" y1="36.19999999999999" x2="267.6" y2="36.19999999999999" stroke="#555" stroke-width="0.8"/>
<line x1="265.6" y1="28.399999999999977" x2="267.6" y2="28.399999999999977" stroke="#555" stroke-width="0.8"/>
<line x1="264.6" y1="20.599999999999994" x2="267.6" y2="20.599999999999994" stroke="#555" stroke-width="0.8"/>
<text x="262.8" y="163.1" font-size="5.9" text-anchor="end" fill="#2a2a2a" font-weight="normal" stroke="#2a2a2a" stroke-width="0.12" >0.0</text>
<text x="262.8" y="147.5" font-size="5.9" text-anchor="end" fill="#2a2a2a" font-weight="normal" stroke="#2a2a2a" stroke-width="0.12" >0.1</text>
<text x="262.8" y="131.9" font-size="5.9" text-anchor="end" fill="#2a2a2a" font-weight="normal" stroke="#2a2a2a" stroke-width="0.12" >0.2</text>
<text x="262.8" y="116.3" font-size="5.9" text-anchor="end" fill="#2a2a2a" font-weight="normal" stroke="#2a2a2a" stroke-width="0.12" >0.3</text>
<text x="262.8" y="100.69999999999999" font-size="5.9" text-anchor="end" fill="#2a2a2a" font-weight="normal" stroke="#2a2a2a" stroke-width="0.12" >0.4</text>
<text x="262.8" y="85.1" font-size="5.9" text-anchor="end" fill="#2a2a2a" font-weight="normal" stroke="#2a2a2a" stroke-width="0.12" >0.5</text>
<text x="262.8" y="69.5" font-size="5.9" text-anchor="end" fill="#2a2a2a" font-weight="normal" stroke="#2a2a2a" stroke-width="0.12" >0.6</text>
<text x="262.8" y="53.90000000000001" font-size="5.9" text-anchor="end" fill="#2a2a2a" font-weight="normal" stroke="#2a2a2a" stroke-width="0.12" >0.7</text>
<text x="262.8" y="38.29999999999999" font-size="5.9" text-anchor="end" fill="#2a2a2a" font-weight="normal" stroke="#2a2a2a" stroke-width="0.12" >0.8</text>
<text x="262.8" y="22.699999999999996" font-size="5.9" text-anchor="end" fill="#2a2a2a" font-weight="normal" stroke="#2a2a2a" stroke-width="0.12" >0.9</text>
<line x1="281.65000000000003" y1="161" x2="281.65000000000003" y2="163" stroke="#555" stroke-width="0.8"/>
<line x1="298.20000000000005" y1="161" x2="298.20000000000005" y2="164" stroke="#555" stroke-width="0.8"/>
<line x1="314.75" y1="161" x2="314.75" y2="163" stroke="#555" stroke-width="0.8"/>
<line x1="331.3" y1="161" x2="331.3" y2="164" stroke="#555" stroke-width="0.8"/>
<line x1="347.85" y1="161" x2="347.85" y2="163" stroke="#555" stroke-width="0.8"/>
<line x1="364.40000000000003" y1="161" x2="364.40000000000003" y2="164" stroke="#555" stroke-width="0.8"/>
<line x1="380.95000000000005" y1="161" x2="380.95000000000005" y2="163" stroke="#555" stroke-width="0.8"/>
<line x1="397.5" y1="161" x2="397.5" y2="164" stroke="#555" stroke-width="0.8"/>
<line x1="414.05000000000007" y1="161" x2="414.05000000000007" y2="163" stroke="#555" stroke-width="0.8"/>
<line x1="430.6" y1="161" x2="430.6" y2="164" stroke="#555" stroke-width="0.8"/>
<text x="298.20000000000005" y="170.5" font-size="5.9" text-anchor="middle" fill="#2a2a2a" font-weight="normal" stroke="#2a2a2a" stroke-width="0.12" >100</text>
<text x="331.3" y="170.5" font-size="5.9" text-anchor="middle" fill="#2a2a2a" font-weight="normal" stroke="#2a2a2a" stroke-width="0.12" >200</text>
<text x="364.40000000000003" y="170.5" font-size="5.9" text-anchor="middle" fill="#2a2a2a" font-weight="normal" stroke="#2a2a2a" stroke-width="0.12" >300</text>
<text x="397.5" y="170.5" font-size="5.9" text-anchor="middle" fill="#2a2a2a" font-weight="normal" stroke="#2a2a2a" stroke-width="0.12" >400</text>
<text x="430.6" y="170.5" font-size="5.9" text-anchor="middle" fill="#2a2a2a" font-weight="normal" stroke="#2a2a2a" stroke-width="0.12" >500</text>
<text x="354.7" y="183.3" font-size="8.5" text-anchor="middle" fill="#111" font-weight="normal" stroke="#111" stroke-width="0.3" >Time (ns)</text>
<text x="0" y="0" font-size="8.5" text-anchor="middle" fill="#111" font-weight="normal" stroke="#111" stroke-width="0.3" transform="translate(248.7,96.3) rotate(-90)">RMSF(nm)</text>
<line x1="382.6" y1="29" x2="395.40000000000003" y2="29" stroke="#3c3c3c" stroke-width="0.9"/>
<text x="399.6" y="31.1" font-size="5.8" text-anchor="start" fill="#3c3c3c" font-weight="bold" >CSF-BAM15</text>
<line x1="382.6" y1="38" x2="395.40000000000003" y2="38" stroke="#f24141" stroke-width="0.9"/>
<text x="399.6" y="40.1" font-size="5.8" text-anchor="start" fill="#f24141" font-weight="bold" >IL-1&#945;-BAM15</text>
<line x1="382.6" y1="47" x2="395.40000000000003" y2="47" stroke="#1f64d9" stroke-width="0.9"/>
<text x="399.6" y="49.1" font-size="5.8" text-anchor="start" fill="#1f64d9" font-weight="bold" >SRC-BAM15</text>
<text x="461.5" y="24.3" font-size="17" text-anchor="start" fill="#111" font-weight="normal" >C</text>
<line x1="492.9" y1="20.9" x2="665.8" y2="20.9" stroke="#999" stroke-width="1.3"/>
<line x1="665.8" y1="20.9" x2="665.8" y2="159.1" stroke="#888" stroke-width="1.3"/>
<line x1="493.4" y1="159.1" x2="665.8" y2="159.1" stroke="#888" stroke-width="1.3"/>
<line x1="493.4" y1="20.9" x2="493.4" y2="159.6" stroke="#888" stroke-width="1.6"/>
<rect x="492.2" y="89.7" width="2.4" height="1.5" fill="#fff"/>
<line x1="490.9" y1="90.4" x2="496.4" y2="88.3" stroke="#222" stroke-width="0.85"/>
<line x1="490.9" y1="92.5" x2="496.4" y2="90.4" stroke="#222" stroke-width="0.85"/>
<rect x="664.5999999999999" y="89.7" width="2.4" height="1.5" fill="#fff"/>
<line x1="663.3" y1="90.4" x2="668.8" y2="88.3" stroke="#222" stroke-width="0.85"/>
<line x1="663.3" y1="92.5" x2="668.8" y2="90.4" stroke="#222" stroke-width="0.85"/>
<polyline points="493.4,116.8 493.5,118.2 493.6,116.7 493.7,118.8 493.7,117.6 493.8,118.1 493.9,121.1 494,117.5 494.1,115.9 494.2,119.1 494.3,119.6 494.3,117.9 494.4,120.7 494.5,119.2 494.6,119 494.7,120 494.8,119.4 494.9,120.3 495,120 495,118.3 495.1,120.2 495.2,119.7 495.3,119.8 495.4,118.3 495.5,119.3 495.6,119.7 495.6,118.1 495.7,120.8 495.8,120.6 495.9,118 496,116 496.1,118.7 496.2,117.7 496.2,119.7 496.3,117.9 496.4,117.7 496.5,117.3 496.6,118.8 496.7,115.6 496.8,119 496.8,116.1 496.9,119.2 497,116.8 497.1,116.2 497.2,115.1 497.3,117.9 497.4,119.7 497.5,116.6 497.5,118.4 497.6,118.8 497.7,118.3 497.8,118.8 497.9,116.8 498,117.6 498.1,117.1 498.1,117 498.2,118.7 498.3,117.5 498.4,117 498.5,116.4 498.6,118.5 498.7,119.1 498.7,119.9 498.8,119.3 498.9,118.9 499,118.6 499.1,120.5 499.2,119.3 499.3,119 499.4,119.4 499.4,119.3 499.5,118.1 499.6,119.6 499.7,117.8 499.8,119.6 499.9,118 500,119.5 500,116.6 500.1,117.1 500.2,116.3 500.3,118.9 500.4,119.5 500.5,119.6 500.6,118.2 500.6,116.7 500.7,117.1 500.8,117.2 500.9,119.6 501,116.9 501.1,117.3 501.2,119 501.2,121.5 501.3,119.5 501.4,118.7 501.5,116.8 501.6,118.5 501.7,118.9 501.8,117 501.9,117 501.9,118.4 502,118.2 502.1,117.4 502.2,119.7 502.3,118.3 502.4,119.2 502.5,119.7 502.5,117.7 502.6,116.8 502.7,115.7 502.8,116.8 502.9,116.2 503,117.7 503.1,119.1 503.1,117.9 503.2,116.6 503.3,117.8 503.4,114.7 503.5,115.6 503.6,117.4 503.7,115.2 503.7,116.6 503.8,115.5 503.9,117.9 504,116.8 504.1,118.1 504.2,117.9 504.3,116.5 504.4,115.6 504.4,117.7 504.5,117.4 504.6,118.7 504.7,117.8 504.8,116.8 504.9,118.8 505,117.7 505,118.5 505.1,116.8 505.2,115.9 505.3,116.6 505.4,117.3 505.5,118.2 505.6,118.9 505.6,117 505.7,115.3 505.8,117.5 505.9,117.4 506,118 506.1,118.9 506.2,116.4 506.3,116.8 506.3,119.5 506.4,119.3 506.5,116.2 506.6,118.9 506.7,117.9 506.8,119.2 506.9,117.5 506.9,118.8 507,118.6 507.1,119.2 507.2,115.5 507.3,114.6 507.4,117.5 507.5,116.9 507.5,117 507.6,117.7 507.7,117.7 507.8,118 507.9,116.5 508,118.9 508.1,118.4 508.1,116.5 508.2,119 508.3,115.4 508.4,117.7 508.5,117.2 508.6,115.9 508.7,117.6 508.8,117.4 508.8,118.3 508.9,117.1 509,116.9 509.1,118.8 509.2,117 509.3,116.7 509.4,117.4 509.4,118.8 509.5,116.8 509.6,116.3 509.7,118.6 509.8,120.3 509.9,119.1 510,118.3 510,116.8 510.1,117 510.2,117.7 510.3,119.4 510.4,117.7 510.5,118.7 510.6,119.9 510.6,120.8 510.7,117.4 510.8,120.6 510.9,117.1 511,115.7 511.1,118.4 511.2,119.4 511.3,119.1 511.3,119 511.4,117.7 511.5,116.9 511.6,119 511.7,118.5 511.8,118.8 511.9,116.6 511.9,116.7 512,118.9 512.1,118.2 512.2,117.5 512.3,119.8 512.4,118.3 512.5,117.4 512.5,119.4 512.6,117.4 512.7,117.6 512.8,118.5 512.9,116.7 513,119.2 513.1,117.8 513.1,118.8 513.2,117.3 513.3,119.8 513.4,118.3 513.5,118.4 513.6,117.8 513.7,117.3 513.8,121.1 513.8,119.3 513.9,120.5 514,117.9 514.1,117.3 514.2,119.1 514.3,118.3 514.4,117 514.4,118.3 514.5,118.6 514.6,120.4 514.7,119.1 514.8,117 514.9,120 515,117.8 515,117.8 515.1,118.1 515.2,117 515.3,118.8 515.4,116.1 515.5,118.3 515.6,116.4 515.7,118.2 515.7,117.1 515.8,117.7 515.9,115.3 516,118.6 516.1,118.1 516.2,115.6 516.3,116.6 516.3,117.7 516.4,118.1 516.5,119.5 516.6,118.3 516.7,117.7 516.8,116.8 516.9,117.1 516.9,116.5 517,117.9 517.1,119.2 517.2,118.7 517.3,116.4 517.4,118.1 517.5,116.5 517.5,120.2 517.6,118.9 517.7,119.3 517.8,118 517.9,119.4 518,120.1 518.1,118.6 518.2,121.4 518.2,119.5 518.3,118.3 518.4,120.3 518.5,119.1 518.6,120.1 518.7,119.5 518.8,118.8 518.8,118.5 518.9,118.5 519,119.9 519.1,117.1 519.2,118.5 519.3,119.7 519.4,117.2 519.4,119.2 519.5,116.2 519.6,117.5 519.7,118.6 519.8,119 519.9,119.4 520,119.3 520,118.6 520.1,116.5 520.2,117.9 520.3,118.1 520.4,117.5 520.5,118.4 520.6,119.5 520.7,119.7 520.7,116.2 520.8,118.2 520.9,115.9 521,115.6 521.1,117.6 521.2,117.1 521.3,118.5 521.3,118.3 521.4,118.1 521.5,118.3 521.6,116.5 521.7,118.5 521.8,117.3 521.9,118.3 521.9,117.7 522,116.2 522.1,120.4 522.2,116.9 522.3,119 522.4,118 522.5,118.5 522.6,118.5 522.6,119.5 522.7,121 522.8,115 522.9,116.4 523,117.8 523.1,119.7 523.2,116.5 523.2,115.4 523.3,116.8 523.4,119.6 523.5,118.1 523.6,117.1 523.7,117.7 523.8,116.3 523.8,119 523.9,118.6 524,120.9 524.1,116.4 524.2,117.1 524.3,118.5 524.4,120.2 524.4,116.9 524.5,119.7 524.6,119.6 524.7,120.4 524.8,119.7 524.9,119 525,119.1 525.1,116.3 525.1,116.7 525.2,117.5 525.3,118.2 525.4,117.4 525.5,119 525.6,116.8 525.7,118.5 525.7,118 525.8,116.9 525.9,118.5 526,119.2 526.1,116.3 526.2,119.8 526.3,119.4 526.3,119.4 526.4,118.9 526.5,118.3 526.6,122.3 526.7,118.9 526.8,116.6 526.9,117 526.9,117.5 527,118.8 527.1,118.5 527.2,119.5 527.3,121 527.4,118.5 527.5,117.7 527.6,118.7 527.6,119.2 527.7,118.1 527.8,118.8 527.9,117.7 528,119.6 528.1,121.4 528.2,118.3 528.2,117.6 528.3,119.6 528.4,118.1 528.5,117.3 528.6,121.5 528.7,114.7 528.8,116.7 528.8,117.8 528.9,118.9 529,119.4 529.1,113 529.2,117.8 529.3,116.5 529.4,118.4 529.4,118.2 529.5,117 529.6,119.3 529.7,118.4 529.8,118.7 529.9,118 530,117.7 530.1,119.1 530.1,117.1 530.2,119.5 530.3,119.5 530.4,118.8 530.5,119.2 530.6,117.8 530.7,122.4 530.7,120.9 530.8,121.3 530.9,116.7 531,117.5 531.1,119.5 531.2,118.1 531.3,121 531.3,119.1 531.4,116.9 531.5,118 531.6,116.1 531.7,119.5 531.8,117.3 531.9,118.6 532,118.3 532,118.2 532.1,117.5 532.2,116.7 532.3,118.1 532.4,117.5 532.5,118 532.6,117.4 532.6,118.8 532.7,116.5 532.8,116.8 532.9,117.3 533,117.8 533.1,118.7 533.2,119.1 533.2,119.3 533.3,118.9 533.4,116.8 533.5,117.5 533.6,120 533.7,119.4 533.8,116.5 533.8,116.1 533.9,117.2 534,115.7 534.1,119.4 534.2,118 534.3,119.5 534.4,116 534.5,118.6 534.5,118.7 534.6,118.9 534.7,120.4 534.8,119.7 534.9,122.6 535,120.4 535.1,121.1 535.1,118.9 535.2,118.1 535.3,119.4 535.4,121 535.5,121 535.6,118.5 535.7,119.7 535.7,119.6 535.8,120.6 535.9,118.7 536,118.6 536.1,117.8 536.2,119.9 536.3,118.6 536.3,120.3 536.4,118.1 536.5,118.3 536.6,118.7 536.7,117 536.8,119.7 536.9,115.9 537,117.3 537,117 537.1,117.3 537.2,118.5 537.3,118.2 537.4,116.2 537.5,117.4 537.6,116.9 537.6,117.6 537.7,116 537.8,116.2 537.9,118.6 538,114.3 538.1,115.5 538.2,115.7 538.2,116.3 538.3,116.8 538.4,115.7 538.5,113.5 538.6,116.9 538.7,118.3 538.8,117.1 538.9,117.1 538.9,116.1 539,119.1 539.1,118.2 539.2,118.2 539.3,116.6 539.4,116.5 539.5,117.6 539.5,116.5 539.6,117.8 539.7,117.8 539.8,120.9 539.9,119 540,119.2 540.1,117.2 540.1,117.5 540.2,119 540.3,117.6 540.4,117.9 540.5,117.2 540.6,118.5 540.7,118.8 540.7,116.4 540.8,118.4 540.9,116.8 541,119.3 541.1,118.5 541.2,118.7 541.3,119.5 541.4,117.4 541.4,120 541.5,117.9 541.6,120.9 541.7,117.2 541.8,117.9 541.9,116.4 542,115.2 542,118.6 542.1,117.6 542.2,119.2 542.3,118.2 542.4,117.4 542.5,117.4 542.6,116.5 542.6,116.8 542.7,116.3 542.8,118.5 542.9,117.4 543,119 543.1,118 543.2,121.4 543.2,118.1 543.3,118 543.4,118.8 543.5,118.8 543.6,120.6 543.7,119.3 543.8,119.3 543.9,118.3 543.9,118 544,119.2 544.1,118.8 544.2,118.1 544.3,119.7 544.4,117.2 544.5,115.9 544.5,117.9 544.6,118.9 544.7,118 544.8,116.7 544.9,116.5 545,119.9 545.1,117.8 545.1,119.1 545.2,118.8 545.3,117.9 545.4,117.6 545.5,118.7 545.6,119.5 545.7,118.8 545.7,119.9 545.8,116.4 545.9,120.7 546,118 546.1,118.7 546.2,118.9 546.3,120.3 546.4,119.6 546.4,119.5 546.5,119.8 546.6,119.5 546.7,119.2 546.8,120 546.9,118.9 547,118.6 547,120.2 547.1,118.6 547.2,119.5 547.3,120.2 547.4,118.9 547.5,118 547.6,119.7 547.6,121.5 547.7,118.1 547.8,117.6 547.9,120.1 548,118.8 548.1,117.8 548.2,121.2 548.3,117.1 548.3,117 548.4,116.8 548.5,115.9 548.6,119 548.7,116.5 548.8,114.8 548.9,120.5 548.9,118.2 549,116.9 549.1,118.8 549.2,120.2 549.3,117.6 549.4,117.9 549.5,119.1 549.5,117.9 549.6,117.1 549.7,117.1 549.8,117.9 549.9,120.1 550,118.9 550.1,121.3 550.1,119.8 550.2,118.2 550.3,117.6 550.4,118.3 550.5,118.2 550.6,120.6 550.7,119.7 550.8,119.4 550.8,118.7 550.9,118.7 551,115.1 551.1,116.6 551.2,119.2 551.3,118.8 551.4,118.7 551.4,118.9 551.5,118.9 551.6,120.9 551.7,117 551.8,117.7 551.9,117.8 552,118.5 552,118.1 552.1,119.3 552.2,121.4 552.3,118.8 552.4,119 552.5,120.8 552.6,122 552.6,117.7 552.7,120.5 552.8,119.5 552.9,120.2 553,117.1 553.1,121.1 553.2,117.8 553.3,122.3 553.3,117.8 553.4,119.5 553.5,121.7 553.6,118.6 553.7,118.7 553.8,120.5 553.9,117.9 553.9,118.3 554,117.6 554.1,119.9 554.2,119 554.3,119.2 554.4,117.9 554.5,118.7 554.5,119.3 554.6,116.3 554.7,118.8 554.8,116.7 554.9,117.1 555,119.1 555.1,120.6 555.2,118 555.2,117.5 555.3,116.9 555.4,118 555.5,118.1 555.6,119.5 555.7,119.7 555.8,114.7 555.8,117.5 555.9,120.8 556,118.8 556.1,118.7 556.2,121.6 556.3,119.8 556.4,118.8 556.4,117.5 556.5,117.5 556.6,120.1 556.7,120 556.8,120.1 556.9,119.2 557,118.2 557,120.5 557.1,119.2 557.2,119.6 557.3,119.7 557.4,119.2 557.5,116.1 557.6,116.1 557.7,116.3 557.7,120.3 557.8,117.7 557.9,115.1 558,117.6 558.1,119.1 558.2,117.5 558.3,118.7 558.3,119 558.4,118.2 558.5,118 558.6,118.9 558.7,118.8 558.8,120.1 558.9,118.9 558.9,117.9 559,118.8 559.1,119.2 559.2,120.8 559.3,117.5 559.4,120.5 559.5,118.1 559.5,119.5 559.6,118.1 559.7,117.8 559.8,119.6 559.9,123.1 560,121.9 560.1,120.5 560.2,120.4 560.2,118.9 560.3,116.8 560.4,118.5 560.5,119.6 560.6,117.6 560.7,119.6 560.8,118.2 560.8,118.9 560.9,121.8 561,118.1 561.1,117 561.2,119.6 561.3,118 561.4,118.3 561.4,119.2 561.5,119.2 561.6,117.4 561.7,119.4 561.8,119.2 561.9,117.4 562,117.2 562,116.4 562.1,119.2 562.2,120.1 562.3,117 562.4,120.4 562.5,119 562.6,118.8 562.7,116.3 562.7,118.5 562.8,120.1 562.9,118.6 563,116.8 563.1,120.9 563.2,120.3 563.3,117.4 563.3,118.6 563.4,120.2 563.5,119.1 563.6,118.8 563.7,120.4 563.8,119.8 563.9,117.2 563.9,118.7 564,117.7 564.1,119.2 564.2,119.9 564.3,118.6 564.4,120.2 564.5,118.5 564.6,119.3 564.6,119.2 564.7,119 564.8,119.9 564.9,116.8 565,120.5 565.1,118.3 565.2,120.3 565.2,117.5 565.3,118.9 565.4,118.4 565.5,118.1 565.6,118.2 565.7,118.5 565.8,118.4 565.8,118.5 565.9,119.5 566,119.3 566.1,119.3 566.2,120 566.3,119.8 566.4,117.5 566.4,121.2 566.5,117.2 566.6,120.1 566.7,118.8 566.8,119.6 566.9,119.9 567,119.1 567.1,117.6 567.1,120 567.2,119.9 567.3,120.6 567.4,117.3 567.5,118.4 567.6,118.5 567.7,119.9 567.7,122.3 567.8,119.3 567.9,122.1 568,120.7 568.1,118.7 568.2,120.7 568.3,120.8 568.3,122.6 568.4,119 568.5,119.4 568.6,120.4 568.7,119.3 568.8,121.7 568.9,120.8 568.9,119.3 569,118.3 569.1,119.3 569.2,120.7 569.3,119.6 569.4,117.4 569.5,119.4 569.6,118.2 569.6,117.8 569.7,119 569.8,118.2 569.9,120.5 570,118.8 570.1,118 570.2,117.3 570.2,116.4 570.3,118.8 570.4,117.7 570.5,118.5 570.6,119.4 570.7,119.5 570.8,118.8 570.8,118.7 570.9,119.9 571,115.5 571.1,119 571.2,118.2 571.3,119.5 571.4,115.7 571.5,122.1 571.5,119.7 571.6,119 571.7,117.7 571.8,119.2 571.9,120.4 572,117.1 572.1,118.2 572.1,119.4 572.2,119.4 572.3,119.3 572.4,118.8 572.5,121.1 572.6,118.8 572.7,119.7 572.7,118.3 572.8,118.5 572.9,120.3 573,117.2 573.1,117.9 573.2,120 573.3,120.2 573.3,119.7 573.4,118.3 573.5,117.1 573.6,119.8 573.7,119.7 573.8,118 573.9,118.8 574,118.8 574,118.9 574.1,119.2 574.2,116.6 574.3,117.6 574.4,119.4 574.5,117.5 574.6,116.8 574.6,118.7 574.7,119 574.8,120.2 574.9,119.4 575,119.4 575.1,118 575.2,120.9 575.2,121.8 575.3,120.4 575.4,119.3 575.5,122.2 575.6,119.9 575.7,120.6 575.8,120.9 575.8,119.3 575.9,118 576,121.2 576.1,119.3 576.2,119.8 576.3,118.8 576.4,119.7 576.5,120.6 576.5,118.7 576.6,119.4 576.7,121.2 576.8,122.5 576.9,120.9 577,119.7 577.1,119 577.1,120.6 577.2,120.3 577.3,122.1 577.4,120.3 577.5,119.6 577.6,120.5 577.7,119.9 577.7,121 577.8,121 577.9,119.4 578,121.8 578.1,119.8 578.2,118.4 578.3,120.5 578.3,120.5 578.4,120.8 578.5,121.3 578.6,120.4 578.7,121.2 578.8,119.8 578.9,120.1 579,120.8 579,119.3 579.1,118.1 579.2,118.3 579.3,119.6 579.4,119.3 579.5,120.6 579.6,119.6 579.6,118.5 579.7,118.4 579.8,117.6 579.9,121.1 580,117.1 580.1,118.5 580.2,116.9 580.2,118.7 580.3,116.9 580.4,118.3 580.5,119.5 580.6,117.6 580.7,118.5 580.8,117.9 580.9,117.1 580.9,116.8 581,116.9 581.1,116.6 581.2,119.9 581.3,116.6 581.4,119.3 581.5,118.3 581.5,119.1 581.6,120.2 581.7,117.8 581.8,120.3 581.9,119.9 582,117.5 582.1,122.4 582.1,121.8 582.2,118.5 582.3,120.4 582.4,118.9 582.5,120 582.6,120.7 582.7,119.3 582.7,121.1 582.8,120.9 582.9,119.9 583,121.6 583.1,122 583.2,122.3 583.3,119 583.4,117.7 583.4,118.6 583.5,121 583.6,120.8 583.7,121.5 583.8,120.3 583.9,119.2 584,120.7 584,120.6 584.1,124.7 584.2,120.3 584.3,122.2 584.4,121 584.5,120.1 584.6,120.3 584.6,119.3 584.7,118.1 584.8,122.6 584.9,121.4 585,117.1 585.1,118.2 585.2,119.5 585.2,118.7 585.3,118.2 585.4,116.8 585.5,118.5 585.6,118 585.7,119.7 585.8,116.1 585.9,117.4 585.9,118.6 586,119.8 586.1,118.3 586.2,117.2 586.3,115.4 586.4,115.8 586.5,118.8 586.5,118.9 586.6,119.6 586.7,117.8 586.8,119.3 586.9,117.7 587,118.1 587.1,118 587.1,119.8 587.2,117.2 587.3,119 587.4,120.4 587.5,119.1 587.6,118.9 587.7,119.1 587.7,118 587.8,117.8 587.9,116.6 588,119.7 588.1,118.1 588.2,123 588.3,117.3 588.4,119.8 588.4,118.2 588.5,120.1 588.6,119.2 588.7,119 588.8,120.6 588.9,120.6 589,123.5 589,119 589.1,119.9 589.2,119.8 589.3,117.8 589.4,118.7 589.5,118.7 589.6,121.3 589.6,118.5 589.7,118.9 589.8,117.2 589.9,118.9 590,119.7 590.1,118.3 590.2,115.5 590.3,119 590.3,116.2 590.4,118.1 590.5,120.4 590.6,117.1 590.7,114.9 590.8,117.4 590.9,119.5 590.9,118.5 591,119.3 591.1,114.6 591.2,117.7 591.3,121.5 591.4,117.5 591.5,118.1 591.5,120.1 591.6,119.6 591.7,119 591.8,116.8 591.9,119.7 592,120.1 592.1,118 592.1,120 592.2,120.6 592.3,119.4 592.4,118.3 592.5,119.2 592.6,120 592.7,117.8 592.8,117.9 592.8,121.8 592.9,121.3 593,121 593.1,120.2 593.2,119.9 593.3,120.3 593.4,120.2 593.4,119.8 593.5,122.1 593.6,123.3 593.7,120.1 593.8,118.9 593.9,120.2 594,120.9 594,119.5 594.1,120.5 594.2,121.6 594.3,120.3 594.4,118.7 594.5,119.1 594.6,118.5 594.6,119.8 594.7,118.4 594.8,117.1 594.9,119.4 595,119.6 595.1,117.4 595.2,118.9 595.3,120.5 595.3,119.5 595.4,117.3 595.5,118.6 595.6,116.7 595.7,118.3 595.8,118.8 595.9,117.7 595.9,119.8 596,117.7 596.1,119.1 596.2,119.3 596.3,118.5 596.4,119.6 596.5,120.4 596.5,120.1 596.6,118.4 596.7,118.7 596.8,119.1 596.9,118.4 597,120.6 597.1,120 597.2,117.5 597.2,120.7 597.3,117.9 597.4,119.9 597.5,118.9 597.6,119.2 597.7,119.7 597.8,119.1 597.8,118 597.9,120.1 598,120.3 598.1,118 598.2,119.6 598.3,119.3 598.4,119.4 598.4,119.7 598.5,121.6 598.6,119.5 598.7,120.1 598.8,121.3 598.9,120.4 599,119.5 599,117.7 599.1,120.5 599.2,118.2 599.3,120.5 599.4,119.3 599.5,120.2 599.6,118.8 599.7,119.5 599.7,120.1 599.8,121.5 599.9,118.1 600,121.2 600.1,119.9 600.2,116.8 600.3,118.6 600.3,118.8 600.4,118.7 600.5,118.4 600.6,119.1 600.7,118.2 600.8,118.8 600.9,119 600.9,118 601,117.8 601.1,118.1 601.2,117.4 601.3,116.2 601.4,116.3 601.5,118.3 601.5,119.8 601.6,116.9 601.7,118.2 601.8,117.3 601.9,118.6 602,117.1 602.1,119.6 602.2,118 602.2,119.9 602.3,115.8 602.4,118.7 602.5,121.1 602.6,117 602.7,117.5 602.8,117.2 602.8,120.5 602.9,118.7 603,117.6 603.1,119.6 603.2,118.9 603.3,119.7 603.4,119.7 603.4,117.5 603.5,120.2 603.6,118.9 603.7,118.1 603.8,118.6 603.9,117.4 604,120.8 604,116.7 604.1,119.5 604.2,118.2 604.3,118.3 604.4,117.2 604.5,118 604.6,118.3 604.7,117 604.7,115.4 604.8,118.8 604.9,119 605,119.1 605.1,120.1 605.2,120.2 605.3,119.4 605.3,118 605.4,119.6 605.5,120 605.6,119.2 605.7,120.1 605.8,115.6 605.9,117 605.9,118.7 606,120.8 606.1,119.2 606.2,119.5 606.3,119.3 606.4,120.7 606.5,118.5 606.6,118.5 606.6,118.5 606.7,119.3 606.8,117.2 606.9,118.8 607,120.6 607.1,119.2 607.2,117 607.2,116.7 607.3,119.8 607.4,118.9 607.5,118.2 607.6,117.9 607.7,119.9 607.8,119 607.8,120.1 607.9,121.9 608,118.5 608.1,119.8 608.2,119.2 608.3,120 608.4,120.8 608.4,120.2 608.5,119.2 608.6,121.1 608.7,117.5 608.8,116.5 608.9,122.1 609,118.1 609.1,119.7 609.1,118.4 609.2,119 609.3,119.5 609.4,118.1 609.5,119.2 609.6,117.6 609.7,119.2 609.7,121.6 609.8,120.1 609.9,120 610,120.8 610.1,121.7 610.2,117.9 610.3,120.4 610.3,120.4 610.4,122.4 610.5,119.6 610.6,120.4 610.7,118.7 610.8,117.9 610.9,120.6 610.9,120.6 611,118.2 611.1,118.1 611.2,119 611.3,118.4 611.4,119.7 611.5,119.2 611.6,119.2 611.6,121.9 611.7,118.4 611.8,118.3 611.9,120.4 612,120 612.1,119.1 612.2,118.6 612.2,119.4 612.3,120 612.4,119 612.5,119.3 612.6,120.7 612.7,119.8 612.8,120 612.8,118.7 612.9,121.1 613,120.5 613.1,119.9 613.2,119.4 613.3,116.5 613.4,119.6 613.5,118 613.5,118.4 613.6,117.8 613.7,117.2 613.8,118.6 613.9,120.6 614,119.8 614.1,117.5 614.1,116.6 614.2,117.7 614.3,116.2 614.4,118.3 614.5,120.1 614.6,118.9 614.7,118.6 614.7,117.7 614.8,117.7 614.9,119.8 615,117.2 615.1,119.3 615.2,118.2 615.3,117.7 615.3,117.7 615.4,117.9 615.5,119.3 615.6,118.9 615.7,117.6 615.8,119.4 615.9,120.4 616,122.2 616,119.1 616.1,120.3 616.2,119.2 616.3,120.6 616.4,119.8 616.5,119.8 616.6,118.2 616.6,120.5 616.7,120.9 616.8,119.3 616.9,118.4 617,120.5 617.1,118.6 617.2,119.3 617.2,118.7 617.3,121.6 617.4,119.1 617.5,119.5 617.6,118.9 617.7,119.9 617.8,119.2 617.8,121.8 617.9,119 618,117.3 618.1,118.8 618.2,119 618.3,118.7 618.4,117.5 618.5,120.2 618.5,121.2 618.6,120.9 618.7,120.4 618.8,119.5 618.9,118.6 619,120.5 619.1,120.9 619.1,118.5 619.2,118.3 619.3,120.5 619.4,118.5 619.5,119.6 619.6,120 619.7,119.4 619.7,120.4 619.8,121.3 619.9,120.9 620,120.1 620.1,118.8 620.2,118.7 620.3,118.2 620.3,120.3 620.4,119.4 620.5,121.2 620.6,120.6 620.7,118.1 620.8,119.6 620.9,117.2 621,118.7 621,120.2 621.1,120.5 621.2,122.2 621.3,118 621.4,118.3 621.5,115 621.6,116.8 621.6,119 621.7,120.6 621.8,121.4 621.9,119.6 622,119.1 622.1,120.8 622.2,118 622.2,117.6 622.3,120.1 622.4,119.1 622.5,120.6 622.6,117.6 622.7,120 622.8,120.4 622.9,121.6 622.9,120.5 623,121.3 623.1,117.7 623.2,118.3 623.3,120.7 623.4,120.2 623.5,119.2 623.5,118.9 623.6,120.4 623.7,117.3 623.8,118.1 623.9,116.4 624,122.6 624.1,121.1 624.1,118.3 624.2,119.1 624.3,119.9 624.4,121.2 624.5,119.3 624.6,120.8 624.7,118.7 624.7,119.2 624.8,119.6 624.9,123.2 625,120.5 625.1,118.7 625.2,118.7 625.3,119.5 625.4,119.5 625.4,121.8 625.5,118.9 625.6,118.2 625.7,119.9 625.8,119.6 625.9,120.3 626,119.7 626,120.2 626.1,119.1 626.2,119.8 626.3,121.4 626.4,120.2 626.5,118.9 626.6,119.1 626.6,117.5 626.7,118.1 626.8,117.7 626.9,119.4 627,118 627.1,120.2 627.2,120.2 627.2,118.2 627.3,119 627.4,120.2 627.5,118 627.6,117.3 627.7,118.1 627.8,117.3 627.9,117.7 627.9,117.7 628,119.9 628.1,121.3 628.2,119.3 628.3,123.1 628.4,119.7 628.5,120.5 628.5,119 628.6,120.1 628.7,119.3 628.8,120.5 628.9,119.8 629,117.6 629.1,120.9 629.1,121.8 629.2,117.8 629.3,118.6 629.4,119.6 629.5,120.1 629.6,119.2 629.7,120 629.8,118.3 629.8,120 629.9,120.3 630,118.9 630.1,120.6 630.2,118.7 630.3,121 630.4,120.1 630.4,119.1 630.5,120.2 630.6,118.1 630.7,119.3 630.8,118.8 630.9,121.5 631,118.2 631,118.8 631.1,121.3 631.2,118.5 631.3,118.4 631.4,119.7 631.5,120.3 631.6,120.7 631.6,118.9 631.7,118.9 631.8,119.4 631.9,116.6 632,119.2 632.1,119.1 632.2,121.4 632.3,118.9 632.3,118.2 632.4,120.4 632.5,116.6 632.6,120 632.7,119.1 632.8,119.7 632.9,119.7 632.9,122.8 633,117.9 633.1,121.9 633.2,117.4 633.3,120.4 633.4,119.6 633.5,115.7 633.5,120.2 633.6,119.2 633.7,120.5 633.8,119.2 633.9,118.5 634,117.1 634.1,122.5 634.1,119.3 634.2,118.5 634.3,118.1 634.4,120.5 634.5,119.5 634.6,117.3 634.7,119.3 634.8,117.3 634.8,121.7 634.9,121.1 635,120.3 635.1,121.6 635.2,119.6 635.3,121.8 635.4,120 635.4,122.2 635.5,121.3 635.6,119.8 635.7,119.3 635.8,121.1 635.9,121.7 636,118.9 636,120.9 636.1,119 636.2,117.8 636.3,118.6 636.4,121.4 636.5,117.9 636.6,118.1 636.6,120.3 636.7,120.2 636.8,117.8 636.9,119.2 637,119.1 637.1,118.2 637.2,118.9 637.3,115.9 637.3,117.7 637.4,119.1 637.5,119.1 637.6,119.5 637.7,117.4 637.8,120.5 637.9,117.8 637.9,119.6 638,121.2 638.1,117.5 638.2,118.2 638.3,118.5 638.4,119.3 638.5,118.9 638.5,119.8 638.6,117.3 638.7,117.2 638.8,119.1 638.9,119 639,118.6 639.1,117.8 639.2,118.6 639.2,119.4 639.3,119 639.4,118.2 639.5,118.6 639.6,118.8 639.7,116.7 639.8,117.6 639.8,116.9 639.9,119.1 640,116.9 640.1,118 640.2,118.4 640.3,119 640.4,119.1 640.4,119 640.5,118.4 640.6,118.9 640.7,116.4 640.8,118.6 640.9,119.1 641,119.8 641,120.8 641.1,121.1 641.2,119.7 641.3,122.3 641.4,118.4 641.5,118.5 641.6,122.4 641.7,118.9 641.7,119 641.8,118.8 641.9,119.3 642,117.9 642.1,120.9 642.2,120.4 642.3,118.9 642.3,119.5 642.4,121.3 642.5,118.3 642.6,118 642.7,119.6 642.8,118.9 642.9,118.2 642.9,122.1 643,120.1 643.1,120.5 643.2,119.6 643.3,121 643.4,121 643.5,119 643.5,117 643.6,120.8 643.7,117.2 643.8,118 643.9,117.9 644,117.5 644.1,119.8 644.2,117.7 644.2,121.1 644.3,120.2 644.4,118.7 644.5,118.2 644.6,121 644.7,121.7 644.8,118.8 644.8,119 644.9,118.5 645,119.6 645.1,121.2 645.2,118.2 645.3,118.8 645.4,119.6 645.4,117.2 645.5,119.8 645.6,118.2 645.7,120.4 645.8,124 645.9,121.7 646,123.7 646.1,120.5 646.1,118.7 646.2,122.3 646.3,119.1 646.4,120.4 646.5,118.8 646.6,119.5 646.7,121.1 646.7,119.1 646.8,119.9 646.9,118.7 647,117.5 647.1,120.2 647.2,117.9 647.3,120.1 647.3,119.2 647.4,119.7 647.5,120.8 647.6,119.7 647.7,120.4 647.8,119.1 647.9,121.1 647.9,120.9 648,118.6 648.1,119 648.2,119 648.3,119 648.4,118.4 648.5,119.3 648.6,118.8 648.6,121 648.7,119.5 648.8,121.2 648.9,121.9 649,120.7 649.1,119.6 649.2,120.4 649.2,118.1 649.3,119.6 649.4,119.8 649.5,120.1 649.6,121.9 649.7,120 649.8,120 649.8,117.6 649.9,120.8 650,119.8 650.1,120.5 650.2,119.3 650.3,121.6 650.4,119 650.4,119.4 650.5,119.2 650.6,116.1 650.7,119.6 650.8,118.9 650.9,119.5 651,118.2 651.1,116.7 651.1,117.4 651.2,119.3 651.3,121.3 651.4,119.2 651.5,121.8 651.6,120.9 651.7,120.6 651.7,121.2 651.8,119.8 651.9,120.3 652,120.8 652.1,119.5 652.2,121 652.3,118.4 652.3,119.3 652.4,120.8 652.5,119.6 652.6,121.1 652.7,121.1 652.8,119.1 652.9,122.5 652.9,120 653,118.2 653.1,123.5 653.2,117.7 653.3,123.3 653.4,123.7 653.5,123.6 653.6,122.4 653.6,121.7 653.7,123.4 653.8,121.2 653.9,119.9 654,121.9 654.1,120.7 654.2,120 654.2,118.5 654.3,120.7 654.4,119.6 654.5,119.7 654.6,120.1 654.7,120.5 654.8,119.4 654.8,118.8 654.9,121.2 655,119.8 655.1,118.7 655.2,118.7 655.3,118.5 655.4,116.6 655.5,117.2 655.5,120.2 655.6,116.5 655.7,119.5 655.8,119.8 655.9,117.4 656,119.3 656.1,121.2 656.1,118.3 656.2,118.8 656.3,118.8 656.4,121.4 656.5,118.6 656.6,120.5 656.7,118.6 656.7,121.3 656.8,120.9 656.9,122.1 657,120.5 657.1,117.9 657.2,118.8 657.3,119.7 657.3,117.1 657.4,118.5 657.5,117.7 657.6,118.3 657.7,118.9 657.8,118.6 657.9,118.3 658,117.6 658,118.4 658.1,118.3 658.2,121.1 658.3,122.3 658.4,119.7 658.5,120.1 658.6,119.9 658.6,122 658.7,120.6 658.8,122.2 658.9,120.8 659,121 659.1,121 659.2,120.3 659.2,121.3 659.3,120.6 659.4,119.5 659.5,118.3 659.6,119.6 659.7,118.9 659.8,119 659.8,117.6 659.9,117 660,120.5 660.1,118.7 660.2,119.3 660.3,117.6 660.4,122.8 660.5,120.5 660.5,122 660.6,118 660.7,119.5 660.8,119 660.9,119.3 661,119.6 661.1,119.5 661.1,120.6 661.2,122.7 661.3,119.6 661.4,120.1 661.5,120.8 661.6,120.9 661.7,118.4 661.7,121.1 661.8,121.6 661.9,119.4 662,118.4 662.1,122 662.2,121.6 662.3,121.7 662.4,119.9 662.4,119.7 662.5,118.6 662.6,120.6 662.7,120.8 662.8,121.2 662.9,119 663,121.2 663,121.5 663.1,120.6 663.2,120.3 663.3,119.7 663.4,121 663.5,117.8 663.6,117.6 663.6,121.5 663.7,119.8 663.8,121.3 663.9,120.4 664,121.7 664.1,120.5 664.2,119.8 664.2,120.1 664.3,122.1 664.4,123 664.5,122.9 664.6,119 664.7,120.8 664.8,120.5 664.9,118.7 664.9,121.8 665,119.9 665.1,121.2 665.2,120 665.3,122.5 665.4,120.5 665.5,119.9 665.5,119.6 665.6,121.5 665.7,119.9 665.8,118.4" fill="none" stroke="#3c3c3c" stroke-width="0.8" stroke-linejoin="round" />
<polyline points="493.4,147.1 493.5,143.3 493.6,143.1 493.7,144.6 493.7,142.2 493.8,143 493.9,143.1 494,145.8 494.1,143.1 494.2,143.8 494.3,143.9 494.3,146.7 494.4,145.9 494.5,144.5 494.6,145.7 494.7,142.6 494.8,145.4 494.9,143.2 495,143.7 495,140.8 495.1,143.9 495.2,142.3 495.3,144.4 495.4,145.1 495.5,143.4 495.6,142.2 495.6,144.2 495.7,142.3 495.8,142.8 495.9,143.3 496,143 496.1,143 496.2,143.8 496.2,142.8 496.3,142.5 496.4,143.8 496.5,146 496.6,142.2 496.7,143.8 496.8,142.4 496.8,144.2 496.9,142.9 497,143.7 497.1,144 497.2,143.8 497.3,143.5 497.4,146 497.5,142.7 497.5,143.2 497.6,144.1 497.7,146.4 497.8,143.7 497.9,144.7 498,142.9 498.1,145.4 498.1,145 498.2,143.7 498.3,147.3 498.4,145.2 498.5,144.9 498.6,147.3 498.7,145.6 498.7,144.1 498.8,143.9 498.9,142.2 499,142.9 499.1,145.5 499.2,142.9 499.3,143.3 499.4,143.6 499.4,145 499.5,141.5 499.6,141.5 499.7,143.2 499.8,144.4 499.9,144.8 500,144.8 500,142.5 500.1,145.5 500.2,142.3 500.3,143.9 500.4,143.3 500.5,142.8 500.6,140.9 500.6,142.9 500.7,143.8 500.8,143.2 500.9,143.5 501,143.6 501.1,143.5 501.2,144.7 501.2,143 501.3,144.9 501.4,141.9 501.5,143.5 501.6,144.3 501.7,142.1 501.8,142 501.9,142.5 501.9,144.2 502,143.9 502.1,141.6 502.2,139.5 502.3,141.8 502.4,141.7 502.5,141.4 502.5,143 502.6,140.7 502.7,142.8 502.8,142.1 502.9,143.2 503,143.8 503.1,143.4 503.1,143.7 503.2,143.2 503.3,141.1 503.4,142.7 503.5,143.8 503.6,142.9 503.7,144.1 503.7,142.2 503.8,142.8 503.9,144.1 504,143.9 504.1,143.8 504.2,145.2 504.3,145.4 504.4,144.2 504.4,145.1 504.5,144.1 504.6,143 504.7,144.3 504.8,143.4 504.9,142 505,144.5 505,142.3 505.1,144.9 505.2,145.2 505.3,143.7 505.4,144 505.5,145.6 505.6,142.3 505.6,142.8 505.7,144.8 505.8,143.8 505.9,143.6 506,144.9 506.1,143 506.2,144.9 506.3,145.2 506.3,141.4 506.4,143.8 506.5,143.9 506.6,143.2 506.7,143.7 506.8,140.3 506.9,142.2 506.9,141.8 507,141.7 507.1,140.3 507.2,145.4 507.3,142 507.4,142.7 507.5,142.9 507.5,141.6 507.6,142.3 507.7,145.2 507.8,143 507.9,143.5 508,142.1 508.1,145.9 508.1,142.8 508.2,143.4 508.3,142.8 508.4,143.2 508.5,146.1 508.6,142.9 508.7,143.8 508.8,144.7 508.8,142.7 508.9,143.8 509,141.8 509.1,142.5 509.2,145.1 509.3,142.8 509.4,143.7 509.4,143.8 509.5,143.9 509.6,142.6 509.7,144.6 509.8,143.2 509.9,145.4 510,143.3 510,145.1 510.1,145.1 510.2,143.7 510.3,144.9 510.4,142.3 510.5,144.9 510.6,141.7 510.6,142.7 510.7,143.6 510.8,143 510.9,143.6 511,141.1 511.1,143.3 511.2,144.6 511.3,143.6 511.3,144.5 511.4,144.2 511.5,144.9 511.6,144.8 511.7,143.2 511.8,144.3 511.9,143.3 511.9,144.5 512,144.3 512.1,144.7 512.2,142.5 512.3,142.1 512.4,144 512.5,142.8 512.5,145.5 512.6,145.3 512.7,143 512.8,145.8 512.9,140.5 513,142.6 513.1,141.8 513.1,144 513.2,145.5 513.3,145.1 513.4,145.1 513.5,143.2 513.6,145.5 513.7,145.3 513.8,142.6 513.8,146 513.9,145.4 514,143.1 514.1,141.7 514.2,146.5 514.3,147.4 514.4,145.4 514.4,144.2 514.5,144.4 514.6,144.9 514.7,145.6 514.8,143 514.9,144.5 515,144.6 515,143.7 515.1,141.9 515.2,143.3 515.3,140.3 515.4,143.6 515.5,142.4 515.6,145.6 515.7,143.8 515.7,143.1 515.8,143.9 515.9,144 516,143.7 516.1,144.3 516.2,143.8 516.3,143.1 516.3,142.8 516.4,144.6 516.5,143.6 516.6,144.4 516.7,142.5 516.8,141.6 516.9,143.5 516.9,143.3 517,144.2 517.1,143.4 517.2,144.3 517.3,145.6 517.4,142.7 517.5,141.5 517.5,143.5 517.6,144.3 517.7,143.7 517.8,142.3 517.9,144.7 518,143.4 518.1,144 518.2,146.8 518.2,144.6 518.3,143.5 518.4,143.7 518.5,144.1 518.6,145.3 518.7,143.5 518.8,143.5 518.8,143 518.9,141.4 519,143.4 519.1,142.1 519.2,142.7 519.3,139.9 519.4,142.4 519.4,139.8 519.5,144.1 519.6,144.4 519.7,142.3 519.8,143.1 519.9,141.3 520,141.9 520,142 520.1,143.9 520.2,143.1 520.3,142.2 520.4,143.9 520.5,143.4 520.6,142.1 520.7,143.8 520.7,143.6 520.8,142.5 520.9,143.6 521,146 521.1,144.3 521.2,144.6 521.3,144.4 521.3,142.1 521.4,143.6 521.5,144.9 521.6,145.9 521.7,144.2 521.8,145.1 521.9,143.8 521.9,145 522,144.2 522.1,146.3 522.2,145.6 522.3,145.3 522.4,146.3 522.5,144.8 522.6,145.7 522.6,145.6 522.7,145.9 522.8,145.1 522.9,146.8 523,143.6 523.1,144.1 523.2,143.8 523.2,142.9 523.3,143.9 523.4,144.4 523.5,142.3 523.6,144.2 523.7,143.4 523.8,146.1 523.8,144 523.9,143.2 524,142.3 524.1,142.4 524.2,141.8 524.3,143.6 524.4,143.6 524.4,142.6 524.5,143.8 524.6,143.3 524.7,142.8 524.8,145.3 524.9,144.9 525,142.6 525.1,144.1 525.1,142.5 525.2,144.1 525.3,144.9 525.4,143 525.5,144.2 525.6,143.6 525.7,145 525.7,145.3 525.8,144.8 525.9,145.4 526,144.8 526.1,145.8 526.2,144.2 526.3,143.7 526.3,144.1 526.4,146.2 526.5,143.2 526.6,146.7 526.7,144.4 526.8,144.4 526.9,143.6 526.9,145.3 527,145 527.1,143 527.2,143 527.3,145.5 527.4,144.7 527.5,145.2 527.6,147.3 527.6,142.9 527.7,145 527.8,144.2 527.9,143.9 528,145.7 528.1,143 528.2,144.9 528.2,145.8 528.3,143.6 528.4,143.8 528.5,144.6 528.6,144 528.7,141.9 528.8,143 528.8,143.7 528.9,144.1 529,141.5 529.1,144.1 529.2,145.9 529.3,142 529.4,144.1 529.4,146 529.5,145.1 529.6,145.1 529.7,146.1 529.8,144.4 529.9,144.2 530,141.6 530.1,143.7 530.1,144.3 530.2,144 530.3,143.6 530.4,142.7 530.5,142.4 530.6,146.4 530.7,146 530.7,144.3 530.8,142.1 530.9,145.1 531,143.3 531.1,145.4 531.2,145.4 531.3,145.1 531.3,143.2 531.4,145.5 531.5,144.9 531.6,144.6 531.7,143.8 531.8,144.9 531.9,143.8 532,142.9 532,143.9 532.1,145.3 532.2,144.9 532.3,144.4 532.4,145 532.5,146 532.6,145.7 532.6,145.2 532.7,146.9 532.8,141.1 532.9,143.5 533,145.2 533.1,145.4 533.2,143 533.2,146.2 533.3,145.7 533.4,143.3 533.5,144.6 533.6,143.6 533.7,144.4 533.8,144.6 533.8,145.3 533.9,143.9 534,144.2 534.1,144.2 534.2,145 534.3,143.1 534.4,144.4 534.5,143.8 534.5,145.9 534.6,146.5 534.7,143.8 534.8,145.5 534.9,145.7 535,144.3 535.1,143.2 535.1,145.1 535.2,145.2 535.3,144.3 535.4,144.2 535.5,144.8 535.6,147.1 535.7,144 535.7,145.9 535.8,142.5 535.9,145.7 536,144.6 536.1,144.8 536.2,144.5 536.3,141.7 536.3,144.9 536.4,143.3 536.5,144.4 536.6,144.7 536.7,143.3 536.8,143.7 536.9,144.3 537,145.1 537,143.3 537.1,139.7 537.2,143.8 537.3,142.8 537.4,144.2 537.5,139.2 537.6,145 537.6,144 537.7,145.5 537.8,142.5 537.9,143.1 538,142.8 538.1,143.3 538.2,141.4 538.2,141.7 538.3,142 538.4,146.6 538.5,144.5 538.6,143.4 538.7,142.5 538.8,147 538.9,141.8 538.9,143.3 539,141.8 539.1,145.1 539.2,144.7 539.3,145 539.4,144.5 539.5,144.7 539.5,145.7 539.6,142.1 539.7,143 539.8,144.5 539.9,146 540,142.1 540.1,146.1 540.1,144.7 540.2,144.9 540.3,144.2 540.4,142.8 540.5,142.3 540.6,143 540.7,144.8 540.7,141.8 540.8,142 540.9,142.5 541,140.6 541.1,144.8 541.2,144.4 541.3,144.4 541.4,144.2 541.4,142.7 541.5,143.2 541.6,143.9 541.7,142 541.8,143.5 541.9,144 542,144.1 542,144.9 542.1,143.6 542.2,144.4 542.3,143.5 542.4,142.9 542.5,142.8 542.6,143.9 542.6,141.1 542.7,144.8 542.8,142.6 542.9,143.4 543,143.2 543.1,144.4 543.2,144.5 543.2,142.8 543.3,145.7 543.4,143.6 543.5,145.5 543.6,146 543.7,143.7 543.8,144.5 543.9,141.6 543.9,146 544,143.7 544.1,143.8 544.2,143.8 544.3,144.5 544.4,146 544.5,143.2 544.5,143.3 544.6,143.7 544.7,143.8 544.8,142.7 544.9,142.9 545,143.2 545.1,144.8 545.1,142.8 545.2,145.1 545.3,143.6 545.4,145.3 545.5,144.3 545.6,143.1 545.7,144.5 545.7,142.9 545.8,144.6 545.9,142 546,144.2 546.1,141 546.2,143.3 546.3,144.2 546.4,145.6 546.4,144.8 546.5,142 546.6,145.9 546.7,146.3 546.8,144.1 546.9,143 547,144.9 547,145.5 547.1,144.7 547.2,144.6 547.3,143 547.4,142 547.5,144.4 547.6,145.1 547.6,145.5 547.7,146.1 547.8,144 547.9,145.7 548,142.9 548.1,143.9 548.2,144.3 548.3,141.7 548.3,145.4 548.4,142.2 548.5,143.2 548.6,143 548.7,143.3 548.8,144.7 548.9,142.6 548.9,142 549,145.9 549.1,143.5 549.2,143.8 549.3,144.1 549.4,143.4 549.5,144.2 549.5,144.6 549.6,142.8 549.7,145.5 549.8,145 549.9,145.1 550,145.6 550.1,145.3 550.1,142.9 550.2,145.6 550.3,141.6 550.4,146.4 550.5,147.4 550.6,145.2 550.7,145.9 550.8,142.9 550.8,143.7 550.9,145.4 551,144.4 551.1,144.4 551.2,140.9 551.3,143.9 551.4,143.7 551.4,143.4 551.5,143.8 551.6,144.2 551.7,145.3 551.8,144.2 551.9,144.2 552,146.1 552,144.5 552.1,146.2 552.2,146.7 552.3,144.9 552.4,144.2 552.5,143.7 552.6,145.5 552.6,146.5 552.7,145.8 552.8,145 552.9,144.7 553,144 553.1,144.6 553.2,143 553.3,145 553.3,143.5 553.4,143.2 553.5,143.4 553.6,143.1 553.7,145.1 553.8,142.7 553.9,144.3 553.9,143.9 554,144.8 554.1,143.2 554.2,144.2 554.3,144.5 554.4,143 554.5,144.8 554.5,143.5 554.6,143.8 554.7,143.5 554.8,144.1 554.9,145.6 555,144.1 555.1,143.9 555.2,142.1 555.2,142.2 555.3,143.4 555.4,143.3 555.5,147.6 555.6,145.2 555.7,145.8 555.8,143.8 555.8,143.9 555.9,143.8 556,143.7 556.1,143.9 556.2,144.4 556.3,145 556.4,143.4 556.4,144.2 556.5,142.8 556.6,144.6 556.7,144.4 556.8,145 556.9,143.2 557,144.9 557,146.8 557.1,144.9 557.2,144.7 557.3,143.8 557.4,144.3 557.5,142.3 557.6,143.4 557.7,142.5 557.7,142.1 557.8,142.4 557.9,142.5 558,144.2 558.1,143 558.2,143.6 558.3,142.6 558.3,144.1 558.4,142.6 558.5,144 558.6,142.5 558.7,141.9 558.8,141.9 558.9,143.9 558.9,141.8 559,145.4 559.1,143.2 559.2,145.1 559.3,143.4 559.4,144.8 559.5,143.5 559.5,144.3 559.6,141.9 559.7,140.9 559.8,142.4 559.9,142.1 560,142.7 560.1,143.4 560.2,143.5 560.2,144.7 560.3,144.2 560.4,142.3 560.5,143.7 560.6,142.7 560.7,144.2 560.8,140.4 560.8,141.5 560.9,143.3 561,141 561.1,142.6 561.2,142 561.3,143.6 561.4,144 561.4,141.9 561.5,142.8 561.6,142.7 561.7,142.6 561.8,143.7 561.9,144.5 562,143.6 562,146.2 562.1,144 562.2,142.7 562.3,144.4 562.4,141.9 562.5,144.5 562.6,145.3 562.7,143.4 562.7,144.3 562.8,143.3 562.9,144.8 563,143.3 563.1,143.8 563.2,143.7 563.3,142.9 563.3,144.9 563.4,144.3 563.5,142.8 563.6,142.7 563.7,143.4 563.8,145.6 563.9,144.1 563.9,144.9 564,144.8 564.1,146.4 564.2,147 564.3,143.4 564.4,143.7 564.5,146.4 564.6,145.1 564.6,144.6 564.7,145.4 564.8,144.1 564.9,145.1 565,146.3 565.1,145.1 565.2,144 565.2,145.6 565.3,143.6 565.4,143.2 565.5,143.7 565.6,143.7 565.7,144.4 565.8,143.5 565.8,145 565.9,146.9 566,144.8 566.1,142.2 566.2,142.6 566.3,145 566.4,144 566.4,144.5 566.5,145 566.6,144 566.7,142.5 566.8,143.4 566.9,143.7 567,145.9 567.1,140.6 567.1,144.5 567.2,143 567.3,142 567.4,142.7 567.5,141.8 567.6,145.5 567.7,143.8 567.7,143.5 567.8,144.3 567.9,144.5 568,141.6 568.1,144.1 568.2,141.3 568.3,141.5 568.3,143 568.4,144.3 568.5,143.4 568.6,143.7 568.7,143.7 568.8,143.9 568.9,143 568.9,143.5 569,143.4 569.1,143.4 569.2,142.1 569.3,141.3 569.4,143.7 569.5,144 569.6,144.2 569.6,142.9 569.7,143.3 569.8,144.1 569.9,144.5 570,143.8 570.1,143.3 570.2,145.1 570.2,144.1 570.3,146.9 570.4,145.5 570.5,144.2 570.6,146.7 570.7,146.6 570.8,144.7 570.8,147.3 570.9,145.4 571,142.6 571.1,144.6 571.2,143 571.3,143.2 571.4,145.8 571.5,145.1 571.5,144.5 571.6,143.6 571.7,143.1 571.8,143.8 571.9,144.3 572,145.9 572.1,143.3 572.1,145.2 572.2,143.3 572.3,142.9 572.4,146.2 572.5,142.1 572.6,144.7 572.7,143.2 572.7,143.4 572.8,142.3 572.9,143.1 573,142.5 573.1,143.5 573.2,145.4 573.3,144.7 573.3,143.7 573.4,143.4 573.5,144.3 573.6,145.2 573.7,145.8 573.8,144.3 573.9,140.7 574,144.3 574,144.7 574.1,143.4 574.2,143.2 574.3,143.9 574.4,146.2 574.5,144.7 574.6,144.6 574.6,143.1 574.7,144.5 574.8,143.9 574.9,145 575,144.3 575.1,141 575.2,142.6 575.2,143 575.3,144.5 575.4,144.9 575.5,142.3 575.6,143.5 575.7,142.8 575.8,143.1 575.8,143.3 575.9,146.3 576,142.3 576.1,141.3 576.2,143.2 576.3,143.4 576.4,143 576.5,143.6 576.5,145.5 576.6,143.7 576.7,143.3 576.8,142 576.9,144.3 577,143.5 577.1,143 577.1,142.4 577.2,140.7 577.3,142.1 577.4,142 577.5,144.1 577.6,140.7 577.7,144.6 577.7,140.8 577.8,141.3 577.9,142.2 578,143.5 578.1,141.6 578.2,142.7 578.3,140.5 578.3,145.5 578.4,141.9 578.5,145.1 578.6,141.9 578.7,142.4 578.8,141.1 578.9,143.6 579,143.4 579,144.9 579.1,142.9 579.2,142.2 579.3,142.8 579.4,143.8 579.5,143 579.6,142.1 579.6,142.5 579.7,145.2 579.8,143.5 579.9,144.1 580,146.4 580.1,142.4 580.2,142.7 580.2,144.4 580.3,142.5 580.4,142.8 580.5,143.7 580.6,142.8 580.7,143.4 580.8,143.9 580.9,141.8 580.9,144.8 581,140.7 581.1,142.6 581.2,143.4 581.3,142.4 581.4,144 581.5,143.4 581.5,140.5 581.6,142.3 581.7,143.1 581.8,143.1 581.9,141.8 582,141.8 582.1,143.3 582.1,141.6 582.2,143.1 582.3,143.1 582.4,142.3 582.5,144.1 582.6,145.2 582.7,143.5 582.7,142.3 582.8,143.7 582.9,142.4 583,142.1 583.1,143.9 583.2,143.5 583.3,143.8 583.4,142.8 583.4,143 583.5,143.4 583.6,142 583.7,143.2 583.8,143.3 583.9,144.5 584,143.5 584,141.9 584.1,142.6 584.2,143.2 584.3,143.4 584.4,144.3 584.5,144 584.6,141.8 584.6,143 584.7,142.9 584.8,141.3 584.9,143.2 585,143.2 585.1,140.9 585.2,141.7 585.2,144.2 585.3,142.2 585.4,143.1 585.5,142.7 585.6,142.3 585.7,143.9 585.8,142.8 585.9,139.8 585.9,142.2 586,142.5 586.1,140.9 586.2,143.7 586.3,142.4 586.4,140.7 586.5,142.3 586.5,142 586.6,142.8 586.7,142.2 586.8,141.9 586.9,143.1 587,142.9 587.1,142.9 587.1,145.6 587.2,142.3 587.3,141.4 587.4,142.6 587.5,143.4 587.6,144.2 587.7,143.3 587.7,141.5 587.8,142 587.9,144.5 588,141.9 588.1,144.5 588.2,144.4 588.3,143.8 588.4,142.8 588.4,143.8 588.5,142.3 588.6,143.1 588.7,141.5 588.8,144.9 588.9,143.1 589,142.4 589,141.4 589.1,145.7 589.2,143.6 589.3,145.7 589.4,142.9 589.5,144.1 589.6,143.1 589.6,142.4 589.7,142.6 589.8,143.9 589.9,143 590,140.1 590.1,144.4 590.2,143.2 590.3,144.5 590.3,143 590.4,144.9 590.5,143.3 590.6,145.8 590.7,143.8 590.8,141.1 590.9,145.3 590.9,144.6 591,142.7 591.1,145.1 591.2,146.4 591.3,145.6 591.4,143.3 591.5,142.1 591.5,143.3 591.6,143.2 591.7,141.9 591.8,143.2 591.9,141.4 592,141.1 592.1,143.2 592.1,141.2 592.2,141.8 592.3,142.8 592.4,142.6 592.5,141.3 592.6,144.1 592.7,144.5 592.8,141.3 592.8,140.4 592.9,142.5 593,141.6 593.1,144.8 593.2,144.6 593.3,143.8 593.4,143.6 593.4,143.1 593.5,143.9 593.6,143.4 593.7,143.7 593.8,142.8 593.9,142.3 594,142.5 594,142 594.1,143.9 594.2,144.3 594.3,146 594.4,145.7 594.5,142.8 594.6,143.2 594.6,143.7 594.7,144.2 594.8,145.4 594.9,146.5 595,144.7 595.1,144.3 595.2,147.1 595.3,142.5 595.3,145 595.4,143.7 595.5,142.6 595.6,142.4 595.7,144.6 595.8,143.2 595.9,143.2 595.9,144.2 596,144 596.1,145.4 596.2,144 596.3,145.1 596.4,144.6 596.5,144.2 596.5,143.3 596.6,144.6 596.7,144.7 596.8,144.8 596.9,141 597,144.8 597.1,143.7 597.2,146.1 597.2,144.2 597.3,145.7 597.4,144.9 597.5,143.4 597.6,142.2 597.7,143.9 597.8,143.4 597.8,143.9 597.9,144.7 598,144.1 598.1,143 598.2,143.9 598.3,144.6 598.4,144.7 598.4,143.6 598.5,144.5 598.6,143 598.7,145.8 598.8,143.2 598.9,145 599,144.1 599,141.5 599.1,142.7 599.2,144.6 599.3,144.4 599.4,142.8 599.5,142.8 599.6,143.9 599.7,142.9 599.7,144.3 599.8,147.1 599.9,142.5 600,144.3 600.1,143 600.2,143.9 600.3,144.1 600.3,144.8 600.4,142.8 600.5,142.7 600.6,142.2 600.7,142.9 600.8,143.3 600.9,144.4 600.9,143.8 601,143.3 601.1,146.8 601.2,145.3 601.3,144.1 601.4,142.9 601.5,142.3 601.5,142 601.6,145 601.7,144 601.8,144.7 601.9,145.1 602,144.6 602.1,144 602.2,143.3 602.2,146 602.3,144.4 602.4,145.5 602.5,142.7 602.6,142.3 602.7,144.9 602.8,145.2 602.8,143.6 602.9,143.2 603,145.6 603.1,144.9 603.2,144 603.3,145.6 603.4,142.6 603.4,144.3 603.5,144.3 603.6,145.7 603.7,142.9 603.8,145.9 603.9,145.1 604,144.9 604,144.3 604.1,145.9 604.2,145 604.3,143.2 604.4,143.9 604.5,143.7 604.6,142.5 604.7,143.1 604.7,142.3 604.8,143.4 604.9,144.4 605,141.2 605.1,145.1 605.2,144.7 605.3,144.3 605.3,140 605.4,142.7 605.5,141.4 605.6,144.6 605.7,144.1 605.8,142.3 605.9,143.2 605.9,142.6 606,142 606.1,142.6 606.2,142.7 606.3,142.5 606.4,143 606.5,142.5 606.6,141.8 606.6,144.2 606.7,142.8 606.8,142.1 606.9,143.5 607,143.4 607.1,141.2 607.2,142.2 607.2,140.9 607.3,141.4 607.4,144.1 607.5,144.6 607.6,144.2 607.7,142.9 607.8,148 607.8,143.9 607.9,142.6 608,144 608.1,143.7 608.2,144.3 608.3,146 608.4,143 608.4,144.4 608.5,143.5 608.6,144.1 608.7,141.9 608.8,143.7 608.9,143.9 609,144.6 609.1,145.6 609.1,144.2 609.2,143.5 609.3,145 609.4,147.7 609.5,146.3 609.6,143.2 609.7,146.4 609.7,145.6 609.8,148.3 609.9,146.8 610,147.3 610.1,145.4 610.2,145.7 610.3,145.9 610.3,145.3 610.4,147.1 610.5,144.5 610.6,146.8 610.7,145.4 610.8,143.9 610.9,146.9 610.9,145.7 611,146.2 611.1,145.7 611.2,145.3 611.3,145.6 611.4,145.2 611.5,144.2 611.6,146.4 611.6,145.5 611.7,145.1 611.8,145.9 611.9,143.7 612,144.6 612.1,144.9 612.2,145.3 612.2,144.7 612.3,143 612.4,144.9 612.5,142.3 612.6,142.5 612.7,142.9 612.8,145.2 612.8,144.2 612.9,142 613,143.7 613.1,144.2 613.2,144.2 613.3,142.9 613.4,145.5 613.5,142.1 613.5,143.1 613.6,144.6 613.7,142.7 613.8,146.7 613.9,144.9 614,143.1 614.1,141.7 614.1,145 614.2,145.2 614.3,143.6 614.4,143.4 614.5,144.4 614.6,144.4 614.7,141.6 614.7,144.5 614.8,145.3 614.9,143.8 615,141.7 615.1,142.4 615.2,143.3 615.3,144.7 615.3,143.3 615.4,139.8 615.5,142.4 615.6,141.9 615.7,144.9 615.8,143.5 615.9,143.7 616,141.1 616,143.6 616.1,143.5 616.2,144.1 616.3,147 616.4,142.4 616.5,146.2 616.6,144.7 616.6,146 616.7,145 616.8,145 616.9,145.1 617,142.9 617.1,146.1 617.2,145.1 617.2,144.2 617.3,145.4 617.4,145.5 617.5,142.6 617.6,144 617.7,145.9 617.8,144.5 617.8,145.8 617.9,144.1 618,146.3 618.1,143.5 618.2,143.9 618.3,143.9 618.4,144.2 618.5,143.9 618.5,145.1 618.6,143.8 618.7,143.1 618.8,143.2 618.9,144.8 619,142.9 619.1,145 619.1,144.3 619.2,144.4 619.3,144.1 619.4,143.5 619.5,142.6 619.6,142.1 619.7,142.9 619.7,144.3 619.8,142.6 619.9,142.4 620,144.5 620.1,145 620.2,143.8 620.3,141.4 620.3,144.1 620.4,144 620.5,142.9 620.6,145.2 620.7,145.1 620.8,144 620.9,142.8 621,144.2 621,144.5 621.1,145.7 621.2,141.8 621.3,145.1 621.4,142 621.5,144.5 621.6,142.2 621.6,141.5 621.7,144.5 621.8,142.7 621.9,142.6 622,142 622.1,143.9 622.2,142.1 622.2,143.5 622.3,144.9 622.4,142.6 622.5,142.4 622.6,144 622.7,144.2 622.8,143.2 622.9,142.2 622.9,145.8 623,143.1 623.1,142 623.2,145.5 623.3,143.8 623.4,144.4 623.5,144 623.5,142.9 623.6,146.2 623.7,144.9 623.8,146 623.9,144.6 624,142 624.1,145.4 624.1,144.7 624.2,144.8 624.3,143.5 624.4,144.4 624.5,145 624.6,145 624.7,144.4 624.7,145.7 624.8,147.2 624.9,143 625,144.4 625.1,145.3 625.2,144.8 625.3,143.8 625.4,145.7 625.4,144.7 625.5,145.4 625.6,143.3 625.7,147.7 625.8,146.5 625.9,143.2 626,146.3 626,145.8 626.1,146.3 626.2,147.6 626.3,145 626.4,144.1 626.5,144.5 626.6,146.4 626.6,145.5 626.7,143 626.8,145.3 626.9,146.2 627,144.1 627.1,145.6 627.2,147.5 627.2,146.3 627.3,144.2 627.4,145.4 627.5,145.4 627.6,144.4 627.7,146 627.8,146.7 627.9,144.9 627.9,145.5 628,144.7 628.1,145.4 628.2,145.4 628.3,146.1 628.4,144 628.5,142 628.5,145.6 628.6,142.7 628.7,143.2 628.8,144.9 628.9,145.3 629,143.5 629.1,144.6 629.1,144.5 629.2,144.8 629.3,142 629.4,146.2 629.5,143.8 629.6,142 629.7,144 629.8,141.6 629.8,144 629.9,143.7 630,142.9 630.1,144.5 630.2,143.5 630.3,142.7 630.4,144 630.4,142.5 630.5,141.6 630.6,144.1 630.7,142.8 630.8,142.1 630.9,143.3 631,141.1 631,140.8 631.1,142.8 631.2,141.9 631.3,142.9 631.4,142.3 631.5,141.7 631.6,142.5 631.6,142.2 631.7,143 631.8,141.3 631.9,141.7 632,143.7 632.1,142.5 632.2,140.2 632.3,144.1 632.3,142 632.4,140.7 632.5,144.3 632.6,143.3 632.7,147 632.8,142.9 632.9,143.9 632.9,143.8 633,144.6 633.1,143.8 633.2,143.7 633.3,144.2 633.4,145.4 633.5,145.3 633.5,145 633.6,145.2 633.7,146 633.8,146.4 633.9,144.9 634,145.9 634.1,145.1 634.1,146.1 634.2,146.2 634.3,145 634.4,144.6 634.5,141.7 634.6,144.3 634.7,142.9 634.8,143.4 634.8,143.6 634.9,144.3 635,143.1 635.1,143.2 635.2,145.5 635.3,142.9 635.4,144 635.4,145.6 635.5,144.7 635.6,143 635.7,142.7 635.8,144 635.9,142.5 636,143 636,145.9 636.1,145.4 636.2,143.7 636.3,145.3 636.4,145.1 636.5,144 636.6,144.8 636.6,145.3 636.7,146.2 636.8,142.1 636.9,146.3 637,145.2 637.1,143.4 637.2,144.8 637.3,145.9 637.3,146.1 637.4,143.3 637.5,143.8 637.6,147.1 637.7,146.3 637.8,143.9 637.9,142.7 637.9,145.4 638,143.6 638.1,146.7 638.2,146.8 638.3,146.2 638.4,144.1 638.5,144.4 638.5,143.8 638.6,146.8 638.7,142.6 638.8,145.1 638.9,141.3 639,144.2 639.1,146.7 639.2,144.5 639.2,145.5 639.3,142.6 639.4,144.2 639.5,142.9 639.6,145.3 639.7,145.3 639.8,144.2 639.8,144.3 639.9,145.5 640,143.8 640.1,143 640.2,144.9 640.3,145.1 640.4,145.1 640.4,143.8 640.5,144.6 640.6,143.9 640.7,143.1 640.8,144.7 640.9,144.6 641,144.6 641,142.5 641.1,144.4 641.2,144.1 641.3,144.6 641.4,143.1 641.5,143.7 641.6,145.6 641.7,143.1 641.7,143.8 641.8,142.8 641.9,143.6 642,144.4 642.1,145.6 642.2,143.3 642.3,143 642.3,145.7 642.4,144.8 642.5,144.2 642.6,145 642.7,144.4 642.8,145.4 642.9,145.8 642.9,143.6 643,147.1 643.1,144.4 643.2,146.1 643.3,145.2 643.4,146 643.5,145 643.5,146 643.6,144.9 643.7,147 643.8,146.5 643.9,145.4 644,144.4 644.1,146.2 644.2,142.8 644.2,145.6 644.3,144.2 644.4,147.3 644.5,146.3 644.6,146.3 644.7,146.4 644.8,146.9 644.8,145.4 644.9,145.9 645,142.8 645.1,144.9 645.2,144.3 645.3,147.1 645.4,142.7 645.4,142.6 645.5,145.8 645.6,145.7 645.7,145.3 645.8,142.6 645.9,145.9 646,145.5 646.1,146.2 646.1,144 646.2,143.4 646.3,145.6 646.4,143.1 646.5,144.3 646.6,145.4 646.7,143.8 646.7,142.9 646.8,143 646.9,143.9 647,143 647.1,144.5 647.2,144.1 647.3,142.4 647.3,144.6 647.4,145.4 647.5,145.9 647.6,145.1 647.7,146.6 647.8,145.4 647.9,145.6 647.9,144.4 648,145.9 648.1,144.4 648.2,144.3 648.3,143.3 648.4,143 648.5,142.4 648.6,144.7 648.6,146.1 648.7,143.4 648.8,143.9 648.9,144.9 649,143.4 649.1,142 649.2,144 649.2,144.9 649.3,144.1 649.4,145.5 649.5,141.9 649.6,145.7 649.7,145.4 649.8,142.8 649.8,144.2 649.9,145.4 650,142.7 650.1,142.3 650.2,145.6 650.3,142.8 650.4,142.3 650.4,141.2 650.5,142.7 650.6,142.3 650.7,143.1 650.8,142.3 650.9,141 651,142.2 651.1,143.8 651.1,143.2 651.2,140.7 651.3,144.7 651.4,144 651.5,144.1 651.6,141.8 651.7,144.6 651.7,144.1 651.8,143.8 651.9,143.2 652,143.3 652.1,145.7 652.2,145.8 652.3,146.3 652.3,143.3 652.4,145.2 652.5,144.9 652.6,145.2 652.7,147.1 652.8,147.4 652.9,146.8 652.9,143.1 653,146 653.1,144.9 653.2,146.7 653.3,142.3 653.4,145.3 653.5,147.2 653.6,145.8 653.6,144.7 653.7,143.8 653.8,145.3 653.9,143.9 654,144.2 654.1,144.2 654.2,144.9 654.2,143.9 654.3,143 654.4,144.2 654.5,144.5 654.6,140.7 654.7,143.2 654.8,143.3 654.8,145.7 654.9,142.6 655,145.9 655.1,142.5 655.2,143.6 655.3,144.5 655.4,144.7 655.5,143.7 655.5,144.4 655.6,145.9 655.7,142.5 655.8,145.6 655.9,144 656,144.3 656.1,141.8 656.1,145.5 656.2,142.4 656.3,143.1 656.4,147.1 656.5,145.3 656.6,144.5 656.7,144.9 656.7,143.4 656.8,143.1 656.9,142.5 657,144.7 657.1,143.2 657.2,144.2 657.3,143.3 657.3,144.1 657.4,144 657.5,144.3 657.6,143.3 657.7,143.8 657.8,145.1 657.9,146.4 658,142.6 658,142.9 658.1,143.9 658.2,142.4 658.3,143.8 658.4,143.9 658.5,144.3 658.6,142.2 658.6,141.6 658.7,144 658.8,144.6 658.9,142.6 659,142.8 659.1,143.2 659.2,145.8 659.2,143.8 659.3,144 659.4,144.7 659.5,143.9 659.6,144.6 659.7,144 659.8,144.5 659.8,144.9 659.9,142.5 660,144.6 660.1,143.8 660.2,143.4 660.3,145.7 660.4,144.7 660.5,145.5 660.5,144.6 660.6,145.8 660.7,143.3 660.8,144.4 660.9,145.8 661,143.8 661.1,145.5 661.1,146 661.2,143.8 661.3,144.3 661.4,145.2 661.5,143.5 661.6,143.8 661.7,144.1 661.7,143.1 661.8,144 661.9,142.7 662,143.8 662.1,143.7 662.2,147.4 662.3,144.4 662.4,141.7 662.4,144.7 662.5,144.1 662.6,144.3 662.7,145.9 662.8,142.9 662.9,141.4 663,141.6 663,143.8 663.1,144.5 663.2,144.1 663.3,142.8 663.4,143.8 663.5,142.4 663.6,142.9 663.6,144.7 663.7,144.6 663.8,142.2 663.9,142.1 664,143 664.1,141.3 664.2,143.1 664.2,143.3 664.3,143 664.4,142.3 664.5,145.6 664.6,142.7 664.7,142.8 664.8,144.1 664.9,144.1 664.9,141.7 665,143.7 665.1,143.6 665.2,142.2 665.3,144.9 665.4,140.5 665.5,144.5 665.5,144.4 665.6,145.4 665.7,144.5 665.8,144.9" fill="none" stroke="#f24141" stroke-width="0.8" stroke-linejoin="round" />
<polyline points="493.4,82.3 493.5,81.2 493.6,81.1 493.7,79.6 493.7,80.9 493.8,81 493.9,80.5 494,81.7 494.1,78.4 494.2,78.4 494.3,78.7 494.3,77.9 494.4,78.5 494.5,78.6 494.6,78 494.7,77.9 494.8,78 494.9,78.2 495,77.1 495,77.1 495.1,78.6 495.2,77.6 495.3,77.3 495.4,78.2 495.5,77.7 495.6,78.1 495.6,77.9 495.7,78.5 495.8,78.8 495.9,77.6 496,77.3 496.1,79.5 496.2,77.9 496.2,77.3 496.3,77.1 496.4,78.6 496.5,78.2 496.6,77.3 496.7,77.8 496.8,77.7 496.8,79 496.9,78.1 497,77.4 497.1,76.1 497.2,76.5 497.3,76.9 497.4,76.2 497.5,76.6 497.5,75.5 497.6,75.7 497.7,75.1 497.8,74 497.9,75.1 498,74.2 498.1,74.3 498.1,72.6 498.2,72.2 498.3,72.5 498.4,71.6 498.5,72.2 498.6,71.6 498.7,71.8 498.7,71 498.8,69.7 498.9,71.2 499,69.8 499.1,69.6 499.2,70.1 499.3,70 499.4,70.8 499.4,72.3 499.5,70.8 499.6,72 499.7,71.1 499.8,72 499.9,71.7 500,72.1 500,73.6 500.1,73 500.2,73 500.3,72 500.4,73.8 500.5,72.3 500.6,72 500.6,72.3 500.7,72.8 500.8,72.7 500.9,73.2 501,71.2 501.1,71.6 501.2,73 501.2,73.4 501.3,71.1 501.4,71.4 501.5,70.1 501.6,70.5 501.7,70.2 501.8,70.6 501.9,69.5 501.9,70.9 502,70 502.1,69.7 502.2,70.5 502.3,69.6 502.4,69 502.5,70.1 502.5,71.8 502.6,70.2 502.7,70.6 502.8,70 502.9,69.9 503,70.5 503.1,68.1 503.1,69.2 503.2,69.8 503.3,70.2 503.4,71.9 503.5,73.1 503.6,72 503.7,72.2 503.7,72.7 503.8,73.6 503.9,72 504,72.6 504.1,73.3 504.2,73.7 504.3,72.3 504.4,74.2 504.4,72.8 504.5,74.8 504.6,75 504.7,73 504.8,75.3 504.9,75.2 505,74.7 505,76 505.1,76.8 505.2,75.8 505.3,74.7 505.4,74.4 505.5,74.6 505.6,74.7 505.6,76.3 505.7,75.7 505.8,75.6 505.9,76.4 506,76.1 506.1,76.3 506.2,75.9 506.3,76.2 506.3,76.8 506.4,76 506.5,78.2 506.6,77 506.7,76.6 506.8,77.8 506.9,76.4 506.9,78.1 507,77.4 507.1,78.8 507.2,77 507.3,77.1 507.4,76.7 507.5,76.4 507.5,77.6 507.6,76.7 507.7,77.8 507.8,77.2 507.9,78.6 508,76 508.1,78.3 508.1,78 508.2,77.9 508.3,77.4 508.4,79.1 508.5,77.4 508.6,78 508.7,77.5 508.8,77.5 508.8,77.9 508.9,78.4 509,77.1 509.1,77.6 509.2,76.8 509.3,78.1 509.4,77.2 509.4,77.3 509.5,78.5 509.6,78.2 509.7,78.7 509.8,78.5 509.9,79.1 510,79 510,78.2 510.1,79.1 510.2,78.7 510.3,78.7 510.4,79.1 510.5,78.5 510.6,78.2 510.6,80 510.7,80.7 510.8,79.2 510.9,80.4 511,79.8 511.1,79.1 511.2,78.9 511.3,79.2 511.3,79 511.4,79 511.5,79 511.6,78 511.7,79.3 511.8,77.5 511.9,77.3 511.9,78.4 512,77.9 512.1,78.1 512.2,76.9 512.3,76.1 512.4,77.4 512.5,76.5 512.5,76.5 512.6,76.2 512.7,77.7 512.8,76.1 512.9,78.7 513,77.2 513.1,79.7 513.1,78.3 513.2,80.4 513.3,82.1 513.4,80.6 513.5,80.6 513.6,83.5 513.7,81.9 513.8,81.4 513.8,83.1 513.9,79.8 514,80.5 514.1,80.1 514.2,80.1 514.3,78.6 514.4,80.4 514.4,80.2 514.5,79.3 514.6,78.9 514.7,77.9 514.8,79.4 514.9,78.5 515,79.3 515,79.5 515.1,78.5 515.2,76.7 515.3,77.3 515.4,78.8 515.5,77.9 515.6,78.7 515.7,76 515.7,77.7 515.8,77.8 515.9,76.8 516,77.6 516.1,78.8 516.2,78.3 516.3,77.3 516.3,77.7 516.4,78 516.5,76 516.6,76.8 516.7,77.2 516.8,75.8 516.9,77.3 516.9,76.4 517,77.5 517.1,77.5 517.2,77.2 517.3,76.9 517.4,76.8 517.5,77.5 517.5,77.6 517.6,78.5 517.7,77.3 517.8,77.6 517.9,78.4 518,77.2 518.1,77.1 518.2,77.8 518.2,76.5 518.3,76.6 518.4,76.9 518.5,76.2 518.6,75.5 518.7,75.2 518.8,76.1 518.8,77 518.9,76.9 519,77.3 519.1,76.8 519.2,75.6 519.3,75 519.4,75.7 519.4,75.8 519.5,75.3 519.6,76.5 519.7,75 519.8,76 519.9,76.2 520,74.3 520,75.3 520.1,76.6 520.2,76.4 520.3,75.9 520.4,74.9 520.5,75.2 520.6,75.6 520.7,76.4 520.7,75.7 520.8,75 520.9,75.1 521,75.3 521.1,73.1 521.2,73.5 521.3,74.1 521.3,74.8 521.4,74.5 521.5,73 521.6,73.5 521.7,73 521.8,73.2 521.9,73.7 521.9,73.4 522,73.3 522.1,72.9 522.2,72.5 522.3,73.4 522.4,73.6 522.5,73.7 522.6,72.5 522.6,72.4 522.7,73.8 522.8,73.2 522.9,73.9 523,73.1 523.1,73.3 523.2,73.3 523.2,75.2 523.3,74 523.4,73.9 523.5,75 523.6,76.8 523.7,76.1 523.8,76.5 523.8,76.6 523.9,76.6 524,76.7 524.1,75.9 524.2,78.5 524.3,77.4 524.4,78.9 524.4,77.2 524.5,79.2 524.6,78.3 524.7,78.6 524.8,79.8 524.9,80.3 525,80.4 525.1,80.1 525.1,78.8 525.2,79.4 525.3,78.3 525.4,78.4 525.5,79 525.6,78.8 525.7,79.5 525.7,77.4 525.8,79.4 525.9,77.9 526,79.2 526.1,78.7 526.2,76.8 526.3,77.5 526.3,77.9 526.4,76.8 526.5,76.8 526.6,77 526.7,77.7 526.8,77.7 526.9,76.5 526.9,77.3 527,77.7 527.1,77.3 527.2,76.1 527.3,76.2 527.4,77.2 527.5,77.7 527.6,77.5 527.6,77.1 527.7,76.8 527.8,78.6 527.9,77.6 528,79.2 528.1,77.1 528.2,77.8 528.2,77.7 528.3,79.6 528.4,79.1 528.5,77.7 528.6,76.5 528.7,78.6 528.8,77.8 528.8,76.8 528.9,76.5 529,78 529.1,77.7 529.2,78.1 529.3,78.3 529.4,77.8 529.4,77.7 529.5,78.3 529.6,77.5 529.7,77.1 529.8,77.5 529.9,75.4 530,77.7 530.1,77.1 530.1,76.2 530.2,76.8 530.3,77.9 530.4,77.5 530.5,75.9 530.6,76.5 530.7,77.5 530.7,78.7 530.8,78.1 530.9,77.5 531,78.3 531.1,78.1 531.2,78.1 531.3,78.9 531.3,77.2 531.4,79.8 531.5,79.5 531.6,78.9 531.7,78.5 531.8,78.2 531.9,79.3 532,79.2 532,79.1 532.1,80.2 532.2,77.3 532.3,78.4 532.4,78.4 532.5,79.9 532.6,79.3 532.6,79.1 532.7,80.3 532.8,80.9 532.9,82.2 533,81.6 533.1,81.3 533.2,81.5 533.2,81.4 533.3,82.4 533.4,82.5 533.5,81.6 533.6,81.5 533.7,82.4 533.8,81.3 533.8,81.6 533.9,80.6 534,81.2 534.1,80.1 534.2,80.7 534.3,82 534.4,82.6 534.5,81.4 534.5,80.5 534.6,81.2 534.7,81.8 534.8,80.7 534.9,81.6 535,80.9 535.1,80.2 535.1,80.5 535.2,81.1 535.3,83 535.4,81.6 535.5,80.8 535.6,80.9 535.7,80.4 535.7,79.6 535.8,79.6 535.9,79.1 536,79.5 536.1,79.8 536.2,79.3 536.3,77.7 536.3,78.1 536.4,76.8 536.5,76.4 536.6,77.1 536.7,77.4 536.8,77.1 536.9,78 537,78.1 537,78.3 537.1,77.8 537.2,77.1 537.3,79.7 537.4,78.2 537.5,79.2 537.6,79.1 537.6,78.4 537.7,80 537.8,79.1 537.9,78.6 538,78.4 538.1,78.1 538.2,78 538.2,79.4 538.3,78.7 538.4,78.6 538.5,79.2 538.6,78.4 538.7,79 538.8,78 538.9,78.1 538.9,79.3 539,78.3 539.1,79.5 539.2,79.6 539.3,79.4 539.4,78.3 539.5,78.6 539.5,78.9 539.6,78.8 539.7,80.4 539.8,79.2 539.9,78.9 540,79.4 540.1,79.7 540.1,78.3 540.2,79.8 540.3,79.7 540.4,78.5 540.5,79.4 540.6,77.6 540.7,78.2 540.7,78.5 540.8,78.7 540.9,79.5 541,78.5 541.1,78 541.2,78.9 541.3,79 541.4,79.3 541.4,78.8 541.5,79.1 541.6,78.6 541.7,79.5 541.8,78.7 541.9,78.8 542,80.1 542,78.7 542.1,79.3 542.2,79.7 542.3,78.8 542.4,79.6 542.5,78.3 542.6,79.3 542.6,77.2 542.7,77.2 542.8,78.1 542.9,79 543,79 543.1,77.2 543.2,77.6 543.2,77 543.3,75.3 543.4,77.1 543.5,76 543.6,77.1 543.7,76.1 543.8,75.5 543.9,75.3 543.9,75.6 544,76 544.1,75.1 544.2,77.2 544.3,75 544.4,73.6 544.5,74 544.5,74.3 544.6,73.3 544.7,72.2 544.8,71.5 544.9,71 545,70.4 545.1,70.7 545.1,71.1 545.2,70.5 545.3,72.2 545.4,71.4 545.5,70.7 545.6,70.8 545.7,71.7 545.7,69.1 545.8,70.2 545.9,71.7 546,70.3 546.1,68.7 546.2,69.3 546.3,69 546.4,71.3 546.4,68.9 546.5,69.2 546.6,69.4 546.7,68.7 546.8,67.4 546.9,69.7 547,70.4 547,69.7 547.1,70.4 547.2,70.7 547.3,70.7 547.4,68.9 547.5,71.2 547.6,70.7 547.6,70.6 547.7,69.8 547.8,69.6 547.9,69.1 548,69.7 548.1,70 548.2,68.8 548.3,69.7 548.3,68.6 548.4,69.2 548.5,68.5 548.6,69.1 548.7,69.7 548.8,68.3 548.9,67.7 548.9,67.6 549,68.4 549.1,67.9 549.2,69.3 549.3,69.3 549.4,70.2 549.5,69.6 549.5,69.8 549.6,70.2 549.7,71.2 549.8,70.5 549.9,71.5 550,69.3 550.1,70.3 550.1,70.5 550.2,69.2 550.3,70.2 550.4,69.6 550.5,70.8 550.6,70.9 550.7,72 550.8,71.2 550.8,71 550.9,72.1 551,72.8 551.1,73 551.2,73.1 551.3,74 551.4,72.9 551.4,72.9 551.5,72.5 551.6,72.6 551.7,73.7 551.8,73.1 551.9,70.9 552,73.7 552,71.4 552.1,72.7 552.2,73.9 552.3,73.5 552.4,74 552.5,74.4 552.6,74.1 552.6,73 552.7,74.2 552.8,73.3 552.9,72 553,73.6 553.1,74.2 553.2,73.9 553.3,74 553.3,75.4 553.4,74.6 553.5,75.4 553.6,75.1 553.7,76.3 553.8,75 553.9,76.3 553.9,76.9 554,75.4 554.1,76.6 554.2,74.9 554.3,76.3 554.4,76.6 554.5,75.5 554.5,74.8 554.6,76.1 554.7,75.9 554.8,76.3 554.9,76.6 555,77.1 555.1,77.9 555.2,77.3 555.2,76.2 555.3,78.2 555.4,78.2 555.5,78.3 555.6,79.5 555.7,78.6 555.8,78.1 555.8,78.6 555.9,76.9 556,78.6 556.1,77.8 556.2,78.8 556.3,78 556.4,77.8 556.4,77.7 556.5,76.9 556.6,77.9 556.7,78.4 556.8,79 556.9,78.6 557,78.7 557,78.6 557.1,77.6 557.2,78.2 557.3,77.8 557.4,77.2 557.5,77.2 557.6,79.2 557.7,79.9 557.7,80 557.8,78.5 557.9,80.2 558,80.3 558.1,78.6 558.2,79.6 558.3,80.7 558.3,79.6 558.4,80.5 558.5,79.2 558.6,79.3 558.7,80 558.8,79 558.9,79.1 558.9,79 559,78.2 559.1,80.2 559.2,79.2 559.3,79.4 559.4,79.5 559.5,80.1 559.5,79.5 559.6,80.8 559.7,79.9 559.8,80.7 559.9,79.4 560,79.2 560.1,79.1 560.2,79.9 560.2,78.7 560.3,80.1 560.4,79.1 560.5,79.9 560.6,78.9 560.7,79.7 560.8,78.3 560.8,78.3 560.9,79.6 561,78.8 561.1,80.1 561.2,78.9 561.3,79.8 561.4,79 561.4,78.5 561.5,80.9 561.6,79.8 561.7,80.8 561.8,80.2 561.9,78.9 562,80.3 562,80.7 562.1,80.7 562.2,80.8 562.3,79.9 562.4,79.6 562.5,79.8 562.6,79 562.7,80.6 562.7,80.7 562.8,80.4 562.9,79.3 563,80.1 563.1,78.9 563.2,79.8 563.3,78.1 563.3,77.9 563.4,77.7 563.5,77 563.6,76.9 563.7,77.3 563.8,75.6 563.9,78.9 563.9,77.7 564,77.5 564.1,76.5 564.2,77 564.3,76.6 564.4,76.2 564.5,74.7 564.6,75.4 564.6,73.8 564.7,74.9 564.8,74.2 564.9,74.2 565,74.2 565.1,74.8 565.2,75 565.2,74.1 565.3,73.3 565.4,75.2 565.5,73.1 565.6,73.8 565.7,74.2 565.8,74 565.8,75.7 565.9,75.2 566,75.9 566.1,75 566.2,75.9 566.3,75.2 566.4,75.2 566.4,75.6 566.5,75.7 566.6,75.9 566.7,75.6 566.8,74.9 566.9,76.1 567,74.7 567.1,76.7 567.1,76.6 567.2,78 567.3,75.4 567.4,79 567.5,77.3 567.6,76.5 567.7,78.1 567.7,78.4 567.8,78.6 567.9,80.1 568,78.2 568.1,79.2 568.2,79.3 568.3,78.9 568.3,79.7 568.4,80.5 568.5,78.9 568.6,79.6 568.7,79.8 568.8,79.3 568.9,77.4 568.9,78.5 569,77.8 569.1,78.7 569.2,77.6 569.3,78.9 569.4,76.4 569.5,77.5 569.6,76.2 569.6,78 569.7,77.7 569.8,75.6 569.9,76.7 570,76 570.1,74.7 570.2,75 570.2,75.8 570.3,76.1 570.4,75.4 570.5,75.7 570.6,75.5 570.7,75.2 570.8,73.8 570.8,74.5 570.9,74.6 571,72.9 571.1,75 571.2,74.9 571.3,74 571.4,75.4 571.5,73.2 571.5,73 571.6,73.2 571.7,73 571.8,74.7 571.9,73.4 572,73.4 572.1,73.8 572.1,74.7 572.2,73.7 572.3,73.3 572.4,73.8 572.5,74.5 572.6,73.5 572.7,74.8 572.7,74 572.8,73.8 572.9,74.4 573,75.6 573.1,74.1 573.2,75.5 573.3,75 573.3,74.9 573.4,75 573.5,75.7 573.6,75.7 573.7,75.7 573.8,76.1 573.9,75.2 574,75.4 574,75.3 574.1,75.8 574.2,76 574.3,76 574.4,76.8 574.5,75.9 574.6,76.6 574.6,77.6 574.7,78.5 574.8,77.5 574.9,78.6 575,78.9 575.1,77.4 575.2,78.5 575.2,77.7 575.3,78.2 575.4,78.7 575.5,77.4 575.6,78.7 575.7,78.1 575.8,78.1 575.8,78.8 575.9,78 576,77.7 576.1,79.3 576.2,79.2 576.3,79.8 576.4,79.4 576.5,79.7 576.5,79.8 576.6,79.6 576.7,79.9 576.8,80 576.9,80.6 577,83.1 577.1,80.3 577.1,79.7 577.2,81.5 577.3,80.2 577.4,80.7 577.5,81.2 577.6,81.5 577.7,81.5 577.7,81.5 577.8,81 577.9,81.7 578,81.3 578.1,79.9 578.2,79.9 578.3,78.8 578.3,80.1 578.4,79.3 578.5,80.8 578.6,78.9 578.7,80.5 578.8,78.8 578.9,78.3 579,79.1 579,80 579.1,80.6 579.2,79.2 579.3,80.5 579.4,79.3 579.5,79.2 579.6,79.2 579.6,80.5 579.7,79.4 579.8,79.4 579.9,78 580,79.2 580.1,79.2 580.2,80.3 580.2,78.5 580.3,78.7 580.4,78.5 580.5,78.7 580.6,79.5 580.7,78.3 580.8,79.5 580.9,78.2 580.9,77.2 581,77.1 581.1,76.4 581.2,76.2 581.3,78 581.4,77.8 581.5,76.5 581.5,77 581.6,78.6 581.7,77 581.8,77.8 581.9,78.1 582,77.6 582.1,77.6 582.1,77.5 582.2,77.7 582.3,76.3 582.4,77.4 582.5,77.3 582.6,76.1 582.7,77.4 582.7,76.4 582.8,75.3 582.9,75.9 583,77.5 583.1,77.8 583.2,76.9 583.3,75.9 583.4,76.6 583.4,76.9 583.5,75.9 583.6,74.5 583.7,75.6 583.8,74.8 583.9,74.8 584,75 584,75.5 584.1,75.2 584.2,74.8 584.3,75.8 584.4,76.2 584.5,77.2 584.6,75.7 584.6,76.7 584.7,76.3 584.8,77.4 584.9,76.9 585,74.9 585.1,77.8 585.2,76.5 585.2,76 585.3,75.6 585.4,75.9 585.5,75.8 585.6,76.9 585.7,77.3 585.8,77.4 585.9,78.1 585.9,77.4 586,78.7 586.1,78.4 586.2,78.8 586.3,79.1 586.4,78.4 586.5,79.7 586.5,79.4 586.6,78.5 586.7,80.1 586.8,80.1 586.9,77.9 587,77.6 587.1,79 587.1,80.1 587.2,80.7 587.3,80.7 587.4,80.3 587.5,81.2 587.6,80.9 587.7,80 587.7,80.4 587.8,80.9 587.9,79.5 588,79.4 588.1,79.1 588.2,80.8 588.3,80.2 588.4,80.3 588.4,79.4 588.5,79.8 588.6,80.8 588.7,79.8 588.8,81 588.9,80.3 589,80.4 589,80.8 589.1,81.1 589.2,81.8 589.3,80.3 589.4,81.9 589.5,80.2 589.6,80.3 589.6,79.4 589.7,81.7 589.8,82.1 589.9,80.1 590,80.7 590.1,80.7 590.2,79.8 590.3,81 590.3,81.3 590.4,81 590.5,80.9 590.6,82.1 590.7,82.8 590.8,81.6 590.9,82.8 590.9,83.5 591,81.3 591.1,83.7 591.2,84.8 591.3,82.6 591.4,84.5 591.5,83.4 591.5,83.9 591.6,83.2 591.7,82.4 591.8,81.8 591.9,84.7 592,82 592.1,82.8 592.1,84.2 592.2,83.5 592.3,83.3 592.4,81.7 592.5,82.7 592.6,82 592.7,81.6 592.8,83 592.8,83.2 592.9,81.8 593,81.7 593.1,82.3 593.2,82.5 593.3,81 593.4,82.6 593.4,82.4 593.5,81.6 593.6,80.6 593.7,81.6 593.8,81.3 593.9,81.6 594,79.5 594,80.7 594.1,78.9 594.2,79.3 594.3,78.7 594.4,78.8 594.5,79.7 594.6,78 594.6,79.1 594.7,78.2 594.8,78.4 594.9,77.8 595,78.5 595.1,76.8 595.2,78.1 595.3,79 595.3,78.8 595.4,77 595.5,77.3 595.6,77.9 595.7,79.5 595.8,77.7 595.9,77.8 595.9,77.5 596,77.6 596.1,76.4 596.2,77 596.3,76.9 596.4,77.1 596.5,75.5 596.5,76.7 596.6,77.3 596.7,76.4 596.8,76.2 596.9,73.6 597,76.4 597.1,76.8 597.2,76.4 597.2,75.9 597.3,76.3 597.4,78.1 597.5,75.5 597.6,76 597.7,77.3 597.8,76.9 597.8,75.2 597.9,77 598,77.2 598.1,76.3 598.2,77.4 598.3,77.4 598.4,76.1 598.4,78 598.5,79.4 598.6,79.4 598.7,77.5 598.8,77.5 598.9,78.6 599,78.7 599,77.4 599.1,77.8 599.2,79.3 599.3,78.4 599.4,79 599.5,78.4 599.6,79.3 599.7,78.4 599.7,78.7 599.8,78.7 599.9,78.2 600,79.5 600.1,79 600.2,79.7 600.3,80.3 600.3,80.3 600.4,80.6 600.5,80.1 600.6,80.5 600.7,81.5 600.8,80.7 600.9,80.9 600.9,79.1 601,80.1 601.1,81.7 601.2,80.2 601.3,80.1 601.4,81.7 601.5,80.3 601.5,82.2 601.6,81.7 601.7,81.6 601.8,80.6 601.9,83.1 602,80.7 602.1,81 602.2,82.4 602.2,80.7 602.3,81.8 602.4,81.2 602.5,80.9 602.6,80.1 602.7,80.2 602.8,80.7 602.8,79.6 602.9,80.6 603,80 603.1,80 603.2,79.3 603.3,79.3 603.4,78.8 603.4,78.8 603.5,78.3 603.6,78.1 603.7,77.2 603.8,76.5 603.9,77.8 604,78.4 604,77.2 604.1,76.9 604.2,77.9 604.3,78.8 604.4,79.3 604.5,78.7 604.6,78.3 604.7,79.4 604.7,80.1 604.8,79.7 604.9,80.7 605,79.7 605.1,80.9 605.2,81.5 605.3,79.6 605.3,79.8 605.4,80.9 605.5,82.8 605.6,80.8 605.7,80.5 605.8,81.6 605.9,80.7 605.9,79.7 606,80.4 606.1,82.4 606.2,80.3 606.3,80.7 606.4,82.5 606.5,82.2 606.6,83.1 606.6,81.6 606.7,82.1 606.8,82.6 606.9,82.2 607,83.3 607.1,83.5 607.2,84.4 607.2,83.8 607.3,83.5 607.4,84.1 607.5,84.5 607.6,84.2 607.7,83.5 607.8,82.9 607.8,82.8 607.9,82.2 608,83.3 608.1,83.4 608.2,84.9 608.3,84.1 608.4,84.7 608.4,85.3 608.5,83 608.6,84 608.7,84.3 608.8,84.4 608.9,83.4 609,84.7 609.1,84.7 609.1,84.3 609.2,84.3 609.3,82.9 609.4,84.6 609.5,83.4 609.6,82.5 609.7,84.2 609.7,84.5 609.8,83.9 609.9,83.2 610,83.5 610.1,84.1 610.2,82.1 610.3,84.5 610.3,84.3 610.4,83.3 610.5,84 610.6,83 610.7,82.2 610.8,83.3 610.9,83.1 610.9,81.7 611,81.1 611.1,81.1 611.2,82.5 611.3,81.2 611.4,83.3 611.5,80.6 611.6,81.5 611.6,81.3 611.7,80.7 611.8,81.3 611.9,79.7 612,79.9 612.1,78.6 612.2,77.5 612.2,78.8 612.3,77.7 612.4,77.6 612.5,79.1 612.6,78.7 612.7,79.2 612.8,80.2 612.8,79 612.9,79.1 613,78 613.1,79.5 613.2,79.6 613.3,78.3 613.4,79.9 613.5,79.9 613.5,79.9 613.6,80.4 613.7,82.4 613.8,80.3 613.9,80.6 614,81 614.1,80.7 614.1,79.5 614.2,81.3 614.3,81.5 614.4,82.2 614.5,80.5 614.6,80.1 614.7,81.7 614.7,80.7 614.8,81.7 614.9,81.6 615,82.2 615.1,81.9 615.2,82.8 615.3,81.6 615.3,84.1 615.4,83 615.5,82 615.6,81.9 615.7,82.7 615.8,82.7 615.9,82.6 616,84.3 616,83.8 616.1,82.2 616.2,83.2 616.3,82.6 616.4,83.1 616.5,82 616.6,84 616.6,82.4 616.7,83.8 616.8,81.9 616.9,83.1 617,81.9 617.1,83 617.2,81.4 617.2,80.6 617.3,80.5 617.4,80.7 617.5,81.5 617.6,81.2 617.7,80.8 617.8,81.3 617.8,81.6 617.9,79.5 618,81 618.1,82 618.2,79.9 618.3,80.2 618.4,81 618.5,81.1 618.5,80.8 618.6,81.2 618.7,82.6 618.8,82.1 618.9,80.8 619,80 619.1,80.4 619.1,81.3 619.2,80.5 619.3,80.4 619.4,81.5 619.5,80.7 619.6,80.6 619.7,81 619.7,81.8 619.8,80.8 619.9,80.7 620,79.9 620.1,80.7 620.2,78.2 620.3,77.9 620.3,78.2 620.4,80 620.5,79.6 620.6,77.8 620.7,78.4 620.8,79.2 620.9,78.9 621,79.5 621,78.4 621.1,77.4 621.2,79.1 621.3,79.6 621.4,77.4 621.5,77.1 621.6,78.1 621.6,76.9 621.7,78.4 621.8,77 621.9,78.1 622,77.1 622.1,77.1 622.2,77.3 622.2,76.5 622.3,75.7 622.4,77.1 622.5,75.2 622.6,77.3 622.7,75.9 622.8,75.8 622.9,76.5 622.9,76.5 623,76.5 623.1,74.9 623.2,75.3 623.3,76.2 623.4,76.3 623.5,76 623.5,77 623.6,76 623.7,76.8 623.8,76.8 623.9,76.2 624,75.6 624.1,76.2 624.1,75.9 624.2,76 624.3,74.8 624.4,75.8 624.5,76.7 624.6,75.4 624.7,75.8 624.7,75.6 624.8,76.6 624.9,74.5 625,77.3 625.1,76.5 625.2,76 625.3,76.3 625.4,76.8 625.4,76 625.5,76.1 625.6,76.3 625.7,75.4 625.8,75.7 625.9,76.1 626,75.4 626,74.4 626.1,75.3 626.2,76.3 626.3,74.5 626.4,75.1 626.5,75.1 626.6,75.5 626.6,74.6 626.7,74.8 626.8,76.2 626.9,75 627,73.9 627.1,74.8 627.2,74.1 627.2,75.2 627.3,72.8 627.4,74 627.5,74.5 627.6,72.7 627.7,72.9 627.8,73.6 627.9,73.2 627.9,72.7 628,73.1 628.1,71.7 628.2,72 628.3,73.8 628.4,71.9 628.5,72.6 628.5,72.2 628.6,72.8 628.7,72.4 628.8,72.4 628.9,73 629,72.3 629.1,70.8 629.1,71.4 629.2,72.8 629.3,72.5 629.4,71.8 629.5,70.9 629.6,71.7 629.7,73.9 629.8,73.4 629.8,73.6 629.9,71.7 630,72.1 630.1,73 630.2,72.8 630.3,74.4 630.4,73.9 630.4,75.5 630.5,75.4 630.6,75.5 630.7,76.7 630.8,76.7 630.9,76.5 631,76.2 631,76.5 631.1,75.2 631.2,75.5 631.3,76.7 631.4,77.6 631.5,79.2 631.6,78.4 631.6,77.6 631.7,78 631.8,77.6 631.9,78.5 632,78.6 632.1,78.7 632.2,79.1 632.3,79.8 632.3,79.7 632.4,78.5 632.5,80.1 632.6,78.9 632.7,80 632.8,80 632.9,81.4 632.9,80.2 633,80.4 633.1,80.6 633.2,81.7 633.3,81.6 633.4,81.3 633.5,82.2 633.5,83.1 633.6,82.7 633.7,82.5 633.8,80.8 633.9,80.9 634,80.9 634.1,79.3 634.1,81.7 634.2,79.3 634.3,80.5 634.4,79.1 634.5,79.9 634.6,80.2 634.7,79.7 634.8,78.4 634.8,78.5 634.9,79.5 635,78.8 635.1,79.1 635.2,79.9 635.3,77.5 635.4,79.7 635.4,80.5 635.5,80.9 635.6,80.1 635.7,79 635.8,80.2 635.9,80.8 636,78.9 636,78.8 636.1,79.1 636.2,78.7 636.3,77.3 636.4,76.7 636.5,77.2 636.6,77.4 636.6,78 636.7,77.2 636.8,77.9 636.9,78.9 637,80.3 637.1,79 637.2,78 637.3,79.7 637.3,79.3 637.4,79.9 637.5,80.7 637.6,80.9 637.7,79.6 637.8,80 637.9,81.1 637.9,81.6 638,82.6 638.1,81.5 638.2,80.7 638.3,80.2 638.4,79.7 638.5,78.9 638.5,78.6 638.6,79 638.7,79.2 638.8,78.4 638.9,78.7 639,78.3 639.1,78.1 639.2,77.7 639.2,77.9 639.3,77.4 639.4,75 639.5,76.9 639.6,76.5 639.7,75.7 639.8,76.1 639.8,75.4 639.9,75.9 640,75.1 640.1,76.1 640.2,75.7 640.3,74.6 640.4,75.4 640.4,76.7 640.5,76.7 640.6,76.7 640.7,76 640.8,76.5 640.9,77.4 641,77.7 641,77.8 641.1,77.5 641.2,78.2 641.3,78.3 641.4,78.2 641.5,78.6 641.6,79.2 641.7,79 641.7,80.4 641.8,79.9 641.9,79.3 642,77.5 642.1,76.9 642.2,77.1 642.3,76 642.3,75.6 642.4,75 642.5,73.3 642.6,74.6 642.7,71.7 642.8,71.5 642.9,73.4 642.9,72.2 643,74 643.1,73.7 643.2,74.2 643.3,74.1 643.4,73.8 643.5,74.4 643.5,75.7 643.6,75.9 643.7,75.4 643.8,75.8 643.9,76.3 644,77.2 644.1,77.9 644.2,78.6 644.2,78 644.3,79.4 644.4,79 644.5,79.8 644.6,78.2 644.7,79.4 644.8,79.9 644.8,77.8 644.9,79.7 645,79.2 645.1,79.4 645.2,78.6 645.3,79 645.4,77.7 645.4,77.6 645.5,78.6 645.6,78.8 645.7,77.7 645.8,79.9 645.9,80.2 646,80.3 646.1,79.1 646.1,80.6 646.2,80 646.3,80.3 646.4,79.6 646.5,79.4 646.6,79.3 646.7,79.5 646.7,80.8 646.8,79.7 646.9,80 647,80.8 647.1,80.5 647.2,79.4 647.3,80.5 647.3,80.9 647.4,82.5 647.5,81.9 647.6,80.7 647.7,80.7 647.8,80.9 647.9,81 647.9,79.8 648,80.2 648.1,78.5 648.2,79.3 648.3,79.6 648.4,76.5 648.5,78.1 648.6,78.2 648.6,78.1 648.7,77.6 648.8,77.3 648.9,77.2 649,76.7 649.1,76.3 649.2,77 649.2,76.2 649.3,75.7 649.4,74.2 649.5,74 649.6,74.8 649.7,73.1 649.8,74.7 649.8,73.1 649.9,75.8 650,75.3 650.1,74.1 650.2,74.2 650.3,73 650.4,74.3 650.4,75 650.5,74.5 650.6,73.7 650.7,75.3 650.8,74.2 650.9,74.1 651,73.7 651.1,74.5 651.1,76.1 651.2,74.6 651.3,73.1 651.4,74.4 651.5,75.7 651.6,75.1 651.7,73.8 651.7,74.5 651.8,73.3 651.9,75 652,74.3 652.1,74.8 652.2,75.2 652.3,75.3 652.3,77.3 652.4,77.2 652.5,75.9 652.6,76.1 652.7,77 652.8,75.3 652.9,75 652.9,74.5 653,76.1 653.1,75.1 653.2,75 653.3,74.6 653.4,74.3 653.5,75.7 653.6,74.5 653.6,74.6 653.7,73.8 653.8,74.2 653.9,74.5 654,74.4 654.1,73.5 654.2,74 654.2,74 654.3,72 654.4,74.1 654.5,73.3 654.6,72.5 654.7,73.2 654.8,73.8 654.8,73.5 654.9,73.6 655,73.7 655.1,74.2 655.2,73.1 655.3,73.9 655.4,74.9 655.5,74.9 655.5,74.4 655.6,75.2 655.7,75.2 655.8,76.1 655.9,75.3 656,75.7 656.1,76.3 656.1,77.7 656.2,80 656.3,79.3 656.4,79.7 656.5,78.9 656.6,80.1 656.7,79.1 656.7,78.9 656.8,79.7 656.9,78.1 657,77.7 657.1,78.7 657.2,81 657.3,81.1 657.3,81.1 657.4,81.2 657.5,81.7 657.6,82.4 657.7,81.1 657.8,81.9 657.9,80.1 658,81.2 658,79.4 658.1,78.4 658.2,78.4 658.3,77.6 658.4,78 658.5,76.7 658.6,77.7 658.6,78.1 658.7,78.4 658.8,77.8 658.9,78.9 659,76.6 659.1,77.4 659.2,76.9 659.2,76.9 659.3,76.3 659.4,77.1 659.5,75.7 659.6,74.6 659.7,76.7 659.8,74.6 659.8,74.2 659.9,74.6 660,73.2 660.1,73.2 660.2,74.3 660.3,73 660.4,73.7 660.5,75 660.5,75.9 660.6,74.8 660.7,75.1 660.8,76.3 660.9,74.9 661,75.9 661.1,76.3 661.1,75.8 661.2,75.5 661.3,77.7 661.4,79.1 661.5,79.3 661.6,80.2 661.7,77.7 661.7,80 661.8,81.4 661.9,80.2 662,80.1 662.1,81.5 662.2,80.8 662.3,80.8 662.4,79.9 662.4,80.4 662.5,79.6 662.6,79 662.7,78.2 662.8,78.6 662.9,77.2 663,78.1 663,77.8 663.1,77.3 663.2,75.3 663.3,76.2 663.4,75.8 663.5,75.8 663.6,73.7 663.6,74.2 663.7,74.4 663.8,75.3 663.9,73.7 664,74.7 664.1,73.9 664.2,74.9 664.2,73.3 664.3,71.5 664.4,72.1 664.5,72.1 664.6,72.5 664.7,71.7 664.8,70.6 664.9,69.5 664.9,70.1 665,69.5 665.1,70.2 665.2,69.5 665.3,67.5 665.4,66.5 665.5,67.7 665.5,68 665.6,67 665.7,67.2 665.8,68.4" fill="none" stroke="#1f64d9" stroke-width="0.9" stroke-linejoin="round" />
<line x1="490.4" y1="88.80000000000001" x2="493.4" y2="88.80000000000001" stroke="#555" stroke-width="0.8"/>
<line x1="491.4" y1="81.7" x2="493.4" y2="81.7" stroke="#555" stroke-width="0.8"/>
<line x1="490.4" y1="74.6" x2="493.4" y2="74.6" stroke="#555" stroke-width="0.8"/>
<line x1="491.4" y1="67.49999999999999" x2="493.4" y2="67.49999999999999" stroke="#555" stroke-width="0.8"/>
<line x1="490.4" y1="60.39999999999998" x2="493.4" y2="60.39999999999998" stroke="#555" stroke-width="0.8"/>
<line x1="491.4" y1="53.30000000000001" x2="493.4" y2="53.30000000000001" stroke="#555" stroke-width="0.8"/>
<line x1="490.4" y1="46.2" x2="493.4" y2="46.2" stroke="#555" stroke-width="0.8"/>
<line x1="491.4" y1="39.099999999999994" x2="493.4" y2="39.099999999999994" stroke="#555" stroke-width="0.8"/>
<line x1="490.4" y1="31.999999999999986" x2="493.4" y2="31.999999999999986" stroke="#555" stroke-width="0.8"/>
<line x1="491.4" y1="24.899999999999984" x2="493.4" y2="24.899999999999984" stroke="#555" stroke-width="0.8"/>
<line x1="490.4" y1="151.10000000000002" x2="493.4" y2="151.10000000000002" stroke="#555" stroke-width="0.8"/>
<line x1="491.4" y1="134.15" x2="493.4" y2="134.15" stroke="#555" stroke-width="0.8"/>
<line x1="490.4" y1="117.2" x2="493.4" y2="117.2" stroke="#555" stroke-width="0.8"/>
<line x1="491.4" y1="100.25000000000003" x2="493.4" y2="100.25000000000003" stroke="#555" stroke-width="0.8"/>
<text x="488.6" y="90.9" font-size="5.9" text-anchor="end" fill="#2a2a2a" font-weight="normal" stroke="#2a2a2a" stroke-width="0.12" >2.8</text>
<text x="488.6" y="76.69999999999999" font-size="5.9" text-anchor="end" fill="#2a2a2a" font-weight="normal" stroke="#2a2a2a" stroke-width="0.12" >3.0</text>
<text x="488.6" y="62.49999999999998" font-size="5.9" text-anchor="end" fill="#2a2a2a" font-weight="normal" stroke="#2a2a2a" stroke-width="0.12" >3.2</text>
<text x="488.6" y="48.300000000000004" font-size="5.9" text-anchor="end" fill="#2a2a2a" font-weight="normal" stroke="#2a2a2a" stroke-width="0.12" >3.4</text>
<text x="488.6" y="34.09999999999999" font-size="5.9" text-anchor="end" fill="#2a2a2a" font-weight="normal" stroke="#2a2a2a" stroke-width="0.12" >3.6</text>
<text x="488.6" y="153.20000000000002" font-size="5.9" text-anchor="end" fill="#2a2a2a" font-weight="normal" stroke="#2a2a2a" stroke-width="0.12" >1.4</text>
<text x="488.6" y="119.3" font-size="5.9" text-anchor="end" fill="#2a2a2a" font-weight="normal" stroke="#2a2a2a" stroke-width="0.12" >1.6</text>
<line x1="665.8" y1="24.899999999999984" x2="668.3" y2="24.899999999999984" stroke="#555" stroke-width="0.8"/>
<line x1="665.8" y1="39.099999999999994" x2="668.3" y2="39.099999999999994" stroke="#555" stroke-width="0.8"/>
<line x1="665.8" y1="53.30000000000001" x2="668.3" y2="53.30000000000001" stroke="#555" stroke-width="0.8"/>
<line x1="665.8" y1="67.49999999999999" x2="668.3" y2="67.49999999999999" stroke="#555" stroke-width="0.8"/>
<line x1="665.8" y1="81.7" x2="668.3" y2="81.7" stroke="#555" stroke-width="0.8"/>
<line x1="665.8" y1="100.25000000000003" x2="668.3" y2="100.25000000000003" stroke="#555" stroke-width="0.8"/>
<line x1="665.8" y1="134.15" x2="668.3" y2="134.15" stroke="#555" stroke-width="0.8"/>
<line x1="493.4" y1="159.1" x2="493.4" y2="162.1" stroke="#555" stroke-width="0.8"/>
<line x1="510.64" y1="159.1" x2="510.64" y2="161.1" stroke="#555" stroke-width="0.8"/>
<line x1="527.88" y1="159.1" x2="527.88" y2="162.1" stroke="#555" stroke-width="0.8"/>
<line x1="545.12" y1="159.1" x2="545.12" y2="161.1" stroke="#555" stroke-width="0.8"/>
<line x1="562.36" y1="159.1" x2="562.36" y2="162.1" stroke="#555" stroke-width="0.8"/>
<line x1="579.5999999999999" y1="159.1" x2="579.5999999999999" y2="161.1" stroke="#555" stroke-width="0.8"/>
<line x1="596.8399999999999" y1="159.1" x2="596.8399999999999" y2="162.1" stroke="#555" stroke-width="0.8"/>
<line x1="614.0799999999999" y1="159.1" x2="614.0799999999999" y2="161.1" stroke="#555" stroke-width="0.8"/>
<line x1="631.3199999999999" y1="159.1" x2="631.3199999999999" y2="162.1" stroke="#555" stroke-width="0.8"/>
<line x1="648.56" y1="159.1" x2="648.56" y2="161.1" stroke="#555" stroke-width="0.8"/>
<line x1="665.8" y1="159.1" x2="665.8" y2="162.1" stroke="#555" stroke-width="0.8"/>
<text x="493.4" y="168.6" font-size="5.9" text-anchor="middle" fill="#2a2a2a" font-weight="normal" stroke="#2a2a2a" stroke-width="0.12" >0</text>
<text x="527.88" y="168.6" font-size="5.9" text-anchor="middle" fill="#2a2a2a" font-weight="normal" stroke="#2a2a2a" stroke-width="0.12" >20</text>
<text x="562.36" y="168.6" font-size="5.9" text-anchor="middle" fill="#2a2a2a" font-weight="normal" stroke="#2a2a2a" stroke-width="0.12" >40</text>
<text x="596.8399999999999" y="168.6" font-size="5.9" text-anchor="middle" fill="#2a2a2a" font-weight="normal" stroke="#2a2a2a" stroke-width="0.12" >60</text>
<text x="631.3199999999999" y="168.6" font-size="5.9" text-anchor="middle" fill="#2a2a2a" font-weight="normal" stroke="#2a2a2a" stroke-width="0.12" >80</text>
<text x="665.8" y="168.6" font-size="5.9" text-anchor="middle" fill="#2a2a2a" font-weight="normal" stroke="#2a2a2a" stroke-width="0.12" >100</text>
<text x="579.6" y="181.6" font-size="8.5" text-anchor="middle" fill="#111" font-weight="normal" stroke="#111" stroke-width="0.3" >Time (ns)</text>
<text x="0" y="0" font-size="8.5" text-anchor="middle" fill="#111" font-weight="normal" stroke="#111" stroke-width="0.3" transform="translate(475.3,95.9) rotate(-90)">Rg (nm)</text>
<line x1="607.3" y1="29" x2="620.0999999999999" y2="29" stroke="#3c3c3c" stroke-width="0.9"/>
<text x="624" y="31.1" font-size="5.8" text-anchor="start" fill="#3c3c3c" font-weight="bold" >CSF-BAM15</text>
<line x1="607.3" y1="38" x2="620.0999999999999" y2="38" stroke="#f24141" stroke-width="0.9"/>
<text x="624" y="40.1" font-size="5.8" text-anchor="start" fill="#f24141" font-weight="bold" >IL-1&#945;-BAM15</text>
<line x1="607.3" y1="46.8" x2="620.0999999999999" y2="46.8" stroke="#1f64d9" stroke-width="0.9"/>
<text x="624" y="48.9" font-size="5.8" text-anchor="start" fill="#1f64d9" font-weight="bold" >SRC-BAM15</text>
<text x="8.5" y="208.6" font-size="17" text-anchor="start" fill="#111" font-weight="normal" >D</text>
<line x1="40.0" y1="207.1" x2="213.2" y2="207.1" stroke="#999" stroke-width="1.3"/>
<line x1="213.2" y1="207.1" x2="213.2" y2="345.5" stroke="#888" stroke-width="1.3"/>
<line x1="40.5" y1="345.5" x2="213.2" y2="345.5" stroke="#888" stroke-width="1.3"/>
<line x1="40.5" y1="207.1" x2="40.5" y2="346.0" stroke="#888" stroke-width="1.6"/>
<rect x="39.3" y="275.6" width="2.4" height="1.8" fill="#fff"/>
<line x1="38.0" y1="276.5" x2="43.8" y2="273.6" stroke="#222" stroke-width="0.85"/>
<line x1="38.0" y1="278.9" x2="43.8" y2="276.0" stroke="#222" stroke-width="0.85"/>
<rect x="212.0" y="275.6" width="2.4" height="1.8" fill="#fff"/>
<line x1="210.7" y1="276.5" x2="216.5" y2="273.6" stroke="#222" stroke-width="0.85"/>
<line x1="210.7" y1="278.9" x2="216.5" y2="276.0" stroke="#222" stroke-width="0.85"/>
<polyline points="40.5,315.3 40.6,314.9 40.6,314.3 40.7,311.2 40.8,313.9 40.8,314 40.9,310.5 41,315.1 41,313.7 41.1,315.1 41.2,314.4 41.2,313.2 41.3,310.4 41.4,313.1 41.4,311.6 41.5,312.5 41.6,313 41.6,313.1 41.7,314.9 41.8,315.1 41.8,314.3 41.9,312.2 42,313 42,314.8 42.1,317.1 42.2,312.7 42.2,312.5 42.3,312.5 42.4,313.3 42.4,314.6 42.5,311.9 42.6,312.1 42.6,312 42.7,315.6 42.8,312.7 42.8,314.6 42.9,314.5 43,312.3 43,312.8 43.1,311.6 43.2,311.4 43.2,309.4 43.3,310.2 43.4,310.5 43.4,312.7 43.5,310.5 43.6,309.4 43.6,311.7 43.7,309.9 43.8,310.2 43.8,309.1 43.9,312.2 44,309.9 44,311.2 44.1,308.8 44.2,309.6 44.2,305.1 44.3,311.7 44.4,314.4 44.4,307.1 44.5,313.5 44.6,312.8 44.6,312.1 44.7,309.8 44.8,309.5 44.8,312.5 44.9,309.4 45,307.8 45,308.9 45.1,310.6 45.2,310 45.2,309.9 45.3,310.5 45.4,314 45.4,311.2 45.5,311.4 45.6,308.9 45.6,310 45.7,312.7 45.7,311.7 45.8,312 45.9,310.5 45.9,308.2 46,310.3 46.1,310.1 46.1,313.8 46.2,308.8 46.3,309.6 46.3,314 46.4,310.3 46.5,309.6 46.5,312.1 46.6,309.4 46.7,310.5 46.7,310.1 46.8,311.7 46.9,310 46.9,311.1 47,308.7 47.1,309.9 47.1,310.8 47.2,309.5 47.3,311.8 47.3,310.8 47.4,307.1 47.5,314.2 47.5,310.3 47.6,312.7 47.7,312.3 47.7,311.4 47.8,312.2 47.9,312.3 47.9,309.9 48,313.1 48.1,309.9 48.1,314 48.2,310.8 48.3,312.7 48.3,311.8 48.4,313.2 48.5,311.4 48.5,311.4 48.6,311.5 48.7,312.5 48.7,314.1 48.8,309.9 48.9,306.6 48.9,311.2 49,310.5 49.1,311.7 49.1,311.3 49.2,310.2 49.3,310.5 49.3,310.7 49.4,309.3 49.5,308.9 49.5,309.1 49.6,308.5 49.7,311 49.7,312.9 49.8,313.6 49.9,310.4 49.9,312.4 50,310.1 50.1,311.9 50.1,311.6 50.2,315.1 50.3,311.3 50.3,311 50.4,310.2 50.5,310 50.5,313.2 50.6,314.3 50.7,310.3 50.7,309.2 50.8,309.9 50.9,308.3 50.9,310.5 51,313.3 51.1,308.9 51.1,310.5 51.2,311.2 51.3,307.9 51.3,310.2 51.4,308.3 51.5,311.5 51.5,311.1 51.6,310.6 51.7,304.6 51.7,309.6 51.8,311.2 51.9,309.8 51.9,312 52,311.4 52.1,311.7 52.1,310.8 52.2,312 52.3,309.7 52.3,309.6 52.4,311.4 52.5,308.1 52.5,307.1 52.6,311.2 52.7,311.9 52.7,311.2 52.8,314.1 52.9,310.4 52.9,307.2 53,309.6 53.1,306.9 53.1,308.5 53.2,311.3 53.3,313.5 53.3,314.5 53.4,311.8 53.5,314.1 53.5,313.1 53.6,310.7 53.7,310.6 53.7,308.6 53.8,311.1 53.9,311 53.9,309.9 54,311.2 54.1,310.1 54.1,314.5 54.2,308.2 54.3,312.6 54.3,309.6 54.4,310 54.5,311.3 54.5,306.9 54.6,309.5 54.7,311.7 54.7,307.9 54.8,307.9 54.9,305.9 54.9,309.5 55,307.7 55.1,309.6 55.1,309.1 55.2,310.7 55.3,312.3 55.3,306.9 55.4,308.3 55.5,308.1 55.5,312.3 55.6,308.7 55.7,307.6 55.7,306.3 55.8,309.9 55.8,307.2 55.9,308.2 56,311.2 56,310.4 56.1,310.7 56.2,311.5 56.2,309.6 56.3,309.1 56.4,310.6 56.4,309.8 56.5,313.3 56.6,312.7 56.6,311.8 56.7,312.3 56.8,310.9 56.8,311.1 56.9,313 57,308.4 57,311.5 57.1,312.9 57.2,309.1 57.2,310.4 57.3,310.5 57.4,309.9 57.4,311.7 57.5,310.8 57.6,310.4 57.6,309.7 57.7,308.2 57.8,311.5 57.8,310 57.9,309.3 58,310.1 58,313.9 58.1,309.6 58.2,312.5 58.2,309 58.3,309.1 58.4,313.8 58.4,308.9 58.5,311 58.6,313.7 58.6,307.4 58.7,310.2 58.8,310.7 58.8,309.1 58.9,311.3 59,310.5 59,309.6 59.1,310.7 59.2,309.2 59.2,306.4 59.3,310.2 59.4,312.7 59.4,311 59.5,310 59.6,307.2 59.6,308.4 59.7,311 59.8,310.3 59.8,312.1 59.9,309.4 60,307.2 60,307.7 60.1,311.1 60.2,312 60.2,310.7 60.3,311.8 60.4,311.7 60.4,312.9 60.5,310 60.6,310 60.6,310.2 60.7,311.8 60.8,311.9 60.8,309 60.9,311.6 61,312.3 61,309.8 61.1,311.5 61.2,308.9 61.2,310.9 61.3,308.4 61.4,310.5 61.4,307.5 61.5,307.2 61.6,311.6 61.6,310.1 61.7,308.8 61.8,312 61.8,306.4 61.9,311.6 62,311 62,309.7 62.1,310.9 62.2,312.8 62.2,311.9 62.3,311 62.4,311.6 62.4,313.3 62.5,309.8 62.6,312.4 62.6,308.8 62.7,314.1 62.8,312.6 62.8,310.5 62.9,312.6 63,310.8 63,312.1 63.1,309.7 63.2,312.8 63.2,312.1 63.3,311.8 63.4,312.3 63.4,310.7 63.5,311.8 63.6,312.2 63.6,310 63.7,310.2 63.8,314.3 63.8,310.1 63.9,311.4 64,309.5 64,308.8 64.1,313.4 64.2,310.9 64.2,309.2 64.3,307.3 64.4,309.7 64.4,315.3 64.5,312.2 64.6,311.3 64.6,310.7 64.7,311.3 64.8,311 64.8,313 64.9,311.6 65,313.2 65,310.5 65.1,314 65.2,311.6 65.2,310.4 65.3,309.4 65.4,309.9 65.4,312 65.5,312.8 65.6,310 65.6,310 65.7,314.6 65.8,311.3 65.8,312.6 65.9,310.9 65.9,309.1 66,310 66.1,307.9 66.1,309.5 66.2,309 66.3,309.2 66.3,308.5 66.4,307.3 66.5,310.3 66.5,310.8 66.6,310.5 66.7,312.7 66.7,312.4 66.8,310.2 66.9,311.5 66.9,311.7 67,312.9 67.1,310.5 67.1,314.8 67.2,311.9 67.3,314.1 67.3,310.4 67.4,311.3 67.5,309.8 67.5,311.8 67.6,311.7 67.7,310.7 67.7,313.1 67.8,310.7 67.9,311.9 67.9,309.3 68,308.4 68.1,314.6 68.1,312 68.2,311.6 68.3,309.1 68.3,311.5 68.4,310.8 68.5,310.6 68.5,312.5 68.6,313.3 68.7,311.7 68.7,309 68.8,309.2 68.9,310.7 68.9,308.3 69,309.5 69.1,309 69.1,311.5 69.2,312.7 69.3,311.1 69.3,312.6 69.4,310.6 69.5,311.3 69.5,312.1 69.6,310.7 69.7,312.8 69.7,310.9 69.8,310.1 69.9,312.9 69.9,313.9 70,315.3 70.1,309.6 70.1,313.8 70.2,315.7 70.3,314.3 70.3,312.4 70.4,309.6 70.5,314.2 70.5,310 70.6,314.5 70.7,310.7 70.7,312.4 70.8,309.7 70.9,312.6 70.9,315.1 71,313 71.1,312.5 71.1,312.2 71.2,311.2 71.3,314.2 71.3,309.7 71.4,310.8 71.5,312.1 71.5,309.6 71.6,308.9 71.7,311.7 71.7,308.8 71.8,314.6 71.9,313.1 71.9,314 72,313.7 72.1,312.8 72.1,309.4 72.2,312.2 72.3,312.1 72.3,311.4 72.4,309.8 72.5,306.6 72.5,312.2 72.6,311 72.7,312.8 72.7,308.8 72.8,307.9 72.9,309.1 72.9,311.5 73,311.7 73.1,311.5 73.1,314.5 73.2,313.8 73.3,312.8 73.3,313.6 73.4,310.4 73.5,311.9 73.5,314 73.6,310.3 73.7,313.3 73.7,314.8 73.8,313.3 73.9,316.2 73.9,311.1 74,311.8 74.1,310.4 74.1,314.2 74.2,312.5 74.3,312.2 74.3,314.7 74.4,310.8 74.5,312.8 74.5,314.1 74.6,308.8 74.7,313 74.7,313.4 74.8,309.3 74.9,314.6 74.9,312.5 75,310.8 75.1,311.6 75.1,310.7 75.2,312.8 75.3,313.7 75.3,311.8 75.4,310.3 75.5,310.4 75.5,311.3 75.6,311.4 75.7,310.3 75.7,314.1 75.8,307.8 75.9,312.5 75.9,314.5 76,310.6 76.1,315.2 76.1,311 76.2,313.1 76.2,312.4 76.3,309.8 76.4,312.2 76.4,311.7 76.5,313.2 76.6,312 76.6,310.6 76.7,312.4 76.8,314.8 76.8,312.1 76.9,310.5 77,311.1 77,311 77.1,309.9 77.2,308.1 77.2,309.6 77.3,313.8 77.4,313.1 77.4,311.9 77.5,311.8 77.6,314.2 77.6,313.5 77.7,310.8 77.8,311.3 77.8,312.4 77.9,310.2 78,312.1 78,312.2 78.1,312.1 78.2,312.3 78.2,312.7 78.3,312.5 78.4,312.6 78.4,312.8 78.5,312.4 78.6,313.5 78.6,312.4 78.7,313.3 78.8,313.1 78.8,313.9 78.9,313.7 79,312 79,315.7 79.1,310.8 79.2,312.9 79.2,313.5 79.3,312.9 79.4,314.5 79.4,313.6 79.5,315.4 79.6,309.8 79.6,313.4 79.7,314.1 79.8,313.1 79.8,309.6 79.9,314.3 80,313.9 80,310.3 80.1,313.5 80.2,309.3 80.2,313.5 80.3,312.2 80.4,311.8 80.4,311.7 80.5,310.6 80.6,310.5 80.6,312.6 80.7,308.1 80.8,312.3 80.8,311.4 80.9,313.5 81,312.1 81,314.9 81.1,314.4 81.2,310.6 81.2,312.3 81.3,309.7 81.4,311.9 81.4,311.6 81.5,311.3 81.6,312.9 81.6,310.1 81.7,311.5 81.8,312.6 81.8,310.4 81.9,309.7 82,310.9 82,309.9 82.1,313.8 82.2,312.3 82.2,313.1 82.3,311.2 82.4,310.2 82.4,312.8 82.5,310.8 82.6,312.5 82.6,310.6 82.7,310.2 82.8,313.6 82.8,311.9 82.9,311.5 83,313.9 83,308.1 83.1,313.8 83.2,311.8 83.2,309.3 83.3,309.2 83.4,310.3 83.4,312 83.5,308.7 83.6,312.8 83.6,311.2 83.7,311.7 83.8,310.4 83.8,310.8 83.9,312.5 84,312.5 84,309.8 84.1,310.1 84.2,310.8 84.2,314.8 84.3,310.9 84.4,314.1 84.4,311.7 84.5,314.9 84.6,313.3 84.6,312.3 84.7,311.6 84.8,313.1 84.8,313.7 84.9,310.4 85,311.8 85,308.6 85.1,308.8 85.2,309.8 85.2,313.3 85.3,311.3 85.4,309.9 85.4,313.9 85.5,308.9 85.6,309.7 85.6,310.2 85.7,310.5 85.8,311.1 85.8,310.4 85.9,312.3 86,311.2 86,311.5 86.1,310.6 86.2,310.8 86.2,313.1 86.3,311.8 86.3,312.4 86.4,311.5 86.5,309.4 86.5,311.7 86.6,307.7 86.7,312.6 86.7,314.3 86.8,310.7 86.9,310.1 86.9,310.9 87,313.1 87.1,312.4 87.1,312.5 87.2,309.6 87.3,313.1 87.3,312.4 87.4,313.1 87.5,314.1 87.5,314.4 87.6,313.1 87.7,310.9 87.7,313.9 87.8,313.4 87.9,312.6 87.9,314.2 88,309.9 88.1,311.8 88.1,313.1 88.2,310.4 88.3,311.6 88.3,311.1 88.4,311.9 88.5,309.6 88.5,314.4 88.6,308.6 88.7,311.3 88.7,310 88.8,313 88.9,308.8 88.9,309.4 89,312.2 89.1,309.4 89.1,310.4 89.2,310.8 89.3,312.6 89.3,313.1 89.4,309 89.5,312.5 89.5,315.4 89.6,314.9 89.7,313.6 89.7,310.2 89.8,314.3 89.9,311.3 89.9,312.8 90,313.2 90.1,311.9 90.1,313.5 90.2,311.9 90.3,311 90.3,310.3 90.4,310.5 90.5,309.5 90.5,308.6 90.6,312.4 90.7,313.1 90.7,310.7 90.8,308.4 90.9,309.6 90.9,310.5 91,308.9 91.1,310.8 91.1,311.8 91.2,309.1 91.3,308.7 91.3,313.1 91.4,312.6 91.5,313.6 91.5,311.4 91.6,311.7 91.7,315.9 91.7,314.1 91.8,314.8 91.9,314.6 91.9,311.7 92,313.3 92.1,309.1 92.1,315.2 92.2,309.1 92.3,313.7 92.3,312 92.4,314.5 92.5,313.7 92.5,312.7 92.6,312.4 92.7,312.8 92.7,313 92.8,312.6 92.9,313.6 92.9,314.2 93,310.4 93.1,314.2 93.1,309.4 93.2,312.7 93.3,309.7 93.3,314.6 93.4,311.6 93.5,312.4 93.5,314.4 93.6,312.8 93.7,313.5 93.7,308.2 93.8,309.5 93.9,311 93.9,310 94,309.9 94.1,310 94.1,309.1 94.2,313.6 94.3,313.1 94.3,311.3 94.4,313.5 94.5,309.5 94.5,317.1 94.6,310.8 94.7,313.9 94.7,310.6 94.8,312.4 94.9,313.5 94.9,314 95,310.6 95.1,311.5 95.1,311.3 95.2,314.9 95.3,311.5 95.3,310.5 95.4,308.9 95.5,307.8 95.5,309.2 95.6,313.2 95.7,310.2 95.7,311.5 95.8,311 95.9,310.3 95.9,310.8 96,313.1 96.1,311.5 96.1,313.5 96.2,312.4 96.3,311.3 96.3,311.4 96.4,313.8 96.4,315.2 96.5,309.8 96.6,313.1 96.6,314.4 96.7,316.6 96.8,312.1 96.8,314.4 96.9,310.9 97,314.8 97,314.3 97.1,310.1 97.2,311.6 97.2,312.2 97.3,313.2 97.4,312.7 97.4,313 97.5,313.1 97.6,310.2 97.6,309.8 97.7,312.6 97.8,309.8 97.8,310.9 97.9,311.7 98,314.9 98,312.3 98.1,314.7 98.2,313.7 98.2,310.7 98.3,315.5 98.4,311.8 98.4,314.9 98.5,313.5 98.6,312 98.6,309.8 98.7,313.9 98.8,312.8 98.8,317.1 98.9,311.9 99,312.9 99,311.8 99.1,311.4 99.2,314.9 99.2,314.7 99.3,310.3 99.4,311.3 99.4,311.6 99.5,310.6 99.6,313.8 99.6,312.2 99.7,311.5 99.8,312.5 99.8,313 99.9,312 100,312.2 100,313.6 100.1,313.8 100.2,311.6 100.2,314.1 100.3,309.9 100.4,312.8 100.4,315.3 100.5,317.5 100.6,315 100.6,314.6 100.7,318.3 100.8,316.7 100.8,314.4 100.9,313.9 101,310.1 101,315.3 101.1,312.4 101.2,314.2 101.2,311 101.3,311.8 101.4,314.7 101.4,314 101.5,317.9 101.6,314.2 101.6,315.8 101.7,313.3 101.8,312.2 101.8,312 101.9,312.5 102,313.8 102,316.7 102.1,312.9 102.2,311 102.2,313.1 102.3,309.8 102.4,313.8 102.4,308.4 102.5,309 102.6,313.7 102.6,314 102.7,311.5 102.8,312.7 102.8,313.6 102.9,313.7 103,310.8 103,312.6 103.1,309.3 103.2,310.4 103.2,311.2 103.3,312.3 103.4,313.7 103.4,312 103.5,311.7 103.6,312.5 103.6,311.8 103.7,311.5 103.8,314.3 103.8,312.8 103.9,314 104,309.9 104,311.2 104.1,312.2 104.2,311.9 104.2,313.5 104.3,313.4 104.4,314.9 104.4,317 104.5,313.2 104.6,314.6 104.6,315.3 104.7,316.8 104.8,312.3 104.8,314.6 104.9,313.9 105,315.2 105,316.4 105.1,312.6 105.2,313.2 105.2,314.5 105.3,314.8 105.4,310.5 105.4,319 105.5,313.1 105.6,313 105.6,313.9 105.7,314.8 105.8,313.7 105.8,315.6 105.9,313.7 106,313.4 106,312.5 106.1,313.8 106.2,315.8 106.2,313.1 106.3,314.7 106.4,312.6 106.4,315.1 106.5,311.8 106.5,308.2 106.6,310.9 106.7,311.8 106.7,312 106.8,313.3 106.9,311.7 106.9,310.4 107,313.4 107.1,312 107.1,315.3 107.2,313.1 107.3,313.7 107.3,312.5 107.4,311.8 107.5,314.5 107.5,312.6 107.6,310.8 107.7,313.8 107.7,312.5 107.8,312.2 107.9,316.5 107.9,310.4 108,313.7 108.1,313.1 108.1,312.9 108.2,312.8 108.3,311.6 108.3,311.5 108.4,313.2 108.5,313 108.5,314.7 108.6,311.7 108.7,314.6 108.7,316.2 108.8,310.6 108.9,315.7 108.9,314.1 109,313.3 109.1,313.7 109.1,315.6 109.2,311.1 109.3,315.9 109.3,315 109.4,316.1 109.5,310.6 109.5,309.8 109.6,315.3 109.7,311.7 109.7,314.8 109.8,313.5 109.9,311.5 109.9,310.5 110,315 110.1,313 110.1,310.3 110.2,313.4 110.3,310.1 110.3,313.1 110.4,310 110.5,312.1 110.5,313.4 110.6,310.2 110.7,312.7 110.7,310.1 110.8,313.6 110.9,310.7 110.9,312.2 111,310.5 111.1,314.3 111.1,318.5 111.2,312 111.3,312.6 111.3,312.7 111.4,311.8 111.5,311.2 111.5,315.5 111.6,311.1 111.7,316.8 111.7,312.8 111.8,313.1 111.9,313.5 111.9,312.8 112,314.4 112.1,313.8 112.1,311.8 112.2,314.4 112.3,313.4 112.3,316.5 112.4,316.1 112.5,311.3 112.5,314 112.6,314.3 112.7,311.4 112.7,312.3 112.8,313.5 112.9,313.2 112.9,310.9 113,313.1 113.1,313 113.1,314.3 113.2,312.7 113.3,310.8 113.3,313.2 113.4,314.2 113.5,311.5 113.5,313.8 113.6,314.6 113.7,312.8 113.7,311.6 113.8,315.1 113.9,317.9 113.9,317.5 114,313.1 114.1,312.8 114.1,311.8 114.2,314.3 114.3,313.5 114.3,313.3 114.4,315.6 114.5,313.7 114.5,317.4 114.6,313.7 114.7,313.8 114.7,313 114.8,316.9 114.9,314.8 114.9,318.6 115,313.3 115.1,314.8 115.1,316.2 115.2,312.1 115.3,316 115.3,316.4 115.4,313.5 115.5,316.7 115.5,314.4 115.6,315.1 115.7,315.2 115.7,317.9 115.8,315.1 115.9,315.7 115.9,316.8 116,315.3 116.1,317.8 116.1,315.1 116.2,315.7 116.3,316.2 116.3,316.4 116.4,316.2 116.5,318.6 116.5,314.1 116.6,317.2 116.7,319.8 116.7,316.2 116.8,315.6 116.8,315 116.9,315.5 117,316.5 117,316.3 117.1,313.9 117.2,316.8 117.2,315.2 117.3,312.7 117.4,311.9 117.4,316.4 117.5,315 117.6,316.2 117.6,312.7 117.7,317.1 117.8,314.3 117.8,312.2 117.9,313.3 118,316.9 118,317.9 118.1,315.2 118.2,313.9 118.2,317.3 118.3,316.9 118.4,310.2 118.4,314.7 118.5,315.5 118.6,314.2 118.6,317.8 118.7,313.2 118.8,315.7 118.8,313.5 118.9,314.2 119,314.6 119,315.2 119.1,312.1 119.2,315.7 119.2,314.5 119.3,316.6 119.4,311.2 119.4,312.4 119.5,314.5 119.6,313.4 119.6,310.1 119.7,311.3 119.8,310.3 119.8,313.7 119.9,314.7 120,308.1 120,314.2 120.1,315.6 120.2,312.9 120.2,312.8 120.3,315.8 120.4,309.4 120.4,314.1 120.5,314.8 120.6,313.1 120.6,314.1 120.7,315.2 120.8,311.9 120.8,313.4 120.9,312.5 121,312.2 121,313.5 121.1,315.2 121.2,310.5 121.2,313.7 121.3,309.3 121.4,312.9 121.4,313.7 121.5,310.3 121.6,308 121.6,311.8 121.7,310 121.8,313.7 121.8,314.6 121.9,313.2 122,312.9 122,310.2 122.1,311.1 122.2,312.8 122.2,310.4 122.3,314.2 122.4,310.5 122.4,313.2 122.5,312.4 122.6,313.6 122.6,309.3 122.7,313.7 122.8,312.1 122.8,311 122.9,312.7 123,311.5 123,314.7 123.1,309.6 123.2,314.8 123.2,316.4 123.3,313.1 123.4,313.4 123.4,313.2 123.5,314.4 123.6,314 123.6,312 123.7,314.5 123.8,313.6 123.8,311.9 123.9,313.9 124,314.1 124,312.3 124.1,315.4 124.2,311.2 124.2,310.5 124.3,316.7 124.4,309.1 124.4,308.8 124.5,313.8 124.6,312.6 124.6,313.1 124.7,310.3 124.8,310.9 124.8,310.7 124.9,312.4 125,312.3 125,315 125.1,313.5 125.2,315 125.2,313.5 125.3,310.1 125.4,314 125.4,309.7 125.5,314.1 125.6,314.6 125.6,311.4 125.7,315.3 125.8,313.9 125.8,312.4 125.9,312.6 126,311.9 126,314.7 126.1,312.4 126.2,314.4 126.2,314 126.3,311.3 126.4,313.1 126.4,312.3 126.5,315.6 126.6,311.6 126.6,312.3 126.7,312.6 126.8,310.1 126.8,312 126.9,313 126.9,309.5 127,314.6 127.1,310.9 127.1,316 127.2,314.2 127.3,312.7 127.3,313 127.4,309.5 127.5,309.2 127.5,314.7 127.6,312.7 127.7,310.9 127.7,311 127.8,313.6 127.9,312.7 127.9,310.2 128,309.4 128.1,311.9 128.1,310.6 128.2,311 128.3,310.2 128.3,309.8 128.4,313.3 128.5,311.6 128.5,309.4 128.6,311.6 128.7,311.1 128.7,306.7 128.8,309.8 128.9,311 128.9,311.8 129,310.1 129.1,311.7 129.1,308.3 129.2,312.7 129.3,314 129.3,309.9 129.4,311.1 129.5,315.6 129.5,310.6 129.6,311.2 129.7,313.8 129.7,308.3 129.8,307.9 129.9,310 129.9,316.9 130,309.4 130.1,311.4 130.1,313.1 130.2,309.4 130.3,310.7 130.3,311.9 130.4,314.8 130.5,311 130.5,314.3 130.6,311.1 130.7,312.7 130.7,313.4 130.8,310.1 130.9,313 130.9,313.7 131,315.4 131.1,312.8 131.1,315 131.2,314.4 131.3,312.1 131.3,314.1 131.4,312.7 131.5,315.6 131.5,310.5 131.6,315 131.7,312.2 131.7,313.8 131.8,313.7 131.9,309.5 131.9,311.2 132,311.6 132.1,315.8 132.1,311.5 132.2,314.3 132.3,317.3 132.3,314.3 132.4,310.6 132.5,311.9 132.5,314.1 132.6,313.7 132.7,312.5 132.7,314.8 132.8,313.8 132.9,314.5 132.9,316.4 133,312.7 133.1,313.8 133.1,310.6 133.2,312.3 133.3,313.7 133.3,317.4 133.4,312.8 133.5,313.5 133.5,311.4 133.6,311.7 133.7,312.1 133.7,312.4 133.8,311.6 133.9,314 133.9,311.9 134,310.6 134.1,315.1 134.1,309.1 134.2,313.4 134.3,312.3 134.3,311.4 134.4,310.7 134.5,310.2 134.5,309 134.6,313 134.7,314.8 134.7,309.2 134.8,310 134.9,311.5 134.9,311.8 135,313.2 135.1,310.6 135.1,308.8 135.2,312 135.3,310.9 135.3,311.8 135.4,309.7 135.5,311.9 135.5,313.9 135.6,311.6 135.7,313.4 135.7,309.1 135.8,313.3 135.9,310.5 135.9,312 136,308.8 136.1,313.2 136.1,311.3 136.2,313.3 136.3,312.3 136.3,310.3 136.4,314.2 136.5,314.7 136.5,312.7 136.6,311.8 136.7,313.7 136.7,313.1 136.8,311.2 136.9,310.4 136.9,314 137,311.2 137,310.9 137.1,312.7 137.2,312.6 137.2,310.8 137.3,311.4 137.4,312.6 137.4,307.2 137.5,311.4 137.6,310.3 137.6,314.1 137.7,312.3 137.8,313.7 137.8,313.8 137.9,311.2 138,314.8 138,312.6 138.1,313.1 138.2,309.8 138.2,312.3 138.3,313.7 138.4,311.9 138.4,314.6 138.5,311.1 138.6,311.3 138.6,310.8 138.7,310.9 138.8,308.5 138.8,311.2 138.9,316.3 139,314.3 139,312.8 139.1,316.3 139.2,312.8 139.2,312.5 139.3,312.5 139.4,315.7 139.4,314.8 139.5,313.5 139.6,313.4 139.6,312.9 139.7,314.6 139.8,314.8 139.8,314.6 139.9,314.4 140,314 140,312 140.1,311.1 140.2,311.2 140.2,311.4 140.3,316.3 140.4,313.2 140.4,314.3 140.5,311.4 140.6,313.9 140.6,312.4 140.7,314.2 140.8,309.6 140.8,314.7 140.9,312.6 141,310.5 141,312.5 141.1,310 141.2,313 141.2,313.3 141.3,307.9 141.4,310.4 141.4,311.3 141.5,310.8 141.6,313 141.6,309.6 141.7,310 141.8,310.3 141.8,313.1 141.9,313.5 142,313.6 142,308.6 142.1,315.2 142.2,306.5 142.2,312 142.3,311.9 142.4,312.1 142.4,316.4 142.5,314.7 142.6,314.7 142.6,311.4 142.7,316.9 142.8,311.1 142.8,314.2 142.9,315.8 143,314.4 143,313.7 143.1,314.4 143.2,311.2 143.2,314.2 143.3,312.7 143.4,314.4 143.4,312.1 143.5,314.1 143.6,310.5 143.6,314 143.7,314.3 143.8,310.1 143.8,310.6 143.9,308.6 144,311.6 144,307.2 144.1,311.4 144.2,310.3 144.2,312.3 144.3,311.6 144.4,315.6 144.4,312.9 144.5,312.3 144.6,312.7 144.6,313.7 144.7,312.7 144.8,310 144.8,314.4 144.9,314 145,309 145,311.6 145.1,313.8 145.2,316.2 145.2,315.5 145.3,314.1 145.4,314.4 145.4,315.4 145.5,314 145.6,315.9 145.6,312.4 145.7,315.2 145.8,312.1 145.8,312.8 145.9,313.7 146,315.6 146,309 146.1,315.3 146.2,311.5 146.2,313.1 146.3,316 146.4,311.6 146.4,308.3 146.5,315.3 146.6,312 146.6,311.8 146.7,313.1 146.8,310 146.8,309.9 146.9,309.1 147,311.6 147,310.3 147.1,311.4 147.2,312.5 147.2,310.3 147.3,311 147.3,312.4 147.4,308.9 147.5,315.1 147.5,315.5 147.6,312.3 147.7,313.8 147.7,313.7 147.8,310.1 147.9,311.6 147.9,313 148,311.8 148.1,315.6 148.1,313.3 148.2,313.3 148.3,310.4 148.3,310.2 148.4,311.7 148.5,315 148.5,310.4 148.6,312.5 148.7,313.9 148.7,311.9 148.8,311.7 148.9,312.3 148.9,311.3 149,309 149.1,310.8 149.1,315.7 149.2,311 149.3,315.4 149.3,310 149.4,313.1 149.5,311.4 149.5,312 149.6,314.8 149.7,312.5 149.7,313.9 149.8,308.9 149.9,310.1 149.9,315.7 150,314.7 150.1,312.5 150.1,313.2 150.2,313.5 150.3,313.2 150.3,312.9 150.4,313.1 150.5,313.4 150.5,315.6 150.6,312 150.7,308.5 150.7,313.5 150.8,315.7 150.9,316 150.9,312.9 151,313.4 151.1,317.3 151.1,309.7 151.2,313.3 151.3,313.2 151.3,310.9 151.4,313.4 151.5,312.8 151.5,311 151.6,312.5 151.7,316.8 151.7,312.9 151.8,312.3 151.9,315.3 151.9,313.4 152,314.1 152.1,313.9 152.1,312.5 152.2,314 152.3,311 152.3,313.3 152.4,311.2 152.5,315.3 152.5,313.9 152.6,314.6 152.7,312.9 152.7,313.7 152.8,310.1 152.9,308 152.9,313.9 153,311.4 153.1,311.2 153.1,306.3 153.2,315.4 153.3,311 153.3,311.3 153.4,310 153.5,312.5 153.5,311.4 153.6,302.9 153.7,309.6 153.7,312.5 153.8,312.6 153.9,309.3 153.9,313.1 154,312.2 154.1,307.9 154.1,314.6 154.2,311.9 154.3,312.2 154.3,314.7 154.4,310.6 154.5,315.7 154.5,316.6 154.6,313.8 154.7,316.9 154.7,317 154.8,311.6 154.9,312.9 154.9,314.2 155,314.5 155.1,311.7 155.1,312.2 155.2,313.4 155.3,314.5 155.3,313.6 155.4,315.3 155.5,314.5 155.5,314.1 155.6,312.7 155.7,311.1 155.7,316.9 155.8,311.4 155.9,312.2 155.9,313.7 156,311.2 156.1,313.6 156.1,311.7 156.2,312.8 156.3,315.9 156.3,312.6 156.4,312.4 156.5,314.2 156.5,312.9 156.6,313.2 156.7,309.6 156.7,310.7 156.8,313.9 156.9,311.4 156.9,311.6 157,315.9 157.1,311.9 157.1,314.7 157.2,313.2 157.3,312.7 157.3,313.4 157.4,312.6 157.4,311 157.5,314.7 157.6,312.9 157.6,315.7 157.7,313.5 157.8,312.3 157.8,308.9 157.9,312.8 158,314.6 158,312.7 158.1,313.7 158.2,310 158.2,314.7 158.3,313.5 158.4,311.6 158.4,316.8 158.5,315.4 158.6,314.5 158.6,314.3 158.7,314 158.8,314.3 158.8,315.5 158.9,314.2 159,315.1 159,317.1 159.1,314.7 159.2,315.2 159.2,315.8 159.3,313.6 159.4,314.4 159.4,313.9 159.5,312.2 159.6,311.9 159.6,318.2 159.7,312.6 159.8,314.1 159.8,312 159.9,311.4 160,309.3 160,312.9 160.1,316.3 160.2,313.3 160.2,311.3 160.3,314.4 160.4,314 160.4,313.5 160.5,310.9 160.6,313.1 160.6,315.5 160.7,313.3 160.8,316.6 160.8,314.2 160.9,313.1 161,313.7 161,316.2 161.1,310.6 161.2,312.6 161.2,311.7 161.3,314.3 161.4,315.2 161.4,314.2 161.5,312.7 161.6,315 161.6,311.2 161.7,316.2 161.8,313.6 161.8,317.5 161.9,313.5 162,317.4 162,316.6 162.1,315 162.2,310.2 162.2,313.7 162.3,315 162.4,312.2 162.4,315.4 162.5,314.9 162.6,311.8 162.6,317.1 162.7,312.6 162.8,311.1 162.8,312 162.9,314.3 163,310.3 163,312.2 163.1,313.2 163.2,312.4 163.2,313.6 163.3,310.7 163.4,315.4 163.4,314.3 163.5,315.7 163.6,315 163.6,314.9 163.7,312.3 163.8,314 163.8,311.3 163.9,313.6 164,310.8 164,314.5 164.1,314.8 164.2,311.1 164.2,311.8 164.3,311.5 164.4,309.3 164.4,312.2 164.5,309.3 164.6,310.5 164.6,310.4 164.7,312.7 164.8,313.7 164.8,313.3 164.9,310.9 165,313.3 165,314.9 165.1,309.4 165.2,315.5 165.2,313.4 165.3,311.9 165.4,312 165.4,311.2 165.5,312.8 165.6,317.5 165.6,309.4 165.7,312.8 165.8,312.4 165.8,310.2 165.9,313 166,312.6 166,316.2 166.1,312.8 166.2,314.9 166.2,312.5 166.3,312 166.4,314.1 166.4,311.3 166.5,312.7 166.6,312.8 166.6,311.7 166.7,312.6 166.8,316.3 166.8,310.9 166.9,310.4 167,314.8 167,310.4 167.1,309.7 167.2,310.9 167.2,313.2 167.3,314 167.4,311.8 167.4,313.4 167.5,310.5 167.5,314.5 167.6,313.7 167.7,312.5 167.7,312.6 167.8,315.2 167.9,312.8 167.9,311.6 168,314.4 168.1,310.1 168.1,310.4 168.2,313.5 168.3,310.3 168.3,308.9 168.4,308.7 168.5,311.3 168.5,310.8 168.6,309.1 168.7,311.5 168.7,308.6 168.8,307.6 168.9,311.2 168.9,307.2 169,310.7 169.1,312.5 169.1,308.9 169.2,307.9 169.3,312.7 169.3,313.2 169.4,316.1 169.5,312 169.5,312.4 169.6,310.7 169.7,314.6 169.7,315.2 169.8,312.1 169.9,313.3 169.9,315.3 170,312.8 170.1,315.7 170.1,315.2 170.2,312.6 170.3,307.4 170.3,311.8 170.4,311.2 170.5,316.5 170.5,312.6 170.6,312 170.7,311.2 170.7,312.4 170.8,314.9 170.9,314.4 170.9,309.3 171,314.2 171.1,315.2 171.1,314.8 171.2,315.8 171.3,314.2 171.3,317.6 171.4,311.8 171.5,315 171.5,311.2 171.6,311.5 171.7,315.4 171.7,313.8 171.8,310.5 171.9,312.4 171.9,308.1 172,309.6 172.1,309.4 172.1,307.6 172.2,311.4 172.3,307.8 172.3,309.8 172.4,312.4 172.5,311 172.5,308.6 172.6,309.2 172.7,310.8 172.7,307.8 172.8,311.5 172.9,311.6 172.9,313.5 173,311.4 173.1,311.7 173.1,308.5 173.2,312.4 173.3,314 173.3,312.7 173.4,312.4 173.5,312 173.5,311.9 173.6,313.4 173.7,310.8 173.7,314.7 173.8,313.1 173.9,314.6 173.9,313.4 174,313.8 174.1,311.7 174.1,317.6 174.2,315.9 174.3,314.2 174.3,311.9 174.4,317.2 174.5,314.3 174.5,313.8 174.6,311.7 174.7,312.4 174.7,314.7 174.8,310.4 174.9,311.4 174.9,311.1 175,312 175.1,312.6 175.1,310.6 175.2,310.9 175.3,310.7 175.3,308.7 175.4,309.9 175.5,307.7 175.5,310.4 175.6,310.2 175.7,310.5 175.7,309.2 175.8,314.8 175.9,312.6 175.9,310.2 176,309.3 176.1,310.9 176.1,310.7 176.2,311.1 176.3,311.8 176.3,309.2 176.4,310 176.5,311.6 176.5,308.1 176.6,315.9 176.7,313.3 176.7,312.4 176.8,313.6 176.9,312.4 176.9,312 177,312.9 177.1,312.4 177.1,314.2 177.2,312.2 177.3,314.3 177.3,315.3 177.4,313.4 177.5,312.5 177.5,310 177.6,311.2 177.6,310.4 177.7,312.2 177.8,314.2 177.8,308.4 177.9,313.2 178,309.4 178,311.8 178.1,313.9 178.2,311.6 178.2,315 178.3,313 178.4,312.3 178.4,312.7 178.5,312.5 178.6,313.3 178.6,310.4 178.7,312.5 178.8,311.4 178.8,313.1 178.9,311.5 179,313.2 179,316.4 179.1,316.6 179.2,312.2 179.2,312.9 179.3,313.9 179.4,311.6 179.4,312.5 179.5,311.1 179.6,313.4 179.6,310.3 179.7,315.6 179.8,309.9 179.8,311.6 179.9,314.3 180,312.4 180,307.4 180.1,313.1 180.2,312 180.2,313.1 180.3,309.1 180.4,316.7 180.4,309.6 180.5,315 180.6,310.5 180.6,310.6 180.7,314.4 180.8,311.6 180.8,316.7 180.9,315.6 181,313.7 181,311.8 181.1,311.8 181.2,313.4 181.2,313.3 181.3,311.7 181.4,312.8 181.4,313 181.5,314.6 181.6,311.5 181.6,312.7 181.7,314.5 181.8,314 181.8,308.1 181.9,314.4 182,312.2 182,315.1 182.1,312.4 182.2,311.2 182.2,318.5 182.3,311.1 182.4,310.2 182.4,312.7 182.5,314 182.6,313.2 182.6,312.5 182.7,310 182.8,315.7 182.8,308.6 182.9,312.2 183,308.8 183,311.1 183.1,311.6 183.2,312.5 183.2,309.7 183.3,310.2 183.4,308 183.4,310.5 183.5,310.1 183.6,311.6 183.6,310.6 183.7,313.2 183.8,312.9 183.8,314.4 183.9,314.8 184,312.2 184,314.7 184.1,314.2 184.2,310.1 184.2,315.4 184.3,310.8 184.4,312.3 184.4,314.9 184.5,310.5 184.6,313.8 184.6,310.8 184.7,310.8 184.8,314 184.8,311.3 184.9,313.9 185,314.7 185,313.2 185.1,313.2 185.2,311 185.2,311.1 185.3,312.7 185.4,313.4 185.4,309.9 185.5,311.6 185.6,312.4 185.6,314 185.7,312 185.8,310.2 185.8,312.2 185.9,310.4 186,310.7 186,312.5 186.1,316 186.2,315.5 186.2,309.2 186.3,316 186.4,305.3 186.4,310.8 186.5,310.5 186.6,314.2 186.6,311.1 186.7,313.8 186.8,311.3 186.8,311.9 186.9,311.2 187,312.1 187,311.4 187.1,316.7 187.2,315.7 187.2,314.9 187.3,317.5 187.4,312.7 187.4,311.6 187.5,311.5 187.6,310.1 187.6,312.3 187.7,313.4 187.8,310.9 187.8,313.2 187.9,313 187.9,311.5 188,310.5 188.1,312.9 188.1,312.4 188.2,311.1 188.3,307 188.3,315.6 188.4,314.1 188.5,312.9 188.5,311 188.6,313.7 188.7,311.4 188.7,312.9 188.8,308.2 188.9,312.8 188.9,314 189,314.5 189.1,313.3 189.1,313.9 189.2,313.1 189.3,312.7 189.3,312.1 189.4,309.3 189.5,310.9 189.5,313.5 189.6,309.3 189.7,315.2 189.7,313.3 189.8,310.7 189.9,314.5 189.9,312.3 190,315.8 190.1,311.7 190.1,315 190.2,310.4 190.3,310.6 190.3,308.6 190.4,313 190.5,310.3 190.5,315.2 190.6,309.8 190.7,314 190.7,314 190.8,311.5 190.9,312.8 190.9,317.2 191,312.4 191.1,315.2 191.1,315.1 191.2,317.6 191.3,310.1 191.3,312.6 191.4,314.2 191.5,315.5 191.5,312.2 191.6,309.9 191.7,310.1 191.7,313.1 191.8,311.3 191.9,314 191.9,313.5 192,311.8 192.1,309.5 192.1,312.1 192.2,312.7 192.3,312 192.3,313.2 192.4,310.7 192.5,313.2 192.5,313.3 192.6,311.9 192.7,309.1 192.7,311.1 192.8,311.6 192.9,311 192.9,314.9 193,313.1 193.1,310.7 193.1,312.9 193.2,315.9 193.3,316.5 193.3,316.1 193.4,311.6 193.5,315.6 193.5,311.9 193.6,317.9 193.7,318.2 193.7,312.3 193.8,315.3 193.9,312.4 193.9,315.2 194,313.7 194.1,314.8 194.1,316.7 194.2,315.1 194.3,316.5 194.3,315.5 194.4,312.4 194.5,313.1 194.5,316.3 194.6,316.3 194.7,313.3 194.7,318 194.8,315.1 194.9,317.1 194.9,314.9 195,316.2 195.1,312.6 195.1,313.5 195.2,310.6 195.3,314.1 195.3,309.7 195.4,314.1 195.5,312.6 195.5,311.5 195.6,312.6 195.7,312.3 195.7,311.1 195.8,316.3 195.9,311.4 195.9,315.4 196,315.7 196.1,314.8 196.1,312.1 196.2,311.4 196.3,310.4 196.3,310.5 196.4,310.3 196.5,311.6 196.5,312.9 196.6,314.2 196.7,310.2 196.7,314.2 196.8,310.6 196.9,317 196.9,314.8 197,316.3 197.1,313.3 197.1,311.1 197.2,309.9 197.3,313.2 197.3,310 197.4,314.2 197.5,314.3 197.5,311.5 197.6,315.2 197.7,313.3 197.7,313.7 197.8,314.1 197.9,311.3 197.9,312.6 198,310.7 198,313.4 198.1,310.9 198.2,314.8 198.2,314.2 198.3,310.9 198.4,312.1 198.4,312.1 198.5,315 198.6,313.5 198.6,313 198.7,316.9 198.8,313 198.8,313.3 198.9,313 199,313.8 199,311 199.1,315.8 199.2,311.3 199.2,310.4 199.3,315 199.4,315.7 199.4,313.7 199.5,312.3 199.6,309.6 199.6,315.4 199.7,312.3 199.8,314.8 199.8,313.3 199.9,316 200,313.1 200,315.1 200.1,313.7 200.2,314 200.2,312.9 200.3,316.8 200.4,311 200.4,315.8 200.5,312.5 200.6,313.4 200.6,315.9 200.7,311.4 200.8,315.6 200.8,312.8 200.9,315.2 201,315.1 201,315.4 201.1,312.7 201.2,313.9 201.2,312 201.3,313.5 201.4,312.6 201.4,314.9 201.5,318.7 201.6,315.3 201.6,311.6 201.7,313.5 201.8,310.5 201.8,310.9 201.9,311.5 202,314.5 202,310.9 202.1,317.6 202.2,310.3 202.2,313.3 202.3,316.7 202.4,314.4 202.4,315.3 202.5,309.9 202.6,312.9 202.6,310.9 202.7,312.4 202.8,314.1 202.8,312.1 202.9,315.5 203,311.9 203,314 203.1,312.9 203.2,311.9 203.2,311.4 203.3,312.5 203.4,316.2 203.4,311.2 203.5,314.3 203.6,309.2 203.6,314.5 203.7,311.7 203.8,312.4 203.8,313.8 203.9,312.8 204,313.8 204,312.8 204.1,313.3 204.2,310.2 204.2,312 204.3,312.1 204.4,309.9 204.4,313.3 204.5,313.1 204.6,310.5 204.6,312.3 204.7,313.2 204.8,311.4 204.8,313.3 204.9,313.4 205,309.9 205,313.5 205.1,314.5 205.2,310.3 205.2,312.9 205.3,308.2 205.4,307.3 205.4,311.5 205.5,309.4 205.6,313 205.6,314.6 205.7,310.7 205.8,310.1 205.8,312.5 205.9,312.5 206,312.4 206,309.5 206.1,312.2 206.2,311.5 206.2,308.6 206.3,310.3 206.4,313 206.4,310.3 206.5,308.3 206.6,312.8 206.6,313.3 206.7,310.9 206.8,311.5 206.8,312.5 206.9,310.3 207,312.6 207,314.9 207.1,313.9 207.2,312.8 207.2,311.8 207.3,316.9 207.4,309.4 207.4,312.5 207.5,311.5 207.6,311.2 207.6,312.7 207.7,312.7 207.8,316 207.8,316.6 207.9,315.8 208,314.8 208,312.9 208.1,312.9 208.1,316.8 208.2,315 208.3,310.4 208.3,313.1 208.4,312.2 208.5,314.2 208.5,315.8 208.6,316.4 208.7,313.6 208.7,313.7 208.8,313.2 208.9,310.5 208.9,312.5 209,313.2 209.1,314 209.1,314.3 209.2,313.1 209.3,314.2 209.3,310.4 209.4,313.5 209.5,313.2 209.5,316.7 209.6,312.2 209.7,315.6 209.7,313.2 209.8,313.7 209.9,314 209.9,315.1 210,310.6 210.1,309.8 210.1,315.9 210.2,315.1 210.3,315.9 210.3,313.1 210.4,316.2 210.5,311.4 210.5,309.6 210.6,309.2 210.7,314.3 210.7,313.9 210.8,314.5 210.9,312.5 210.9,311.5 211,314.1 211.1,311.1 211.1,312.6 211.2,312.9 211.3,315.9 211.3,315 211.4,313.6 211.5,313.6 211.5,309.7 211.6,314.9 211.7,314.3 211.7,314.8 211.8,313.7 211.9,313.9 211.9,315.8 212,314.3 212.1,313.5 212.1,315.2 212.2,315.1 212.3,314 212.3,312.4 212.4,317.2 212.5,311.8 212.5,317.6 212.6,315 212.7,314.6 212.7,314.1 212.8,313.8 212.9,312.7 212.9,313.6 213,312.7 213.1,315.3 213.1,310.6 213.2,312.4" fill="none" stroke="#3c3c3c" stroke-width="0.8" stroke-linejoin="round" />
<polyline points="40.5,322.7 40.6,325 40.6,322.7 40.7,322.3 40.8,321.6 40.8,318.7 40.9,319.4 41,317.3 41,320.1 41.1,320.7 41.2,317.6 41.2,321.6 41.3,317.8 41.4,323.5 41.4,319.5 41.5,317.4 41.6,321 41.6,322.5 41.7,320.4 41.8,318.6 41.8,316.1 41.9,316 42,314.9 42,317.7 42.1,322.8 42.2,317.8 42.2,314.8 42.3,319.2 42.4,318.5 42.4,321.2 42.5,320.2 42.6,314.8 42.6,319.4 42.7,319.4 42.8,317 42.8,322.4 42.9,319.6 43,318.5 43,319.7 43.1,322.1 43.2,323.6 43.2,322.2 43.3,321.4 43.4,322.9 43.4,319.4 43.5,321.5 43.6,320.8 43.6,320.9 43.7,326.8 43.8,323.4 43.8,321.4 43.9,316.3 44,322.8 44,320.4 44.1,318.2 44.2,317.8 44.2,319.5 44.3,313.6 44.4,315.3 44.4,319.1 44.5,316.2 44.6,315.9 44.6,315.2 44.7,321 44.8,315.8 44.8,317.9 44.9,319.5 45,316.7 45,316.2 45.1,323.5 45.2,319.9 45.2,320.7 45.3,317.6 45.4,325.9 45.4,321.1 45.5,317.2 45.6,315.9 45.6,322.8 45.7,317.5 45.7,323.4 45.8,316.2 45.9,319.3 45.9,324.3 46,319.8 46.1,322.4 46.1,320.6 46.2,323.5 46.3,321 46.3,320.8 46.4,323.4 46.5,320.2 46.5,321.9 46.6,326.9 46.7,320.4 46.7,323.6 46.8,319.4 46.9,318.6 46.9,320 47,322.8 47.1,323.1 47.1,321.7 47.2,319.4 47.3,321.6 47.3,320.1 47.4,324.7 47.5,321.9 47.5,320.8 47.6,320.3 47.7,319.3 47.7,320.4 47.8,324.8 47.9,316.8 47.9,321.2 48,321.2 48.1,316.5 48.1,321.3 48.2,320.7 48.3,315.1 48.3,320.9 48.4,317.4 48.5,316.7 48.5,315.7 48.6,317.9 48.7,320.5 48.7,316.2 48.8,321.2 48.9,323.3 48.9,321.2 49,316.7 49.1,320.2 49.1,318.2 49.2,316.2 49.3,320.5 49.3,315.2 49.4,320.4 49.5,317.7 49.5,316.6 49.6,319.5 49.7,318.7 49.7,323.2 49.8,323 49.9,325.1 49.9,320.2 50,318.7 50.1,319.4 50.1,322.1 50.2,319.1 50.3,322.3 50.3,321.6 50.4,317.9 50.5,322.4 50.5,321.1 50.6,320.9 50.7,319.4 50.7,319 50.8,320.3 50.9,317.6 50.9,319.6 51,318.1 51.1,321.3 51.1,318.2 51.2,316.8 51.3,319.7 51.3,318.8 51.4,320.9 51.5,317.6 51.5,327.2 51.6,320.4 51.7,324.6 51.7,321.3 51.8,319.7 51.9,316.6 51.9,321.4 52,319.9 52.1,318.9 52.1,318.3 52.2,315.5 52.3,315 52.3,317.9 52.4,318.8 52.5,321.6 52.5,312.7 52.6,318.6 52.7,317.4 52.7,315.7 52.8,317.2 52.9,319.6 52.9,317.1 53,317.7 53.1,317.3 53.1,317.8 53.2,324.7 53.3,323.7 53.3,320.9 53.4,313.9 53.5,322.6 53.5,315.3 53.6,318.8 53.7,316.7 53.7,319.2 53.8,315.4 53.9,320.8 53.9,319.5 54,316.8 54.1,317.9 54.1,316.1 54.2,318.3 54.3,317.8 54.3,317 54.4,316.1 54.5,318.1 54.5,317.3 54.6,317.8 54.7,316.2 54.7,321.4 54.8,316.4 54.9,320.4 54.9,317.5 55,319.1 55.1,312 55.1,321.5 55.2,312.6 55.3,315.9 55.3,315.2 55.4,319.5 55.5,319.1 55.5,314.7 55.6,318.9 55.7,319.6 55.7,316.2 55.8,317 55.8,317.5 55.9,318 56,319.6 56,319.9 56.1,316.8 56.2,318.5 56.2,319.1 56.3,318.6 56.4,315 56.4,316 56.5,317.3 56.6,318.2 56.6,320.9 56.7,317.2 56.8,325.3 56.8,316.9 56.9,320 57,320 57,317.3 57.1,322.3 57.2,320.9 57.2,318.6 57.3,318.9 57.4,316.7 57.4,321.8 57.5,319.3 57.6,317 57.6,320.6 57.7,313.7 57.8,319.1 57.8,319.2 57.9,317.6 58,318.5 58,319.6 58.1,319.5 58.2,315.1 58.2,318.7 58.3,315.3 58.4,314.9 58.4,316.9 58.5,314.4 58.6,317.2 58.6,316.8 58.7,316.8 58.8,312.9 58.8,315.6 58.9,317.1 59,317.5 59,319.7 59.1,318 59.2,312.4 59.2,315.6 59.3,316.5 59.4,313.3 59.4,315.4 59.5,314 59.6,316.1 59.6,321.2 59.7,317.8 59.8,315.4 59.8,314.3 59.9,316.8 60,323.8 60,317.4 60.1,317.9 60.2,325.8 60.2,320.3 60.3,318.1 60.4,319.3 60.4,317 60.5,322.2 60.6,320 60.6,317.2 60.7,317.3 60.8,318.6 60.8,317.7 60.9,320.8 61,314.9 61,322.9 61.1,321.7 61.2,313.6 61.2,315.5 61.3,318 61.4,318.8 61.4,319.1 61.5,316.2 61.6,316.1 61.6,312.9 61.7,316.4 61.8,312.9 61.8,314 61.9,313.1 62,310.4 62,318.8 62.1,316.6 62.2,312.9 62.2,318.4 62.3,318.2 62.4,312.8 62.4,314.5 62.5,318.5 62.6,314.8 62.6,315.4 62.7,318.8 62.8,318.2 62.8,319.1 62.9,313.8 63,320.1 63,310 63.1,316.3 63.2,316.1 63.2,313.4 63.3,311.7 63.4,315.2 63.4,317 63.5,313.3 63.6,316.4 63.6,316.3 63.7,314.7 63.8,313.9 63.8,319 63.9,313.5 64,318.3 64,314.1 64.1,315.6 64.2,316.3 64.2,319.3 64.3,315 64.4,318.2 64.4,314.7 64.5,319.5 64.6,313.8 64.6,318.6 64.7,318.7 64.8,313.1 64.8,318.7 64.9,313.8 65,314.1 65,313.3 65.1,313.9 65.2,315.5 65.2,318.1 65.3,321.5 65.4,317.3 65.4,314 65.5,319.3 65.6,313.9 65.6,319 65.7,316.2 65.8,316.6 65.8,315.1 65.9,320.8 65.9,319.2 66,318.5 66.1,314.4 66.1,317.1 66.2,316.9 66.3,321.6 66.3,324.8 66.4,321.2 66.5,322.8 66.5,322.1 66.6,318.4 66.7,319.8 66.7,315.6 66.8,321.3 66.9,321.4 66.9,316.8 67,322 67.1,314.4 67.1,315.2 67.2,319.5 67.3,321.7 67.3,318.2 67.4,319.5 67.5,320.3 67.5,318 67.6,317.6 67.7,315 67.7,319.6 67.8,319.1 67.9,323.1 67.9,320.3 68,318.9 68.1,316.1 68.1,314.6 68.2,318.5 68.3,318.8 68.3,321.3 68.4,320.2 68.5,320.2 68.5,323 68.6,320.9 68.7,321.1 68.7,320.3 68.8,320.6 68.9,318.9 68.9,322.7 69,318.9 69.1,319.8 69.1,321.1 69.2,316.9 69.3,315.8 69.3,318.5 69.4,320 69.5,320.9 69.5,316.5 69.6,320.5 69.7,317.3 69.7,316.3 69.8,318.2 69.9,316.4 69.9,314.6 70,315.9 70.1,323.9 70.1,318.5 70.2,318.9 70.3,314.9 70.3,316.5 70.4,317.1 70.5,317.9 70.5,319.2 70.6,314.3 70.7,318.3 70.7,320.4 70.8,320.7 70.9,311.1 70.9,320.8 71,317.3 71.1,316.8 71.1,322.4 71.2,323.2 71.3,318.6 71.3,320 71.4,318.7 71.5,319.5 71.5,320.1 71.6,316.8 71.7,320.9 71.7,325.2 71.8,319.8 71.9,320.7 71.9,321.3 72,321.1 72.1,321.1 72.1,322.3 72.2,322.4 72.3,321.5 72.3,321.7 72.4,322.1 72.5,323.1 72.5,319.1 72.6,316.7 72.7,322.2 72.7,316.7 72.8,316.9 72.9,320 72.9,316.5 73,317.4 73.1,320.2 73.1,319.2 73.2,321.5 73.3,319.7 73.3,315.5 73.4,321.7 73.5,320.5 73.5,314.4 73.6,316.7 73.7,318.2 73.7,323 73.8,318.6 73.9,319 73.9,321.1 74,319.5 74.1,318.1 74.1,319.6 74.2,319.4 74.3,320.3 74.3,317.9 74.4,319.2 74.5,320.4 74.5,316 74.6,319.8 74.7,322.4 74.7,312 74.8,320.3 74.9,315.7 74.9,319.8 75,319.9 75.1,316.2 75.1,318.1 75.2,318 75.3,318.4 75.3,319.8 75.4,320.3 75.5,320.3 75.5,319.5 75.6,321 75.7,325.8 75.7,318.3 75.8,324.7 75.9,322.2 75.9,320.2 76,321.2 76.1,320.1 76.1,313.8 76.2,317.5 76.2,316.2 76.3,320.6 76.4,320.3 76.4,322.8 76.5,321 76.6,319.8 76.6,320 76.7,317 76.8,317.9 76.8,320 76.9,321.6 77,318.1 77,317.2 77.1,319.9 77.2,321 77.2,317.7 77.3,315.7 77.4,318.5 77.4,321.2 77.5,321.7 77.6,321.1 77.6,324.9 77.7,316.4 77.8,318.8 77.8,321.8 77.9,323.8 78,316.2 78,325.7 78.1,319.7 78.2,318.5 78.2,317.9 78.3,322 78.4,326.3 78.4,319.3 78.5,324 78.6,319.1 78.6,321.9 78.7,322.4 78.8,320.4 78.8,317.8 78.9,320.2 79,316.9 79,320.1 79.1,325.6 79.2,322.4 79.2,320.2 79.3,319.3 79.4,320 79.4,316.4 79.5,321.3 79.6,318.1 79.6,320.9 79.7,321.6 79.8,318.4 79.8,324.1 79.9,319.7 80,315.4 80,322.3 80.1,319.2 80.2,316 80.2,321.1 80.3,319.3 80.4,320.4 80.4,315.8 80.5,318 80.6,318.7 80.6,317.3 80.7,319.7 80.8,320.7 80.8,321.2 80.9,322.2 81,320 81,318.8 81.1,318.7 81.2,318.4 81.2,319.5 81.3,323.1 81.4,318.8 81.4,324.3 81.5,319.2 81.6,318.5 81.6,319.4 81.7,317.7 81.8,316.6 81.8,317.4 81.9,322.6 82,322.9 82,315.2 82.1,322.5 82.2,320.2 82.2,320.4 82.3,322.5 82.4,322.9 82.4,323 82.5,321.1 82.6,317.7 82.6,323.2 82.7,316.4 82.8,322 82.8,318.8 82.9,316.7 83,321.5 83,320.1 83.1,318 83.2,319.5 83.2,319 83.3,321.5 83.4,317.8 83.4,321.4 83.5,321.8 83.6,317.6 83.6,319.7 83.7,316.9 83.8,314.9 83.8,318.6 83.9,319 84,317.8 84,320 84.1,319.9 84.2,318.5 84.2,321.3 84.3,321.7 84.4,319.9 84.4,321.5 84.5,312.6 84.6,320.9 84.6,320.5 84.7,326.6 84.8,317.9 84.8,320.9 84.9,318.6 85,322.3 85,320.7 85.1,321.4 85.2,320.6 85.2,315.5 85.3,318 85.4,318.9 85.4,317.9 85.5,318 85.6,325.4 85.6,317.5 85.7,321.5 85.8,319.4 85.8,318.2 85.9,323 86,319.4 86,316.4 86.1,319.9 86.2,317.9 86.2,323.6 86.3,321.1 86.3,319.6 86.4,321.1 86.5,322.5 86.5,318.1 86.6,320.2 86.7,319.4 86.7,321.1 86.8,320 86.9,323.6 86.9,318.2 87,322.7 87.1,319.3 87.1,317.9 87.2,320.2 87.3,321 87.3,318.9 87.4,317.1 87.5,318.3 87.5,322.7 87.6,321 87.7,312.6 87.7,315.2 87.8,319.4 87.9,318.9 87.9,321.2 88,319.7 88.1,315.7 88.1,318.7 88.2,317.3 88.3,322.5 88.3,320 88.4,318.2 88.5,317.6 88.5,319.2 88.6,321.1 88.7,321.5 88.7,320.6 88.8,324.7 88.9,320 88.9,324.2 89,325.4 89.1,321.9 89.1,318.2 89.2,322.2 89.3,317.7 89.3,319.8 89.4,318.5 89.5,319.6 89.5,322.6 89.6,318.7 89.7,324.5 89.7,319.4 89.8,317 89.9,320.1 89.9,317.1 90,319.7 90.1,324.6 90.1,323.9 90.2,316.9 90.3,317.3 90.3,316.8 90.4,319.3 90.5,318.8 90.5,320.3 90.6,316.1 90.7,319.1 90.7,317.3 90.8,316.7 90.9,321.7 90.9,318 91,323.9 91.1,316.4 91.1,320.2 91.2,320 91.3,322.9 91.3,324.8 91.4,324.6 91.5,321.3 91.5,320.9 91.6,320.9 91.7,320.6 91.7,315.9 91.8,313.8 91.9,316.1 91.9,315.7 92,320.1 92.1,320.7 92.1,318.3 92.2,317.4 92.3,321 92.3,322 92.4,320.4 92.5,321.8 92.5,317.4 92.6,317.7 92.7,322.8 92.7,317.9 92.8,322.8 92.9,325.2 92.9,319.4 93,321.5 93.1,319.7 93.1,319.3 93.2,318.1 93.3,321.1 93.3,319.3 93.4,319.2 93.5,314.3 93.5,318.2 93.6,318.3 93.7,317.9 93.7,316.5 93.8,318.7 93.9,323.3 93.9,319.8 94,316.1 94.1,316.3 94.1,320.3 94.2,321.5 94.3,320.8 94.3,321.6 94.4,319.4 94.5,322 94.5,321.3 94.6,316.2 94.7,323.6 94.7,321.9 94.8,317.3 94.9,320.7 94.9,320.9 95,318.4 95.1,319.5 95.1,323.1 95.2,319.4 95.3,320.5 95.3,319.8 95.4,318.7 95.5,319.4 95.5,321 95.6,320.1 95.7,317.6 95.7,321.5 95.8,318.5 95.9,315.9 95.9,320.1 96,322 96.1,319.1 96.1,321.8 96.2,321.3 96.3,319.1 96.3,321.4 96.4,318.3 96.4,320.4 96.5,316.9 96.6,319.7 96.6,320.2 96.7,322.2 96.8,319.3 96.8,319.3 96.9,325.6 97,319.3 97,320.2 97.1,319.7 97.2,315.2 97.2,318.4 97.3,320.9 97.4,319.4 97.4,318.6 97.5,320.8 97.6,315.6 97.6,317.7 97.7,319.6 97.8,317.3 97.8,317.5 97.9,316.3 98,321.5 98,318.7 98.1,319 98.2,320.7 98.2,317 98.3,321.2 98.4,315.9 98.4,318.7 98.5,321.8 98.6,315.1 98.6,316.3 98.7,319.8 98.8,322.6 98.8,322.2 98.9,322.1 99,318.7 99,319.8 99.1,320.4 99.2,322.2 99.2,320.9 99.3,319.4 99.4,318.5 99.4,321.3 99.5,320.6 99.6,318.3 99.6,320.8 99.7,319.3 99.8,324.2 99.8,317.8 99.9,318.8 100,320.2 100,317 100.1,317.6 100.2,316.9 100.2,318.2 100.3,319.2 100.4,325.2 100.4,323.4 100.5,316.7 100.6,317.8 100.6,322.7 100.7,318.6 100.8,320.7 100.8,320 100.9,323.2 101,323.5 101,322 101.1,319.6 101.2,319.9 101.2,319.8 101.3,319.4 101.4,315.3 101.4,317.8 101.5,315.8 101.6,319.6 101.6,320.9 101.7,321.2 101.8,317.5 101.8,322.2 101.9,317 102,321.1 102,317.9 102.1,320.2 102.2,319.1 102.2,321.1 102.3,318.9 102.4,319.1 102.4,320.6 102.5,321.9 102.6,316.5 102.6,317.3 102.7,329 102.8,322.4 102.8,320.7 102.9,320.3 103,320.3 103,317.8 103.1,319.4 103.2,319.9 103.2,318.8 103.3,318.4 103.4,318.4 103.4,326.7 103.5,321.6 103.6,316.7 103.6,318.3 103.7,319.8 103.8,317.7 103.8,320.4 103.9,323.8 104,313.5 104,320.9 104.1,319.1 104.2,311.6 104.2,317.3 104.3,313.1 104.4,316 104.4,323 104.5,316.4 104.6,314.1 104.6,320 104.7,322.4 104.8,322.8 104.8,315.6 104.9,317.3 105,318.5 105,320.3 105.1,316.6 105.2,320.4 105.2,321.5 105.3,318.3 105.4,319.8 105.4,322 105.5,317.7 105.6,321 105.6,317.2 105.7,318.3 105.8,318.1 105.8,317.5 105.9,319.2 106,319 106,318.5 106.1,319 106.2,320.2 106.2,316.2 106.3,316.6 106.4,318.9 106.4,320.6 106.5,317 106.5,320.5 106.6,318 106.7,318.3 106.7,320.1 106.8,318.7 106.9,317.4 106.9,319.6 107,318.5 107.1,316.3 107.1,312 107.2,320.9 107.3,316.1 107.3,317.7 107.4,318.2 107.5,313.8 107.5,319.2 107.6,319.8 107.7,316.2 107.7,317.6 107.8,322.7 107.9,314.9 107.9,312.9 108,317.3 108.1,317.1 108.1,315.2 108.2,317.8 108.3,316.3 108.3,320.5 108.4,320.4 108.5,321.5 108.5,322.1 108.6,316.8 108.7,316.2 108.7,320.8 108.8,319.5 108.9,319.1 108.9,314.1 109,319.4 109.1,318.3 109.1,314.8 109.2,318 109.3,315.6 109.3,317.1 109.4,317.5 109.5,315.4 109.5,317 109.6,315.6 109.7,318.3 109.7,317.1 109.8,322.7 109.9,316 109.9,316.7 110,313.7 110.1,314.1 110.1,316.2 110.2,318.3 110.3,313 110.3,314.7 110.4,320.2 110.5,321 110.5,316.6 110.6,318.8 110.7,314.1 110.7,321.1 110.8,316.8 110.9,319 110.9,316.2 111,315.2 111.1,311.6 111.1,314.5 111.2,322.2 111.3,316.7 111.3,316.9 111.4,315 111.5,315.2 111.5,317.4 111.6,313 111.7,313 111.7,315.9 111.8,315.9 111.9,314.3 111.9,316.1 112,316.5 112.1,315 112.1,315.8 112.2,316.3 112.3,315.4 112.3,315.8 112.4,317 112.5,312.5 112.5,315.7 112.6,315 112.7,317.3 112.7,316.1 112.8,315.3 112.9,318.9 112.9,319 113,316.9 113.1,314.6 113.1,316.2 113.2,318.7 113.3,319.5 113.3,316.1 113.4,318.2 113.5,315.3 113.5,320.4 113.6,315.6 113.7,316.1 113.7,318.7 113.8,317.3 113.9,311.8 113.9,316.5 114,319.8 114.1,311.2 114.1,317.3 114.2,312.3 114.3,314.1 114.3,311.6 114.4,318.5 114.5,318.7 114.5,318.3 114.6,323.9 114.7,315.7 114.7,316.6 114.8,319.1 114.9,313.7 114.9,317.4 115,314.1 115.1,319.7 115.1,319.8 115.2,318.2 115.3,315.4 115.3,312.7 115.4,315.3 115.5,319.1 115.5,314.2 115.6,316.7 115.7,315.3 115.7,319.6 115.8,315.2 115.9,318.7 115.9,313.3 116,314.7 116.1,317.3 116.1,314.8 116.2,311.8 116.3,313.8 116.3,315 116.4,314.5 116.5,316.6 116.5,315.9 116.6,315 116.7,316.3 116.7,312.4 116.8,313.7 116.8,310.3 116.9,312.7 117,313.7 117,311.3 117.1,315.6 117.2,321.1 117.2,319.9 117.3,316.2 117.4,318.2 117.4,314.4 117.5,318 117.6,315.8 117.6,317.9 117.7,315.3 117.8,319.3 117.8,319.6 117.9,320.3 118,316.1 118,315.3 118.1,319.4 118.2,317.6 118.2,318.7 118.3,320.5 118.4,314.5 118.4,317.6 118.5,316 118.6,316 118.6,317.4 118.7,317.9 118.8,319.8 118.8,315.8 118.9,320.6 119,316.7 119,311.1 119.1,316.1 119.2,312.8 119.2,315.7 119.3,316.3 119.4,315.7 119.4,320.4 119.5,314.2 119.6,314.5 119.6,317.7 119.7,317.9 119.8,319.1 119.8,317.3 119.9,318.1 120,319.5 120,318.4 120.1,318.8 120.2,316.4 120.2,312.4 120.3,317.1 120.4,319.1 120.4,314.9 120.5,316.2 120.6,320.3 120.6,318.9 120.7,317.9 120.8,316.2 120.8,315.2 120.9,316.6 121,312 121,314.7 121.1,320.1 121.2,317.5 121.2,313.1 121.3,316.5 121.4,317.2 121.4,314.1 121.5,316.4 121.6,310.8 121.6,313.9 121.7,313.6 121.8,318.4 121.8,314.6 121.9,313.7 122,313.5 122,315.1 122.1,319.4 122.2,316.7 122.2,315 122.3,315.2 122.4,318.3 122.4,310.9 122.5,308.1 122.6,314.5 122.6,313.3 122.7,314.6 122.8,316 122.8,311 122.9,315.1 123,314.6 123,311.2 123.1,315 123.2,313.5 123.2,316.2 123.3,310 123.4,311.1 123.4,319.6 123.5,312.2 123.6,314.8 123.6,317.1 123.7,318.2 123.8,316.9 123.8,312.5 123.9,315.4 124,315.7 124,317.5 124.1,316.5 124.2,312.6 124.2,311.8 124.3,317.9 124.4,311.4 124.4,315.9 124.5,316.2 124.6,311.6 124.6,313.9 124.7,312.4 124.8,318.4 124.8,312.6 124.9,316.4 125,314.6 125,318.3 125.1,316.8 125.2,317.4 125.2,316.1 125.3,319.3 125.4,314.2 125.4,317.9 125.5,316.6 125.6,316 125.6,315.7 125.7,310.7 125.8,317.7 125.8,316.7 125.9,319.5 126,316.2 126,313.4 126.1,317.2 126.2,312.4 126.2,313.1 126.3,315.7 126.4,311.7 126.4,318.1 126.5,315.8 126.6,313.7 126.6,311.9 126.7,317.6 126.8,314.7 126.8,320.1 126.9,313.2 126.9,314.5 127,313.5 127.1,312.6 127.1,315.3 127.2,315.2 127.3,321.1 127.3,315.1 127.4,317.3 127.5,316.3 127.5,313.2 127.6,315 127.7,320.6 127.7,318 127.8,318.2 127.9,313.6 127.9,319.4 128,315.6 128.1,313.2 128.1,313.7 128.2,315.1 128.3,315.8 128.3,315.8 128.4,318.1 128.5,316.6 128.5,311.6 128.6,316.5 128.7,308.8 128.7,315.7 128.8,314.8 128.9,313.1 128.9,318.2 129,315.5 129.1,316 129.1,313.7 129.2,317.3 129.3,314.3 129.3,313.2 129.4,315.6 129.5,318.4 129.5,315.3 129.6,321 129.7,315.9 129.7,318.9 129.8,317.9 129.9,319.4 129.9,315.1 130,318.1 130.1,319 130.1,313.3 130.2,314 130.3,311.3 130.3,314.6 130.4,313.1 130.5,318 130.5,311.2 130.6,312.4 130.7,310.7 130.7,311.6 130.8,316.9 130.9,313 130.9,314.1 131,318.4 131.1,317.3 131.1,316.3 131.2,316.5 131.3,315.8 131.3,321.1 131.4,318 131.5,317.2 131.5,318.3 131.6,319 131.7,316.9 131.7,316.3 131.8,314.4 131.9,317.5 131.9,314.8 132,320.4 132.1,316 132.1,316.6 132.2,316.3 132.3,312.4 132.3,312.9 132.4,318.7 132.5,317.3 132.5,317.7 132.6,312.4 132.7,316.6 132.7,314.2 132.8,317.8 132.9,314.9 132.9,314.5 133,314.5 133.1,316.5 133.1,317.1 133.2,311.4 133.3,314.2 133.3,312.9 133.4,313.2 133.5,317.2 133.5,315.3 133.6,309.9 133.7,316.9 133.7,318.3 133.8,323.8 133.9,317.3 133.9,317.9 134,324.8 134.1,320.1 134.1,317.6 134.2,320.7 134.3,318.3 134.3,317.9 134.4,315.8 134.5,323.5 134.5,320.2 134.6,318 134.7,315.3 134.7,316.9 134.8,310.6 134.9,322.6 134.9,315.7 135,318.6 135.1,319.3 135.1,319.9 135.2,317.6 135.3,316.3 135.3,320.6 135.4,321.7 135.5,315.1 135.5,318.5 135.6,318.7 135.7,316.1 135.7,318.6 135.8,318.6 135.9,315.6 135.9,317.7 136,317.5 136.1,317.5 136.1,319.8 136.2,320.4 136.3,323 136.3,314 136.4,316.8 136.5,318.4 136.5,320 136.6,321.9 136.7,314.7 136.7,319.6 136.8,314.4 136.9,322.5 136.9,319.4 137,317.6 137,316.6 137.1,317.3 137.2,318.6 137.2,318.5 137.3,316.4 137.4,317.6 137.4,321.3 137.5,321.2 137.6,317.3 137.6,316.2 137.7,316.9 137.8,322.6 137.8,322.3 137.9,316.3 138,318.3 138,320.8 138.1,318.2 138.2,318 138.2,314.2 138.3,318.6 138.4,320.6 138.4,317.3 138.5,315.3 138.6,319.2 138.6,319.9 138.7,316.6 138.8,314.4 138.8,318.9 138.9,315.8 139,320.8 139,320.2 139.1,318.3 139.2,319.6 139.2,316.3 139.3,318.3 139.4,315.2 139.4,321.9 139.5,316.5 139.6,317 139.6,315.7 139.7,318.8 139.8,321.8 139.8,319.3 139.9,317.9 140,318.7 140,322.2 140.1,316.1 140.2,316.8 140.2,316.9 140.3,318.8 140.4,316.2 140.4,316.9 140.5,317.7 140.6,319.1 140.6,319.8 140.7,314.9 140.8,315.1 140.8,315.1 140.9,317.2 141,315.9 141,317.3 141.1,318 141.2,312.9 141.2,317.5 141.3,315.3 141.4,317.5 141.4,316.7 141.5,316.3 141.6,318.7 141.6,320.2 141.7,316.7 141.8,319.1 141.8,321.3 141.9,317.4 142,320.7 142,320.5 142.1,315.8 142.2,316.2 142.2,317.5 142.3,317.5 142.4,322.2 142.4,316.2 142.5,321.9 142.6,316.4 142.6,315.4 142.7,317.6 142.8,316.5 142.8,318.3 142.9,319.5 143,316 143,318.1 143.1,321.6 143.2,317.5 143.2,323.9 143.3,318.9 143.4,316.9 143.4,323.4 143.5,316.6 143.6,320.7 143.6,321.6 143.7,322 143.8,318.4 143.8,315.3 143.9,320.7 144,318.6 144,315 144.1,319.1 144.2,316.3 144.2,319.1 144.3,317.9 144.4,320.3 144.4,319.3 144.5,316.4 144.6,320.9 144.6,320.8 144.7,324.3 144.8,320.2 144.8,319.3 144.9,320.3 145,318.7 145,320.8 145.1,318.9 145.2,322.4 145.2,318.8 145.3,316.6 145.4,317.8 145.4,319.6 145.5,322.1 145.6,316.5 145.6,319.1 145.7,318.7 145.8,324.6 145.8,319.6 145.9,319.2 146,319.7 146,315 146.1,318.5 146.2,317.9 146.2,317.9 146.3,315.1 146.4,320 146.4,320.1 146.5,317.8 146.6,319.7 146.6,320.5 146.7,320.2 146.8,318.1 146.8,311.9 146.9,313.6 147,318.3 147,316.2 147.1,319.8 147.2,315.8 147.2,319 147.3,321.7 147.3,318.9 147.4,314.8 147.5,317 147.5,321.3 147.6,319.1 147.7,314.5 147.7,320.6 147.8,317.4 147.9,322.5 147.9,321.7 148,322.9 148.1,320.1 148.1,319.6 148.2,317 148.3,317.1 148.3,321 148.4,319.3 148.5,319.9 148.5,321 148.6,315 148.7,319 148.7,322.1 148.8,322.8 148.9,321.8 148.9,326.1 149,319 149.1,319.1 149.1,318.7 149.2,319.2 149.3,318.8 149.3,317.4 149.4,317.5 149.5,319.5 149.5,317.7 149.6,319.3 149.7,320.2 149.7,319.3 149.8,319.6 149.9,321.6 149.9,315.9 150,318.7 150.1,318.3 150.1,323.7 150.2,321.8 150.3,321.3 150.3,320 150.4,319.1 150.5,320.8 150.5,315.4 150.6,322.8 150.7,316.1 150.7,318.4 150.8,322.4 150.9,317.7 150.9,321 151,320.9 151.1,317.3 151.1,322.3 151.2,315.3 151.3,319.9 151.3,317.6 151.4,318.8 151.5,319.9 151.5,316 151.6,324.8 151.7,322.4 151.7,323.9 151.8,321.5 151.9,319.2 151.9,318.8 152,321.2 152.1,315.6 152.1,316.4 152.2,315.7 152.3,320.7 152.3,316.7 152.4,319.7 152.5,318.7 152.5,317.4 152.6,318.5 152.7,319.7 152.7,321 152.8,320.8 152.9,315.3 152.9,318.9 153,323.4 153.1,324.8 153.1,322.7 153.2,322.7 153.3,322.2 153.3,317.1 153.4,317.7 153.5,319.7 153.5,318.8 153.6,320.6 153.7,318.3 153.7,314.8 153.8,316.7 153.9,315.9 153.9,324.7 154,320.9 154.1,317.9 154.1,316.4 154.2,320.5 154.3,316.9 154.3,312.1 154.4,314.8 154.5,317.1 154.5,316.7 154.6,316.2 154.7,314.3 154.7,316.4 154.8,319.6 154.9,318.4 154.9,320.1 155,315.6 155.1,317.7 155.1,317 155.2,319 155.3,321.6 155.3,317.4 155.4,318.8 155.5,314.7 155.5,320.1 155.6,318.6 155.7,320 155.7,319.4 155.8,320.8 155.9,320.5 155.9,316.5 156,319.5 156.1,320 156.1,322.5 156.2,317.2 156.3,319.9 156.3,320.2 156.4,319.4 156.5,317.6 156.5,317.1 156.6,322.2 156.7,318.8 156.7,321 156.8,318.5 156.9,315.8 156.9,317.7 157,318.3 157.1,318.1 157.1,316.6 157.2,318.8 157.3,317.4 157.3,318 157.4,317.3 157.4,316.7 157.5,318.8 157.6,318.8 157.6,317.6 157.7,314.6 157.8,319 157.8,312.7 157.9,320.6 158,318.1 158,320.2 158.1,320.7 158.2,311.7 158.2,316.3 158.3,320.1 158.4,321.2 158.4,314.9 158.5,317.1 158.6,321.5 158.6,318.1 158.7,319.9 158.8,319.7 158.8,322 158.9,321.3 159,321.5 159,320.8 159.1,319.7 159.2,324.1 159.2,318.6 159.3,316.7 159.4,317.1 159.4,323.5 159.5,317.3 159.6,322.5 159.6,316.8 159.7,320.9 159.8,320.5 159.8,318.8 159.9,320.3 160,324.4 160,321.7 160.1,323.9 160.2,321.9 160.2,322.5 160.3,321.7 160.4,318.3 160.4,320.5 160.5,322.9 160.6,319.8 160.6,320.2 160.7,320.6 160.8,323.1 160.8,316.7 160.9,323.8 161,318.1 161,319.5 161.1,322 161.2,318.3 161.2,322.9 161.3,321.3 161.4,322.2 161.4,319.2 161.5,318.4 161.6,316.1 161.6,318.8 161.7,320.7 161.8,326 161.8,322.3 161.9,320.6 162,321.1 162,323.5 162.1,318.1 162.2,314.6 162.2,319.6 162.3,320.8 162.4,321.3 162.4,320.4 162.5,317.8 162.6,320.7 162.6,325.5 162.7,319.5 162.8,321.6 162.8,317.6 162.9,319 163,319.6 163,321.8 163.1,320.4 163.2,319.3 163.2,320.8 163.3,318.3 163.4,323.8 163.4,320 163.5,319.6 163.6,318 163.6,320.6 163.7,319.8 163.8,317.6 163.8,318.4 163.9,312.2 164,318.9 164,319 164.1,315.1 164.2,318 164.2,322.8 164.3,318.4 164.4,323.1 164.4,315.7 164.5,321.1 164.6,318.4 164.6,318.4 164.7,322.1 164.8,322.5 164.8,317.4 164.9,318 165,323.2 165,320.9 165.1,324.1 165.2,322.6 165.2,325.1 165.3,325 165.4,318.4 165.4,323.9 165.5,322.5 165.6,322.5 165.6,323.2 165.7,323.9 165.8,316.6 165.8,323.3 165.9,321.3 166,318.9 166,325.7 166.1,322.1 166.2,321.8 166.2,323.2 166.3,321 166.4,325.6 166.4,324 166.5,323.5 166.6,319.9 166.6,325.7 166.7,323.9 166.8,326.2 166.8,319 166.9,325.1 167,322.9 167,322.3 167.1,324.7 167.2,327.8 167.2,322.7 167.3,323.6 167.4,320.6 167.4,324.6 167.5,322 167.5,324.6 167.6,326.2 167.7,325.8 167.7,325.7 167.8,329.9 167.9,322.3 167.9,321.3 168,325.7 168.1,323.8 168.1,319.5 168.2,324.4 168.3,327.3 168.3,318.7 168.4,323 168.5,319.9 168.5,325.5 168.6,324.2 168.7,322.8 168.7,324.4 168.8,319.5 168.9,322.5 168.9,321.1 169,319.4 169.1,326.5 169.1,320.7 169.2,320.6 169.3,320 169.3,323.6 169.4,320.7 169.5,323.2 169.5,321 169.6,319.5 169.7,317.8 169.7,317.9 169.8,313.9 169.9,319.1 169.9,322.2 170,322.5 170.1,322.9 170.1,318.5 170.2,317 170.3,321.4 170.3,320.3 170.4,322.6 170.5,321.2 170.5,322.1 170.6,319.2 170.7,322.3 170.7,318.7 170.8,325.5 170.9,320.4 170.9,320.1 171,318.2 171.1,318 171.1,320.7 171.2,323.3 171.3,320 171.3,319.1 171.4,317.6 171.5,318.8 171.5,323.9 171.6,317.7 171.7,319.9 171.7,319.6 171.8,321.2 171.9,318.7 171.9,316.2 172,318.9 172.1,318.7 172.1,319.5 172.2,322.1 172.3,321.3 172.3,317 172.4,324.5 172.5,323.1 172.5,322.4 172.6,321.5 172.7,320 172.7,324.1 172.8,320.9 172.9,320.9 172.9,319.4 173,318 173.1,319.7 173.1,315.5 173.2,314.3 173.3,318.4 173.3,312.8 173.4,317.9 173.5,316.4 173.5,322.2 173.6,315.6 173.7,318.6 173.7,320.1 173.8,312.5 173.9,320.3 173.9,317.4 174,319.3 174.1,320.1 174.1,315.4 174.2,316 174.3,320.8 174.3,318 174.4,316.1 174.5,321 174.5,316.7 174.6,321.2 174.7,321.7 174.7,319.5 174.8,322.2 174.9,319.2 174.9,317.7 175,318.2 175.1,319.2 175.1,319.9 175.2,319.6 175.3,324.4 175.3,318.6 175.4,321.3 175.5,322.1 175.5,319 175.6,322.4 175.7,322.8 175.7,317.8 175.8,318 175.9,319.4 175.9,320.3 176,318.1 176.1,317.2 176.1,314.8 176.2,318.3 176.3,321.1 176.3,319.4 176.4,317.5 176.5,322.1 176.5,311 176.6,319.5 176.7,318.4 176.7,316.7 176.8,320.6 176.9,317.9 176.9,317.3 177,316.8 177.1,319 177.1,318.5 177.2,318.2 177.3,317.1 177.3,320.6 177.4,318.1 177.5,314.8 177.5,315.7 177.6,319.1 177.6,316.7 177.7,319.2 177.8,319 177.8,314.7 177.9,320.7 178,320.5 178,318.3 178.1,320.3 178.2,318.3 178.2,321.8 178.3,313.4 178.4,319.4 178.4,317.8 178.5,318.1 178.6,323 178.6,321.8 178.7,318.6 178.8,317.3 178.8,320.4 178.9,315.9 179,316.1 179,315.7 179.1,318.3 179.2,317.8 179.2,314.6 179.3,316 179.4,317.8 179.4,317.9 179.5,319.5 179.6,317.6 179.6,318.1 179.7,312.5 179.8,317.3 179.8,321.1 179.9,318.8 180,319.3 180,316.3 180.1,313.3 180.2,315.4 180.2,316.7 180.3,319.9 180.4,317.9 180.4,316.5 180.5,317.8 180.6,318.5 180.6,318.6 180.7,320.1 180.8,318.8 180.8,316.3 180.9,315.2 181,316.4 181,321 181.1,322.7 181.2,318.1 181.2,323.7 181.3,320.5 181.4,320.1 181.4,320.6 181.5,321.4 181.6,319 181.6,320.4 181.7,319.9 181.8,314.1 181.8,319.1 181.9,323.2 182,330.1 182,317.9 182.1,319.2 182.2,320 182.2,317.1 182.3,319.4 182.4,317.1 182.4,314.4 182.5,317 182.6,312.5 182.6,316.1 182.7,314.1 182.8,319.6 182.8,312.9 182.9,317.5 183,319 183,318.8 183.1,314.6 183.2,314 183.2,320 183.3,316.8 183.4,316.7 183.4,318.2 183.5,316.9 183.6,317 183.6,316.2 183.7,316.5 183.8,311.3 183.8,315.5 183.9,317.6 184,314.9 184,315.6 184.1,318.7 184.2,314.7 184.2,318.4 184.3,318.7 184.4,318.7 184.4,318.5 184.5,315 184.6,314.8 184.6,319.8 184.7,318 184.8,322.7 184.8,320.6 184.9,319.3 185,318.4 185,317.7 185.1,318.3 185.2,317.3 185.2,317.8 185.3,319.1 185.4,318.7 185.4,318.4 185.5,314.5 185.6,314.5 185.6,315.7 185.7,313.4 185.8,315.4 185.8,316.7 185.9,315 186,317.3 186,317.3 186.1,315.3 186.2,319 186.2,316.5 186.3,319.8 186.4,316.8 186.4,318.5 186.5,321.6 186.6,317.8 186.6,321.5 186.7,324.1 186.8,322.4 186.8,316.9 186.9,322.7 187,323.6 187,320.4 187.1,323.3 187.2,323.1 187.2,315.5 187.3,320.6 187.4,320.3 187.4,318.5 187.5,318.5 187.6,320.7 187.6,325.4 187.7,319 187.8,322.2 187.8,317.9 187.9,321.4 187.9,322 188,317.3 188.1,317.6 188.1,323.3 188.2,320.7 188.3,322.7 188.3,324.9 188.4,320.7 188.5,324 188.5,321.6 188.6,317.4 188.7,320.5 188.7,322.9 188.8,319.6 188.9,320.3 188.9,325.2 189,320.2 189.1,322.2 189.1,322.6 189.2,319.7 189.3,321.4 189.3,317.9 189.4,316.7 189.5,320.8 189.5,321.2 189.6,317.4 189.7,322 189.7,318.9 189.8,315.4 189.9,316.8 189.9,320.6 190,314.4 190.1,320.6 190.1,320.7 190.2,322.3 190.3,316 190.3,321.9 190.4,321.9 190.5,316.9 190.5,320.1 190.6,318.9 190.7,315.1 190.7,319.2 190.8,317.4 190.9,313.9 190.9,317.8 191,316.5 191.1,318 191.1,317.3 191.2,315.1 191.3,313.7 191.3,318.8 191.4,319.3 191.5,314.3 191.5,318 191.6,317.1 191.7,316.4 191.7,318.2 191.8,316.4 191.9,322.8 191.9,315.6 192,317.9 192.1,313.1 192.1,318.4 192.2,315.6 192.3,311.4 192.3,317.3 192.4,319.3 192.5,316.5 192.5,318.4 192.6,317.3 192.7,318.4 192.7,312.9 192.8,319 192.9,315.1 192.9,317.6 193,317.3 193.1,316.6 193.1,318.7 193.2,314.5 193.3,315.6 193.3,321.8 193.4,319.5 193.5,317.4 193.5,316.8 193.6,318.2 193.7,314.4 193.7,312.5 193.8,314.7 193.9,313.3 193.9,322.8 194,312.3 194.1,315.3 194.1,315.5 194.2,318.2 194.3,316.8 194.3,315.7 194.4,314.4 194.5,320.9 194.5,316.9 194.6,317.8 194.7,317.1 194.7,317.7 194.8,316.1 194.9,320.5 194.9,321 195,317.3 195.1,320 195.1,317.4 195.2,315.6 195.3,318 195.3,321.3 195.4,318.9 195.5,314.5 195.5,319.7 195.6,318.8 195.7,317.7 195.7,319 195.8,315.2 195.9,317.6 195.9,318.4 196,315.8 196.1,315 196.1,318.5 196.2,322.2 196.3,312.9 196.3,316.5 196.4,313.4 196.5,317 196.5,314.5 196.6,317.7 196.7,315.5 196.7,317.1 196.8,315.9 196.9,321.8 196.9,318.4 197,319 197.1,317.8 197.1,318.7 197.2,317.2 197.3,318.6 197.3,315.2 197.4,320.7 197.5,317.5 197.5,316.8 197.6,318.8 197.7,318 197.7,319.6 197.8,314.8 197.9,315.3 197.9,314.2 198,311.6 198,315.4 198.1,313.3 198.2,317.2 198.2,311.4 198.3,317.7 198.4,318.4 198.4,313.7 198.5,318.8 198.6,316.5 198.6,318 198.7,316.2 198.8,310.4 198.8,314.4 198.9,320.7 199,318.1 199,315.9 199.1,316.8 199.2,316.2 199.2,318.1 199.3,317.6 199.4,316.2 199.4,319.4 199.5,318.6 199.6,315.4 199.6,316.7 199.7,315 199.8,317.5 199.8,313.7 199.9,318.4 200,323.9 200,318.9 200.1,317.2 200.2,315.2 200.2,313.2 200.3,313.1 200.4,315.3 200.4,315.3 200.5,318.8 200.6,314.2 200.6,315.2 200.7,314.9 200.8,318 200.8,315.8 200.9,316.8 201,317.5 201,319.1 201.1,316.1 201.2,314.9 201.2,316.1 201.3,318 201.4,315.5 201.4,319.7 201.5,318.1 201.6,315 201.6,316.8 201.7,315 201.8,316.9 201.8,318 201.9,315.9 202,318.6 202,310.3 202.1,316.4 202.2,316.7 202.2,312.2 202.3,316.2 202.4,314.4 202.4,315.7 202.5,316.6 202.6,321.2 202.6,315.4 202.7,314.5 202.8,319.6 202.8,319.8 202.9,319.4 203,313.3 203,317.4 203.1,317.2 203.2,319.5 203.2,315.5 203.3,317.9 203.4,309.3 203.4,314.5 203.5,316.4 203.6,314.7 203.6,318.4 203.7,315.1 203.8,316.5 203.8,318.5 203.9,317.1 204,311.4 204,316.8 204.1,317.4 204.2,317.5 204.2,324 204.3,317.3 204.4,319.9 204.4,318.2 204.5,317.6 204.6,323.1 204.6,317 204.7,320.6 204.8,317 204.8,319.3 204.9,318.2 205,320.9 205,318.8 205.1,322.1 205.2,318.9 205.2,317.4 205.3,318.1 205.4,320.8 205.4,319.1 205.5,314.1 205.6,319.3 205.6,310.2 205.7,317.1 205.8,317.3 205.8,315.8 205.9,316.1 206,315.4 206,314.4 206.1,312.6 206.2,314.2 206.2,315 206.3,315.7 206.4,312.1 206.4,320.1 206.5,319.8 206.6,321.9 206.6,317.8 206.7,320.4 206.8,316.4 206.8,318.6 206.9,318.1 207,315.3 207,317.4 207.1,318 207.2,315.8 207.2,319.4 207.3,319.1 207.4,316.8 207.4,315.9 207.5,321.5 207.6,321 207.6,318.5 207.7,320.5 207.8,320.1 207.8,316.7 207.9,319.5 208,318.4 208,319.9 208.1,316.8 208.1,315.3 208.2,315.8 208.3,315 208.3,318.2 208.4,313.7 208.5,318.7 208.5,316.8 208.6,319.7 208.7,319 208.7,314.7 208.8,318.2 208.9,319 208.9,317.7 209,315.1 209.1,315.1 209.1,316 209.2,320.3 209.3,313.5 209.3,317.5 209.4,315.1 209.5,312.3 209.5,317.2 209.6,319.9 209.7,319.6 209.7,321 209.8,318.5 209.9,319.3 209.9,315.8 210,315.4 210.1,316.1 210.1,316.3 210.2,316 210.3,316.2 210.3,316.9 210.4,316.3 210.5,313.9 210.5,310.9 210.6,311.7 210.7,321.9 210.7,320 210.8,317 210.9,317 210.9,319.1 211,312.2 211.1,320.7 211.1,311.5 211.2,317.4 211.3,313.7 211.3,321 211.4,317.7 211.5,319.5 211.5,312 211.6,315.9 211.7,319.6 211.7,313.1 211.8,320.4 211.9,317.4 211.9,316.5 212,321.9 212.1,314.9 212.1,317.2 212.2,315.9 212.3,314.2 212.3,321 212.4,311.2 212.5,316.1 212.5,317.7 212.6,311.4 212.7,315.1 212.7,312.8 212.8,313.8 212.9,312.3 212.9,320 213,314.6 213.1,315.2 213.1,307 213.2,311.5" fill="none" stroke="#f24141" stroke-width="0.8" stroke-linejoin="round" />
<polyline points="40.5,255.7 40.6,256.2 40.6,256.3 40.7,253.7 40.8,254.3 40.8,258.3 40.9,256.4 41,256.5 41,256.8 41.1,258.7 41.2,254.5 41.2,255.2 41.3,250.9 41.4,253.3 41.4,254.4 41.5,254.8 41.6,251.8 41.6,250.2 41.7,251.2 41.8,248.4 41.8,250.6 41.9,252.6 42,254 42,256.1 42.1,253.5 42.2,251.6 42.2,253.8 42.3,252.7 42.4,255.8 42.4,256 42.5,250.3 42.6,253.4 42.6,258.4 42.7,256.6 42.8,253.6 42.8,247.5 42.9,255.7 43,255.3 43,254.3 43.1,256.4 43.2,255.4 43.2,256.2 43.3,254.6 43.4,254.9 43.4,256.2 43.5,254.8 43.6,253 43.6,252.9 43.7,256.2 43.8,253.8 43.8,253.7 43.9,254.1 44,256.9 44,250.9 44.1,250 44.2,255.6 44.2,254.7 44.3,258.2 44.4,254.4 44.4,252 44.5,255.6 44.6,255.6 44.6,255.6 44.7,255.7 44.8,259.6 44.8,254.2 44.9,255.7 45,254.7 45,251.1 45.1,252.2 45.2,252.7 45.2,254 45.3,252.1 45.4,257.6 45.4,254.2 45.5,252.3 45.6,252.7 45.6,254.2 45.7,252.7 45.7,251.5 45.8,250.9 45.9,253.3 45.9,256.9 46,247.2 46.1,252.1 46.1,252.8 46.2,250.9 46.3,257.3 46.3,252.9 46.4,249 46.5,253.3 46.5,250.3 46.6,249.4 46.7,253.1 46.7,255.7 46.8,251.3 46.9,254.3 46.9,257 47,253.1 47.1,251.6 47.1,252.9 47.2,254.2 47.3,252.8 47.3,254.3 47.4,255.7 47.5,251.4 47.5,249.6 47.6,250.8 47.7,249.1 47.7,250.6 47.8,251.5 47.9,248.3 47.9,251.9 48,251.7 48.1,248.4 48.1,250.8 48.2,248.2 48.3,252.9 48.3,250.9 48.4,252.5 48.5,254.5 48.5,252.9 48.6,251.4 48.7,252 48.7,250.3 48.8,251.1 48.9,254.6 48.9,249.6 49,250.4 49.1,250.9 49.1,251 49.2,251.5 49.3,247.2 49.3,248.3 49.4,248.9 49.5,249.4 49.5,249.8 49.6,249 49.7,248.1 49.7,245.8 49.8,245.2 49.9,245 49.9,249.1 50,250.6 50.1,245.6 50.1,244.5 50.2,246.7 50.3,248 50.3,246.6 50.4,247.5 50.5,249.5 50.5,249.1 50.6,247.5 50.7,245.9 50.7,248.3 50.8,250.9 50.9,245.3 50.9,251.9 51,249 51.1,251.6 51.1,247.1 51.2,246.8 51.3,245.6 51.3,250.1 51.4,248.4 51.5,247.5 51.5,248.1 51.6,248.8 51.7,246.1 51.7,249.7 51.8,244.4 51.9,246.8 51.9,248.6 52,247.4 52.1,248.3 52.1,244.9 52.2,247.7 52.3,248.4 52.3,245.8 52.4,249.7 52.5,246.4 52.5,247.4 52.6,246.5 52.7,249.5 52.7,247.6 52.8,250.4 52.9,252.3 52.9,248.3 53,250 53.1,252.4 53.1,244.8 53.2,244.8 53.3,251.9 53.3,246.3 53.4,253.8 53.5,249.8 53.5,243 53.6,249.5 53.7,247.3 53.7,247.8 53.8,249.3 53.9,246.3 53.9,246.9 54,247.9 54.1,244.1 54.1,247.1 54.2,248.3 54.3,247.9 54.3,248.2 54.4,247.9 54.5,243.9 54.5,246.1 54.6,243.8 54.7,248.5 54.7,249.9 54.8,248.2 54.9,243.7 54.9,246.9 55,249.3 55.1,248.6 55.1,249.1 55.2,249.2 55.3,245.3 55.3,247.9 55.4,248 55.5,245.2 55.5,246 55.6,246.9 55.7,251.2 55.7,249.2 55.8,247.1 55.8,247 55.9,243.4 56,246.7 56,248.4 56.1,245.4 56.2,247.2 56.2,248.9 56.3,245.2 56.4,242.6 56.4,245.5 56.5,245.4 56.6,251.4 56.6,245.7 56.7,245.7 56.8,248 56.8,244.5 56.9,245.4 57,245.9 57,245.9 57.1,247.1 57.2,246.5 57.2,241.2 57.3,248.2 57.4,244.9 57.4,247 57.5,245.7 57.6,246.6 57.6,248.1 57.7,244.8 57.8,244.2 57.8,246 57.9,245.1 58,249.1 58,245.1 58.1,244.6 58.2,250.1 58.2,247.2 58.3,248.1 58.4,245.5 58.4,248.3 58.5,250.5 58.6,250.2 58.6,246.7 58.7,248.9 58.8,250.4 58.8,248.3 58.9,252.1 59,251.5 59,251.9 59.1,248.5 59.2,249.3 59.2,246.1 59.3,246.8 59.4,249.9 59.4,247.3 59.5,248.9 59.6,246.7 59.6,247.6 59.7,246.7 59.8,250 59.8,248 59.9,250 60,251.1 60,249.3 60.1,250.2 60.2,255 60.2,251.6 60.3,253.8 60.4,253.6 60.4,252.3 60.5,251.6 60.6,247.1 60.6,251.4 60.7,248.3 60.8,247.5 60.8,250 60.9,252.4 61,251.2 61,251.4 61.1,251.5 61.2,251.5 61.2,247.7 61.3,247.6 61.4,250.1 61.4,252.1 61.5,250 61.6,248.6 61.6,249.2 61.7,249.4 61.8,249.2 61.8,248.5 61.9,254.2 62,251.4 62,247.7 62.1,251.6 62.2,252.4 62.2,253.1 62.3,249.2 62.4,247.4 62.4,256 62.5,248.4 62.6,248 62.6,251.2 62.7,252.9 62.8,252.4 62.8,248.3 62.9,249.8 63,248 63,249.3 63.1,247.7 63.2,254.1 63.2,251.2 63.3,248.2 63.4,248.3 63.4,251.5 63.5,247.1 63.6,248 63.6,247.6 63.7,248.8 63.8,252.4 63.8,247.5 63.9,246.4 64,246.8 64,248.1 64.1,246.6 64.2,247.1 64.2,248.1 64.3,251 64.4,250.6 64.4,249.5 64.5,251.2 64.6,250.6 64.6,250.3 64.7,248.8 64.8,252.3 64.8,250.6 64.9,250.3 65,249.9 65,250.9 65.1,250.4 65.2,247.2 65.2,250.5 65.3,248.1 65.4,244.5 65.4,247.9 65.5,256.1 65.6,247 65.6,250.7 65.7,252.4 65.8,250.6 65.8,250.9 65.9,244.7 65.9,249.9 66,250 66.1,249.2 66.1,251.5 66.2,253.4 66.3,254.1 66.3,256 66.4,253.9 66.5,259.7 66.5,253.3 66.6,250.8 66.7,250.2 66.7,253.9 66.8,255.2 66.9,255.5 66.9,253.5 67,256.2 67.1,253.5 67.1,252.5 67.2,252.9 67.3,253.3 67.3,254.6 67.4,250.7 67.5,251.1 67.5,255.9 67.6,252.8 67.7,256.3 67.7,255.3 67.8,252.4 67.9,256.9 67.9,254.2 68,256.1 68.1,256.5 68.1,256.9 68.2,252.6 68.3,254.3 68.3,257.5 68.4,255.5 68.5,256.7 68.5,256.8 68.6,252.1 68.7,253.1 68.7,256 68.8,253.9 68.9,250.8 68.9,253.6 69,253.4 69.1,251.5 69.1,251.9 69.2,254.9 69.3,254.5 69.3,250.8 69.4,251.3 69.5,252.7 69.5,253.5 69.6,253.3 69.7,251.7 69.7,254.2 69.8,249.2 69.9,251.7 69.9,253.5 70,253.3 70.1,253.1 70.1,254 70.2,253.6 70.3,252.7 70.3,256.7 70.4,253.1 70.5,258.7 70.5,249.6 70.6,255.1 70.7,250.5 70.7,249.3 70.8,250.8 70.9,246.4 70.9,251.3 71,251.9 71.1,249.7 71.1,250.6 71.2,252.3 71.3,249.8 71.3,253.1 71.4,249.5 71.5,255 71.5,251 71.6,248.3 71.7,252.8 71.7,251.9 71.8,248.3 71.9,255.8 71.9,250.8 72,252.9 72.1,257.5 72.1,250.3 72.2,250.2 72.3,250.1 72.3,246.3 72.4,253.6 72.5,249.2 72.5,253.9 72.6,253.3 72.7,248.2 72.7,247.8 72.8,253.4 72.9,248.1 72.9,250.9 73,251.9 73.1,253 73.1,251.5 73.2,249.8 73.3,253.4 73.3,252.8 73.4,254.2 73.5,250.7 73.5,255.2 73.6,252.9 73.7,251 73.7,252.8 73.8,251 73.9,247 73.9,249.3 74,251.2 74.1,250.9 74.1,250.6 74.2,248.3 74.3,247.6 74.3,248.8 74.4,250 74.5,249.3 74.5,250.4 74.6,248.2 74.7,248.4 74.7,248.3 74.8,249 74.9,248.3 74.9,249.6 75,248.7 75.1,252.5 75.1,248 75.2,247.4 75.3,250.2 75.3,252.9 75.4,249 75.5,246.7 75.5,250.9 75.6,247.1 75.7,249.2 75.7,248.8 75.8,246.8 75.9,251.1 75.9,250.2 76,249.1 76.1,250.1 76.1,246.9 76.2,248.7 76.2,250 76.3,250.6 76.4,244.9 76.4,249.6 76.5,246.2 76.6,243.8 76.6,249.9 76.7,250.3 76.8,245.6 76.8,249.5 76.9,247.9 77,249.3 77,251.8 77.1,250.5 77.2,248.3 77.2,245.7 77.3,246.8 77.4,248 77.4,247.5 77.5,249.9 77.6,250.5 77.6,253.4 77.7,252 77.8,246.9 77.8,255 77.9,249.7 78,248.8 78,245.9 78.1,249.8 78.2,254.3 78.2,249.2 78.3,250.3 78.4,249.9 78.4,251.1 78.5,247.2 78.6,247 78.6,250.1 78.7,250.6 78.8,247 78.8,249.2 78.9,250.4 79,248.9 79,247 79.1,252.4 79.2,251 79.2,249.1 79.3,247.3 79.4,244.8 79.4,246.5 79.5,247.6 79.6,245.5 79.6,250 79.7,245.2 79.8,251.6 79.8,247.4 79.9,246.9 80,248.3 80,250.3 80.1,251.8 80.2,247.5 80.2,251.5 80.3,249.4 80.4,247.9 80.4,248.2 80.5,253.4 80.6,247.9 80.6,249.3 80.7,250.7 80.8,253.8 80.8,245.8 80.9,250.5 81,250.4 81,246.2 81.1,248.6 81.2,248.6 81.2,250.3 81.3,248.1 81.4,247.5 81.4,248.9 81.5,250.6 81.6,245.3 81.6,248 81.7,247.2 81.8,247.4 81.8,249.4 81.9,245.9 82,243.8 82,246.4 82.1,243.9 82.2,250 82.2,249.4 82.3,244 82.4,246.2 82.4,242.4 82.5,245.5 82.6,244.9 82.6,249.9 82.7,246.9 82.8,246.2 82.8,248.1 82.9,244.8 83,247.1 83,244.2 83.1,244.4 83.2,249.8 83.2,239.6 83.3,247 83.4,244.1 83.4,247.7 83.5,244.1 83.6,246.1 83.6,242.8 83.7,248.1 83.8,244 83.8,242.4 83.9,238.5 84,241.4 84,246.9 84.1,242.5 84.2,242.3 84.2,245.2 84.3,244.8 84.4,245.5 84.4,244.7 84.5,249.4 84.6,243 84.6,244.3 84.7,245.3 84.8,247.3 84.8,249.5 84.9,246.5 85,248.4 85,247.6 85.1,253.3 85.2,245.3 85.2,249.7 85.3,246.4 85.4,246.9 85.4,247.7 85.5,248.8 85.6,244.5 85.6,245.4 85.7,243.5 85.8,239.5 85.8,249.9 85.9,245.5 86,245 86,243.4 86.1,244.3 86.2,246 86.2,247.8 86.3,245.7 86.3,245.4 86.4,242.6 86.5,243.6 86.5,244.9 86.6,240.7 86.7,243.7 86.7,244.9 86.8,248.3 86.9,241 86.9,241.8 87,246.5 87.1,239.6 87.1,249.8 87.2,245.5 87.3,247.1 87.3,246.5 87.4,241.6 87.5,246.6 87.5,243.3 87.6,244.8 87.7,245.3 87.7,245.6 87.8,246.7 87.9,245 87.9,247.3 88,245.5 88.1,243.6 88.1,245.8 88.2,244 88.3,246.8 88.3,244.4 88.4,244.7 88.5,247.9 88.5,242.2 88.6,247.4 88.7,245.7 88.7,248.7 88.8,248.9 88.9,245.8 88.9,249.1 89,251.9 89.1,247.8 89.1,250.4 89.2,254.1 89.3,244.8 89.3,248.5 89.4,252.9 89.5,248.4 89.5,248.3 89.6,246.1 89.7,242.2 89.7,249.5 89.8,249 89.9,250 89.9,248.3 90,244.6 90.1,242.3 90.1,246.8 90.2,249.2 90.3,246.8 90.3,247 90.4,249.6 90.5,244.7 90.5,245.5 90.6,248 90.7,245.1 90.7,244.5 90.8,245.2 90.9,247.7 90.9,244.7 91,245.6 91.1,246.9 91.1,244.4 91.2,245 91.3,246.5 91.3,246.5 91.4,244.3 91.5,244.8 91.5,247.9 91.6,244.9 91.7,245.8 91.7,245.5 91.8,244.4 91.9,247.4 91.9,245.3 92,242.2 92.1,249.6 92.1,245.6 92.2,246.3 92.3,246.7 92.3,245.1 92.4,243.5 92.5,243.8 92.5,244.5 92.6,247.1 92.7,245 92.7,246.8 92.8,240.7 92.9,243.7 92.9,246 93,243.4 93.1,247.4 93.1,245.4 93.2,245.4 93.3,243.9 93.3,244.8 93.4,243.2 93.5,248.5 93.5,247.3 93.6,246.1 93.7,244.6 93.7,247.9 93.8,243.3 93.9,249.6 93.9,249 94,246.1 94.1,247.5 94.1,252 94.2,249.7 94.3,250.6 94.3,247.5 94.4,250.3 94.5,246 94.5,250.4 94.6,251.1 94.7,248.6 94.7,250.2 94.8,248.5 94.9,248.7 94.9,249.8 95,250.2 95.1,249.6 95.1,250.2 95.2,247 95.3,246 95.3,249.9 95.4,243.8 95.5,245.3 95.5,245.9 95.6,250.3 95.7,250 95.7,255 95.8,247.7 95.9,247.7 95.9,248.2 96,245.5 96.1,250.7 96.1,246.7 96.2,247.1 96.3,249.4 96.3,248.1 96.4,250.5 96.4,251.2 96.5,251.6 96.6,250.2 96.6,248.6 96.7,250.6 96.8,248.5 96.8,247.8 96.9,247.8 97,253.4 97,248.4 97.1,253.8 97.2,251.2 97.2,250.4 97.3,251.1 97.4,254.4 97.4,247.7 97.5,251.5 97.6,249.4 97.6,248 97.7,245.5 97.8,247.8 97.8,247.7 97.9,249.8 98,251.6 98,250.6 98.1,249.2 98.2,253.4 98.2,248.5 98.3,250 98.4,249.2 98.4,251.4 98.5,251 98.6,249.9 98.6,251.3 98.7,250.5 98.8,248.5 98.8,251.8 98.9,248.7 99,248.3 99,251.1 99.1,248.4 99.2,249.5 99.2,254.8 99.3,251.3 99.4,248.4 99.4,248.4 99.5,251.6 99.6,250.2 99.6,247.4 99.7,250.7 99.8,245.8 99.8,251.9 99.9,251.7 100,252.4 100,245.9 100.1,249.8 100.2,252.6 100.2,249.2 100.3,247.8 100.4,250.9 100.4,245 100.5,247.9 100.6,249 100.6,247.1 100.7,248.3 100.8,250.2 100.8,250.1 100.9,248.2 101,245.7 101,245 101.1,246.3 101.2,247.1 101.2,246.6 101.3,254.2 101.4,247.7 101.4,247.8 101.5,249.3 101.6,245.1 101.6,246.5 101.7,249 101.8,246.2 101.8,249.9 101.9,246.3 102,248.1 102,250.7 102.1,249.9 102.2,247.9 102.2,247.9 102.3,249.1 102.4,246.6 102.4,245.2 102.5,249.6 102.6,249.9 102.6,248.1 102.7,247 102.8,245.1 102.8,246.1 102.9,246.6 103,247.7 103,248.9 103.1,247.1 103.2,247.8 103.2,244.1 103.3,247.1 103.4,249.2 103.4,245.1 103.5,242.5 103.6,247.9 103.6,249.6 103.7,248 103.8,245.5 103.8,247.9 103.9,242.4 104,247.2 104,245.7 104.1,249.9 104.2,245.6 104.2,252.2 104.3,253.2 104.4,252.5 104.4,250.7 104.5,247.3 104.6,248.3 104.6,251.1 104.7,249.9 104.8,247.8 104.8,248.5 104.9,247.2 105,249.7 105,248.6 105.1,251.3 105.2,249.9 105.2,247.5 105.3,251 105.4,243.1 105.4,244.7 105.5,246.3 105.6,248.5 105.6,251.3 105.7,249 105.8,248 105.8,247.3 105.9,243.7 106,246.2 106,249.8 106.1,248.3 106.2,246.4 106.2,247.7 106.3,246.5 106.4,243.7 106.4,247.3 106.5,246.4 106.5,244.9 106.6,246.9 106.7,246.4 106.7,247.2 106.8,246.6 106.9,246.7 106.9,245.6 107,244.3 107.1,245.6 107.1,245.7 107.2,247.8 107.3,245.9 107.3,244.4 107.4,247.8 107.5,246.4 107.5,248.6 107.6,251.8 107.7,249.4 107.7,245.6 107.8,246.8 107.9,250.2 107.9,246.1 108,248.8 108.1,250.6 108.1,249.3 108.2,248.7 108.3,250.4 108.3,247 108.4,249.3 108.5,251.3 108.5,248.7 108.6,249.4 108.7,252.4 108.7,251.3 108.8,249.3 108.9,248.7 108.9,249.5 109,249.4 109.1,246.3 109.1,247.3 109.2,251.3 109.3,247.1 109.3,252.6 109.4,250.6 109.5,249.2 109.5,248.3 109.6,249.7 109.7,251.1 109.7,250.4 109.8,252.1 109.9,250.3 109.9,247.8 110,250.2 110.1,250.5 110.1,248.7 110.2,246.9 110.3,247.1 110.3,249.9 110.4,246.8 110.5,252.4 110.5,250.2 110.6,244.9 110.7,246.4 110.7,248.8 110.8,246.1 110.9,248.3 110.9,250.6 111,250.1 111.1,246.5 111.1,250.4 111.2,250.9 111.3,247.3 111.3,250.2 111.4,247.6 111.5,246.2 111.5,251.6 111.6,251.7 111.7,247.4 111.7,243.8 111.8,251.5 111.9,248.2 111.9,250.2 112,246.7 112.1,250.6 112.1,251.8 112.2,249.8 112.3,251.1 112.3,250 112.4,251.4 112.5,248.2 112.5,248.2 112.6,245.2 112.7,248.4 112.7,248.7 112.8,246.9 112.9,251.6 112.9,248.9 113,255.8 113.1,250.8 113.1,247.8 113.2,249.5 113.3,251.1 113.3,251.8 113.4,252.8 113.5,248.7 113.5,251.8 113.6,249.6 113.7,251.8 113.7,249.6 113.8,249.8 113.9,250.7 113.9,248.6 114,250.1 114.1,251 114.1,246.4 114.2,249.2 114.3,249.4 114.3,252.6 114.4,250.8 114.5,250.5 114.5,249 114.6,251.5 114.7,249.9 114.7,252.5 114.8,249.9 114.9,250.4 114.9,251.7 115,251.3 115.1,247 115.1,250.5 115.2,249.9 115.3,246 115.3,247.2 115.4,251.7 115.5,250.3 115.5,248.5 115.6,251.4 115.7,245.6 115.7,252.1 115.8,248.1 115.9,252.4 115.9,248.5 116,248.3 116.1,250 116.1,249 116.2,251.8 116.3,251.6 116.3,249.4 116.4,249.9 116.5,250.5 116.5,254.4 116.6,250.9 116.7,253.4 116.7,251.3 116.8,249.8 116.8,248.3 116.9,252.2 117,253 117,252.5 117.1,254.9 117.2,253.7 117.2,256.1 117.3,253.6 117.4,250.4 117.4,254.6 117.5,250.2 117.6,252.2 117.6,249.9 117.7,254.6 117.8,255.7 117.8,250.1 117.9,250.8 118,251.2 118,248.7 118.1,252.4 118.2,252.1 118.2,249.7 118.3,247.8 118.4,249.4 118.4,253.1 118.5,249.2 118.6,252.4 118.6,252.9 118.7,253.8 118.8,252.1 118.8,252.8 118.9,255.4 119,251 119,252.3 119.1,254.9 119.2,249.6 119.2,253.3 119.3,246.3 119.4,248.3 119.4,248.2 119.5,251.1 119.6,251.4 119.6,246.5 119.7,255.1 119.8,255.6 119.8,253.6 119.9,250.5 120,251.9 120,249.4 120.1,249.7 120.2,249.2 120.2,251.3 120.3,249.6 120.4,249.7 120.4,254.4 120.5,249.9 120.6,251.9 120.6,251.4 120.7,249.6 120.8,249.6 120.8,252.9 120.9,249.3 121,251.9 121,249.6 121.1,249.8 121.2,253.7 121.2,246.8 121.3,249 121.4,249.1 121.4,251.2 121.5,248.9 121.6,250.5 121.6,251.7 121.7,254.3 121.8,252.2 121.8,247.2 121.9,253.7 122,249.9 122,247.9 122.1,250.4 122.2,247.8 122.2,249.1 122.3,248.1 122.4,248.9 122.4,244.7 122.5,252.7 122.6,250.1 122.6,251.8 122.7,250.8 122.8,249.8 122.8,252.9 122.9,252.9 123,249.5 123,252.1 123.1,249.8 123.2,249.6 123.2,251.7 123.3,251.1 123.4,250.9 123.4,247 123.5,249.7 123.6,251.8 123.6,253.2 123.7,253 123.8,250.5 123.8,252.6 123.9,248.9 124,252.3 124,255.2 124.1,250.8 124.2,248.9 124.2,253.2 124.3,250.6 124.4,250.8 124.4,251.8 124.5,250 124.6,252.2 124.6,249.2 124.7,249.2 124.8,251.4 124.8,251.8 124.9,251.4 125,252.4 125,250.9 125.1,249.7 125.2,252.1 125.2,247.9 125.3,250.5 125.4,253.2 125.4,252.4 125.5,253.6 125.6,250.6 125.6,250.6 125.7,250 125.8,249.8 125.8,251.2 125.9,252.7 126,250.5 126,253.6 126.1,251.1 126.2,245.6 126.2,251.1 126.3,248.5 126.4,249.5 126.4,247.5 126.5,247.8 126.6,253.2 126.6,251 126.7,248.1 126.8,247.2 126.8,248.1 126.9,247.7 126.9,250.4 127,251.7 127.1,246.2 127.1,250.6 127.2,249.6 127.3,249.4 127.3,251.8 127.4,248.8 127.5,248.7 127.5,250.3 127.6,249.2 127.7,249.7 127.7,252.7 127.8,248.3 127.9,253.8 127.9,254.3 128,250.9 128.1,253.3 128.1,249.8 128.2,251.6 128.3,254 128.3,250.8 128.4,254.8 128.5,253.7 128.5,255 128.6,249.8 128.7,252.8 128.7,252.1 128.8,249.7 128.9,255.2 128.9,253 129,253.4 129.1,255.6 129.1,251.3 129.2,255.6 129.3,248.2 129.3,254.8 129.4,253.4 129.5,249.2 129.5,248.9 129.6,256.7 129.7,250 129.7,253.6 129.8,251.9 129.9,251.2 129.9,250.5 130,248.1 130.1,248.1 130.1,248.8 130.2,252.4 130.3,246.4 130.3,248.2 130.4,251.3 130.5,250.1 130.5,249.2 130.6,248.3 130.7,246.7 130.7,248.8 130.8,248 130.9,249.4 130.9,248.6 131,247.5 131.1,253.7 131.1,246.6 131.2,252.8 131.3,250.3 131.3,250.2 131.4,249 131.5,249.8 131.5,251 131.6,247.7 131.7,254.3 131.7,252.6 131.8,252.3 131.9,252.2 131.9,254.4 132,252 132.1,253.4 132.1,250.3 132.2,255.1 132.3,249.7 132.3,248.6 132.4,249.1 132.5,252.2 132.5,253.3 132.6,250.6 132.7,254.1 132.7,247.3 132.8,247.8 132.9,248.2 132.9,250 133,247.3 133.1,249.2 133.1,246.8 133.2,249.7 133.3,247.6 133.3,255.9 133.4,251.2 133.5,248.6 133.5,251.5 133.6,249.8 133.7,248.7 133.7,251.1 133.8,244.5 133.9,253.4 133.9,253 134,248.1 134.1,250.3 134.1,246.5 134.2,251.8 134.3,251.3 134.3,251.1 134.4,249.6 134.5,250.6 134.5,249.3 134.6,250.1 134.7,249 134.7,248.8 134.8,248.5 134.9,244.3 134.9,247.7 135,251 135.1,251.8 135.1,247.2 135.2,248.3 135.3,250.5 135.3,244.1 135.4,248.1 135.5,243.5 135.5,247.8 135.6,246.4 135.7,246.7 135.7,246.4 135.8,251.3 135.9,241.7 135.9,244.4 136,248.1 136.1,248.3 136.1,246.4 136.2,248.9 136.3,248.3 136.3,248.7 136.4,251.2 136.5,247 136.5,249.4 136.6,251.1 136.7,248.1 136.7,252 136.8,247.6 136.9,246 136.9,247.4 137,250 137,252.1 137.1,249.1 137.2,249.9 137.2,250.1 137.3,251.5 137.4,248 137.4,249.8 137.5,247.9 137.6,250.8 137.6,251.6 137.7,244.9 137.8,250.1 137.8,249.2 137.9,251 138,247.7 138,249.4 138.1,246.7 138.2,251 138.2,254.2 138.3,249.9 138.4,252.8 138.4,252.9 138.5,249.2 138.6,250 138.6,250.4 138.7,252.5 138.8,248.9 138.8,252.1 138.9,249 139,252.5 139,251.4 139.1,248.1 139.2,251.3 139.2,253.5 139.3,252.4 139.4,253.6 139.4,258.2 139.5,251 139.6,252.6 139.6,252.7 139.7,254.5 139.8,253.6 139.8,254.3 139.9,253 140,253 140,258.6 140.1,259.7 140.2,253.8 140.2,254.2 140.3,250.2 140.4,252.6 140.4,254.8 140.5,253.8 140.6,252.2 140.6,256.3 140.7,258.6 140.8,251.7 140.8,249.7 140.9,253.1 141,253.5 141,249.8 141.1,251.4 141.2,253.8 141.2,252.3 141.3,249.8 141.4,253.6 141.4,249.9 141.5,254.9 141.6,251.6 141.6,247.6 141.7,249.8 141.8,253.3 141.8,255.5 141.9,252.3 142,250.8 142,256.3 142.1,248.5 142.2,253.5 142.2,247.9 142.3,247.5 142.4,248.9 142.4,252.9 142.5,251.6 142.6,250.6 142.6,251.8 142.7,249.3 142.8,254 142.8,250.8 142.9,251.6 143,247.6 143,250.1 143.1,247.6 143.2,251.6 143.2,246.6 143.3,251.6 143.4,252.2 143.4,251.2 143.5,252.8 143.6,253.4 143.6,249.5 143.7,249.2 143.8,249.2 143.8,250.2 143.9,249.7 144,249.5 144,253.6 144.1,250 144.2,248.8 144.2,252.8 144.3,247 144.4,249.2 144.4,250.5 144.5,250.6 144.6,246.5 144.6,246.2 144.7,246.7 144.8,247.7 144.8,252.1 144.9,249.6 145,250.6 145,248.2 145.1,249.1 145.2,251.8 145.2,249.9 145.3,250.1 145.4,252.9 145.4,249.6 145.5,249.7 145.6,250 145.6,249.6 145.7,252.6 145.8,247.7 145.8,251.7 145.9,246.7 146,247 146,250.5 146.1,251 146.2,250 146.2,245.8 146.3,252.6 146.4,252.3 146.4,248.1 146.5,252.7 146.6,248.5 146.6,249.9 146.7,248.1 146.8,247.5 146.8,246.4 146.9,249.1 147,251 147,248.9 147.1,250.6 147.2,251.4 147.2,252.7 147.3,251.6 147.3,249.5 147.4,249.8 147.5,248.8 147.5,247.1 147.6,241.2 147.7,252.3 147.7,246.6 147.8,249.5 147.9,251.2 147.9,248.4 148,246.7 148.1,248.5 148.1,250.9 148.2,245.6 148.3,245.7 148.3,246.5 148.4,249.2 148.5,249.4 148.5,246.5 148.6,248.1 148.7,249.9 148.7,245.7 148.8,248.2 148.9,249.6 148.9,250.3 149,250.5 149.1,246.3 149.1,249.4 149.2,248.4 149.3,250.2 149.3,250.7 149.4,249.8 149.5,250.5 149.5,254.6 149.6,253.9 149.7,251.9 149.7,250 149.8,254.1 149.9,248.3 149.9,245.9 150,249.2 150.1,247.6 150.1,244.6 150.2,247.2 150.3,248.6 150.3,248.6 150.4,250.3 150.5,250.8 150.5,250.8 150.6,247.2 150.7,251.3 150.7,253.3 150.8,249.4 150.9,249.6 150.9,251.2 151,251.6 151.1,250.1 151.1,251.4 151.2,248.7 151.3,247 151.3,249.6 151.4,250.1 151.5,250.8 151.5,250 151.6,249.1 151.7,251.6 151.7,252 151.8,250.4 151.9,250 151.9,250.9 152,249.5 152.1,251.7 152.1,249.5 152.2,246.4 152.3,254.4 152.3,251.3 152.4,252.4 152.5,250 152.5,253.8 152.6,250.4 152.7,250.5 152.7,249.9 152.8,248.3 152.9,251.3 152.9,250.2 153,254.2 153.1,248.4 153.1,249.4 153.2,250.1 153.3,246.2 153.3,248.6 153.4,246.5 153.5,249.5 153.5,251.4 153.6,251.7 153.7,253.8 153.7,252.3 153.8,254.1 153.9,253.2 153.9,247.5 154,252.7 154.1,249.3 154.1,254 154.2,255.4 154.3,255.8 154.3,253.8 154.4,253.2 154.5,250.4 154.5,254.9 154.6,253.9 154.7,253 154.7,250.9 154.8,250.8 154.9,252.7 154.9,255.5 155,253.6 155.1,251.7 155.1,255 155.2,255.5 155.3,253.6 155.3,252.5 155.4,253.4 155.5,252.5 155.5,253.9 155.6,250.3 155.7,255.2 155.7,252.7 155.8,257.4 155.9,245.8 155.9,250.8 156,249.5 156.1,252.8 156.1,253.5 156.2,251.5 156.3,253.1 156.3,253.1 156.4,251.1 156.5,252.7 156.5,250.2 156.6,251.7 156.7,251.4 156.7,251.1 156.8,250.3 156.9,253.2 156.9,252.4 157,256.2 157.1,247.9 157.1,252.1 157.2,252.4 157.3,253.3 157.3,252.6 157.4,256.9 157.4,250.3 157.5,248.3 157.6,252.7 157.6,249.7 157.7,255.4 157.8,250.7 157.8,255.6 157.9,249.1 158,254.8 158,252.1 158.1,251.6 158.2,251.5 158.2,249.2 158.3,251.4 158.4,253.9 158.4,250.6 158.5,248.8 158.6,250.2 158.6,250.9 158.7,251 158.8,248.4 158.8,251.8 158.9,254 159,251.3 159,254.9 159.1,252.7 159.2,251.4 159.2,250.6 159.3,250.5 159.4,251.9 159.4,253.4 159.5,251.9 159.6,253.9 159.6,258.5 159.7,250.9 159.8,255.5 159.8,255.4 159.9,255.7 160,255.3 160,254.6 160.1,253.6 160.2,253.5 160.2,251.6 160.3,251.6 160.4,252.8 160.4,252.4 160.5,252.2 160.6,249.9 160.6,248.6 160.7,255.2 160.8,251.6 160.8,252.1 160.9,250.7 161,251.6 161,252 161.1,252.7 161.2,249.7 161.2,250.8 161.3,251.4 161.4,246.4 161.4,249.6 161.5,250.2 161.6,247.5 161.6,248 161.7,251.6 161.8,250.1 161.8,249.1 161.9,248 162,249.5 162,256.3 162.1,249.5 162.2,247.2 162.2,247.8 162.3,251.8 162.4,250.8 162.4,247.9 162.5,252.9 162.6,256.7 162.6,248.6 162.7,248.9 162.8,251.3 162.8,250.4 162.9,251.6 163,252.9 163,249.4 163.1,251.2 163.2,247.9 163.2,252 163.3,252.9 163.4,244.9 163.4,248.2 163.5,251.5 163.6,247.4 163.6,251 163.7,252.2 163.8,251.3 163.8,252.7 163.9,251.1 164,253.7 164,250.9 164.1,250.6 164.2,249.7 164.2,248 164.3,251.6 164.4,252 164.4,251.6 164.5,250.1 164.6,251.3 164.6,254.3 164.7,252.7 164.8,254.9 164.8,252.6 164.9,251.3 165,256.8 165,250.1 165.1,248.5 165.2,250.5 165.2,252.3 165.3,253.2 165.4,251.9 165.4,250 165.5,253.9 165.6,251.7 165.6,251.1 165.7,249.5 165.8,253.9 165.8,252.9 165.9,248.4 166,252.6 166,250.5 166.1,249.3 166.2,252.2 166.2,248.4 166.3,249.9 166.4,252.3 166.4,250 166.5,246.6 166.6,248.1 166.6,249.9 166.7,247.8 166.8,249.2 166.8,250.5 166.9,247.7 167,246.4 167,249.7 167.1,252.5 167.2,248.7 167.2,249.9 167.3,250.3 167.4,250 167.4,246.8 167.5,250.6 167.5,250.9 167.6,248.3 167.7,251.1 167.7,248.8 167.8,248.4 167.9,249.1 167.9,253.3 168,253 168.1,251.6 168.1,254.9 168.2,249.8 168.3,253.2 168.3,250.3 168.4,246.8 168.5,252.7 168.5,251.4 168.6,247.5 168.7,249.5 168.7,251 168.8,249.4 168.9,251.1 168.9,245.9 169,253.5 169.1,248.5 169.1,247 169.2,247.4 169.3,247 169.3,244.9 169.4,245.9 169.5,248.7 169.5,250.1 169.6,246 169.7,249.4 169.7,247.8 169.8,253.5 169.9,250.4 169.9,250.8 170,250.1 170.1,250.6 170.1,249.3 170.2,248.3 170.3,253.6 170.3,253.2 170.4,252.7 170.5,248.4 170.5,250.6 170.6,252.1 170.7,250.9 170.7,246.9 170.8,250.5 170.9,247.8 170.9,248.2 171,251.6 171.1,243.7 171.1,252.6 171.2,247.9 171.3,249 171.3,249.6 171.4,249.2 171.5,249.5 171.5,248.4 171.6,250.4 171.7,247.9 171.7,250.2 171.8,250.5 171.9,244.1 171.9,253.4 172,250.8 172.1,250.2 172.1,256.1 172.2,257.7 172.3,253.3 172.3,251.7 172.4,255.6 172.5,253.3 172.5,252.5 172.6,252.6 172.7,255 172.7,253.7 172.8,251.8 172.9,248.4 172.9,254.3 173,252.8 173.1,254.2 173.1,252.7 173.2,254 173.3,252.8 173.3,251.3 173.4,250.7 173.5,246.2 173.5,247.3 173.6,254.7 173.7,248.3 173.7,248.5 173.8,254.2 173.9,250.4 173.9,245.5 174,244.3 174.1,246.1 174.1,248.8 174.2,251.3 174.3,250.5 174.3,248.5 174.4,251.5 174.5,246.9 174.5,249.2 174.6,252.4 174.7,256 174.7,248.9 174.8,248.3 174.9,251.2 174.9,251.4 175,252.7 175.1,252.5 175.1,254.8 175.2,255.5 175.3,252.9 175.3,247.3 175.4,250.9 175.5,251.8 175.5,250.8 175.6,253.6 175.7,252.4 175.7,251.3 175.8,250.5 175.9,252.3 175.9,248.6 176,247.5 176.1,249 176.1,247.7 176.2,248.8 176.3,244.8 176.3,249.8 176.4,248.5 176.5,251.6 176.5,252.2 176.6,251.4 176.7,246.8 176.7,250.6 176.8,251.5 176.9,247.9 176.9,251.3 177,248.5 177.1,247 177.1,251.1 177.2,249.2 177.3,254.8 177.3,250.8 177.4,249.4 177.5,250.8 177.5,244.8 177.6,250.3 177.6,248.6 177.7,248.9 177.8,253.7 177.8,248.6 177.9,253.6 178,248.2 178,252 178.1,249.5 178.2,252.2 178.2,249.3 178.3,249 178.4,247.7 178.4,249.2 178.5,250 178.6,250.7 178.6,248.5 178.7,248.9 178.8,248.8 178.8,245 178.9,249.9 179,247.1 179,249.9 179.1,248.9 179.2,249.2 179.2,250.2 179.3,247.8 179.4,250.5 179.4,254 179.5,254 179.6,254.4 179.6,253.2 179.7,251.7 179.8,254.8 179.8,250.6 179.9,252.6 180,251.9 180,251.1 180.1,248.9 180.2,251.3 180.2,254.5 180.3,251.3 180.4,249.9 180.4,251.1 180.5,249.9 180.6,250.5 180.6,249 180.7,252.3 180.8,250 180.8,250.4 180.9,250.7 181,247.5 181,254 181.1,254.5 181.2,249.5 181.2,256.2 181.3,250.9 181.4,249.8 181.4,251.3 181.5,252.9 181.6,249.4 181.6,251.2 181.7,247.6 181.8,251.7 181.8,248.6 181.9,246.6 182,249.6 182,246.9 182.1,251.3 182.2,252.5 182.2,246.7 182.3,247.8 182.4,246.2 182.4,246 182.5,246.4 182.6,247.9 182.6,244.9 182.7,249.5 182.8,252.4 182.8,245.5 182.9,247.6 183,246.3 183,242 183.1,243.4 183.2,251.3 183.2,247.6 183.3,251.4 183.4,248.4 183.4,250.3 183.5,251.1 183.6,247.9 183.6,252.1 183.7,252.1 183.8,248.9 183.8,249.6 183.9,247.1 184,253 184,247.5 184.1,249.5 184.2,248.1 184.2,248.1 184.3,250.9 184.4,249.2 184.4,251.2 184.5,248.7 184.6,251.2 184.6,246.5 184.7,247.2 184.8,241.4 184.8,251.3 184.9,251 185,246 185,246.8 185.1,248.7 185.2,246.7 185.2,248.3 185.3,252.5 185.4,249.4 185.4,249.6 185.5,248.6 185.6,246.3 185.6,246.1 185.7,248 185.8,249.8 185.8,252.6 185.9,248.9 186,251.5 186,255 186.1,255 186.2,253.3 186.2,253.3 186.3,246.2 186.4,250.3 186.4,251.7 186.5,251 186.6,252.3 186.6,252.5 186.7,251.2 186.8,247.5 186.8,248.4 186.9,247.2 187,251.3 187,249.5 187.1,251.4 187.2,248.9 187.2,246.3 187.3,248.3 187.4,246.6 187.4,245.8 187.5,245.6 187.6,251.2 187.6,248.8 187.7,247.3 187.8,248.5 187.8,249.8 187.9,249.6 187.9,249.2 188,248.7 188.1,251.5 188.1,249 188.2,253.6 188.3,247.8 188.3,243.7 188.4,247.8 188.5,250.8 188.5,250.3 188.6,251.1 188.7,251.4 188.7,253.5 188.8,248.9 188.9,252.6 188.9,250.8 189,250.1 189.1,254.1 189.1,254 189.2,247.7 189.3,253.5 189.3,253 189.4,248.5 189.5,249.7 189.5,250.7 189.6,250.8 189.7,253.1 189.7,253.3 189.8,248.7 189.9,244.6 189.9,248.3 190,250.6 190.1,250.2 190.1,252.2 190.2,251.9 190.3,251.4 190.3,246.5 190.4,251.7 190.5,246.7 190.5,252.1 190.6,250.8 190.7,249.9 190.7,250.4 190.8,250.2 190.9,248.6 190.9,246.1 191,250.9 191.1,250.3 191.1,250.3 191.2,247.8 191.3,250.9 191.3,247.5 191.4,245.8 191.5,250.8 191.5,247.8 191.6,246.9 191.7,247.2 191.7,251.4 191.8,248.8 191.9,247.1 191.9,245.8 192,246 192.1,247.6 192.1,244.8 192.2,247.2 192.3,247.3 192.3,245.5 192.4,247.2 192.5,246.1 192.5,248.3 192.6,251.6 192.7,252.1 192.7,246.1 192.8,248.2 192.9,249.7 192.9,247.9 193,245.5 193.1,247.2 193.1,246.7 193.2,246.5 193.3,249.2 193.3,248.8 193.4,245.1 193.5,252.4 193.5,248.5 193.6,252.6 193.7,248.4 193.7,249.6 193.8,248.4 193.9,248.6 193.9,246.9 194,246.2 194.1,246.7 194.1,250.3 194.2,250.4 194.3,250.4 194.3,245.8 194.4,244.2 194.5,249.3 194.5,246.4 194.6,247.9 194.7,248.4 194.7,249.2 194.8,244.7 194.9,246 194.9,250.7 195,250.7 195.1,247.8 195.1,249.8 195.2,252.1 195.3,250.5 195.3,249.8 195.4,246.9 195.5,248.1 195.5,251.5 195.6,250.6 195.7,251.3 195.7,248.2 195.8,245.2 195.9,248.9 195.9,249.2 196,249.4 196.1,253 196.1,252.7 196.2,250.5 196.3,249.9 196.3,250.3 196.4,249.2 196.5,251.7 196.5,245.9 196.6,250.9 196.7,249.8 196.7,248.4 196.8,245.7 196.9,249.6 196.9,246.6 197,246.4 197.1,248.7 197.1,248.6 197.2,249.1 197.3,247.6 197.3,249.2 197.4,253.1 197.5,249.6 197.5,247.9 197.6,248.2 197.7,248.9 197.7,253.4 197.8,251.5 197.9,253.5 197.9,251.4 198,254.1 198,246.8 198.1,247.2 198.2,250.9 198.2,251.5 198.3,247.9 198.4,249.2 198.4,248.8 198.5,251 198.6,247.8 198.6,247.2 198.7,248.1 198.8,247.6 198.8,249.6 198.9,249.3 199,251.3 199,248.4 199.1,249 199.2,248.2 199.2,254.6 199.3,248.7 199.4,251.8 199.4,251.8 199.5,248.6 199.6,252.5 199.6,251.9 199.7,249.4 199.8,247.8 199.8,250.3 199.9,250.2 200,249.1 200,249.6 200.1,252.7 200.2,250.2 200.2,249.7 200.3,252.5 200.4,255.2 200.4,250.3 200.5,250.2 200.6,255.6 200.6,248.4 200.7,252.2 200.8,255.5 200.8,252.4 200.9,251.3 201,252.4 201,253.6 201.1,250.6 201.2,251.8 201.2,250.7 201.3,252.5 201.4,252.1 201.4,250 201.5,251.2 201.6,251.8 201.6,254 201.7,251.5 201.8,250 201.8,252 201.9,256.2 202,254.8 202,255.2 202.1,249.6 202.2,256.8 202.2,253.9 202.3,253.6 202.4,253.3 202.4,254.3 202.5,249.1 202.6,255.3 202.6,250.3 202.7,256.8 202.8,253.8 202.8,251.7 202.9,250.8 203,252.2 203,255.9 203.1,252.5 203.2,252.5 203.2,250.5 203.3,255.3 203.4,251.3 203.4,250.4 203.5,252.5 203.6,250.4 203.6,251.1 203.7,248 203.8,248.1 203.8,252.6 203.9,249.8 204,252.6 204,252.4 204.1,252.9 204.2,252.8 204.2,253.6 204.3,250.9 204.4,250.3 204.4,253.2 204.5,248.6 204.6,248.9 204.6,248.1 204.7,249 204.8,253.3 204.8,253.6 204.9,249.8 205,247.7 205,249.3 205.1,249.9 205.2,256 205.2,251.1 205.3,253.9 205.4,253.8 205.4,249.3 205.5,255.1 205.6,255.5 205.6,254.1 205.7,253 205.8,255.9 205.8,254.7 205.9,253.9 206,254.5 206,256.7 206.1,251.5 206.2,253 206.2,252.3 206.3,253.9 206.4,253.6 206.4,252.3 206.5,253.5 206.6,252.7 206.6,255.5 206.7,255 206.8,252.4 206.8,252.6 206.9,246.1 207,250.4 207,253 207.1,254 207.2,247.8 207.2,249.7 207.3,254 207.4,254.6 207.4,249.5 207.5,249 207.6,248.4 207.6,253.6 207.7,251.6 207.8,251 207.8,249.5 207.9,252.9 208,250.5 208,254.4 208.1,251.2 208.1,253.5 208.2,252.9 208.3,252.1 208.3,251.3 208.4,255.6 208.5,254.6 208.5,248.6 208.6,255.3 208.7,249 208.7,252.7 208.8,252.9 208.9,251.3 208.9,249 209,249 209.1,252.7 209.1,249.2 209.2,250.8 209.3,251.2 209.3,249.4 209.4,248.6 209.5,248.2 209.5,250 209.6,253.1 209.7,250.6 209.7,250.3 209.8,254.5 209.9,253.7 209.9,252.6 210,251.6 210.1,251.8 210.1,252.7 210.2,251.2 210.3,252.6 210.3,251.1 210.4,252.8 210.5,250 210.5,248.7 210.6,254.2 210.7,253.9 210.7,249.7 210.8,251.5 210.9,254 210.9,251.5 211,252.2 211.1,254.9 211.1,253.3 211.2,252.4 211.3,254.8 211.3,248.6 211.4,250.8 211.5,258.3 211.5,253.5 211.6,255.2 211.7,250 211.7,255.9 211.8,249.1 211.9,253 211.9,252.5 212,250 212.1,253.1 212.1,245.5 212.2,253.6 212.3,251.8 212.3,250.5 212.4,248.7 212.5,248.9 212.5,249.1 212.6,249.2 212.7,251.2 212.7,248 212.8,249.4 212.9,247 212.9,254.8 213,251.4 213.1,244.6 213.1,251.3 213.2,255.4" fill="none" stroke="#1f64d9" stroke-width="0.8" stroke-linejoin="round" />
<line x1="38.5" y1="274.75" x2="40.5" y2="274.75" stroke="#555" stroke-width="0.8"/>
<line x1="37.5" y1="261.1" x2="40.5" y2="261.1" stroke="#555" stroke-width="0.8"/>
<line x1="38.5" y1="247.45000000000002" x2="40.5" y2="247.45000000000002" stroke="#555" stroke-width="0.8"/>
<line x1="37.5" y1="233.8" x2="40.5" y2="233.8" stroke="#555" stroke-width="0.8"/>
<line x1="38.5" y1="220.15000000000003" x2="40.5" y2="220.15000000000003" stroke="#555" stroke-width="0.8"/>
<line x1="37.5" y1="206.50000000000003" x2="40.5" y2="206.50000000000003" stroke="#555" stroke-width="0.8"/>
<line x1="38.5" y1="345.55" x2="40.5" y2="345.55" stroke="#555" stroke-width="0.8"/>
<line x1="37.5" y1="328.5" x2="40.5" y2="328.5" stroke="#555" stroke-width="0.8"/>
<line x1="38.5" y1="311.45" x2="40.5" y2="311.45" stroke="#555" stroke-width="0.8"/>
<line x1="37.5" y1="294.4" x2="40.5" y2="294.4" stroke="#555" stroke-width="0.8"/>
<line x1="38.5" y1="277.35" x2="40.5" y2="277.35" stroke="#555" stroke-width="0.8"/>
<text x="36.1" y="263.20000000000005" font-size="5.9" text-anchor="end" fill="#2a2a2a" font-weight="normal" stroke="#2a2a2a" stroke-width="0.12" >240</text>
<text x="36.1" y="235.9" font-size="5.9" text-anchor="end" fill="#2a2a2a" font-weight="normal" stroke="#2a2a2a" stroke-width="0.12" >260</text>
<text x="36.1" y="208.60000000000002" font-size="5.9" text-anchor="end" fill="#2a2a2a" font-weight="normal" stroke="#2a2a2a" stroke-width="0.12" >280</text>
<text x="36.1" y="330.6" font-size="5.9" text-anchor="end" fill="#2a2a2a" font-weight="normal" stroke="#2a2a2a" stroke-width="0.12" >80</text>
<text x="36.1" y="296.5" font-size="5.9" text-anchor="end" fill="#2a2a2a" font-weight="normal" stroke="#2a2a2a" stroke-width="0.12" >100</text>
<line x1="213.2" y1="220.15000000000003" x2="215.7" y2="220.15000000000003" stroke="#555" stroke-width="0.8"/>
<line x1="213.2" y1="247.45000000000002" x2="215.7" y2="247.45000000000002" stroke="#555" stroke-width="0.8"/>
<line x1="213.2" y1="277.35" x2="215.7" y2="277.35" stroke="#555" stroke-width="0.8"/>
<line x1="213.2" y1="311.45" x2="215.7" y2="311.45" stroke="#555" stroke-width="0.8"/>
<line x1="213.2" y1="345.55" x2="215.7" y2="345.55" stroke="#555" stroke-width="0.8"/>
<line x1="40.5" y1="345.5" x2="40.5" y2="348.5" stroke="#555" stroke-width="0.8"/>
<line x1="57.769999999999996" y1="345.5" x2="57.769999999999996" y2="347.5" stroke="#555" stroke-width="0.8"/>
<line x1="75.03999999999999" y1="345.5" x2="75.03999999999999" y2="348.5" stroke="#555" stroke-width="0.8"/>
<line x1="92.31" y1="345.5" x2="92.31" y2="347.5" stroke="#555" stroke-width="0.8"/>
<line x1="109.58" y1="345.5" x2="109.58" y2="348.5" stroke="#555" stroke-width="0.8"/>
<line x1="126.85" y1="345.5" x2="126.85" y2="347.5" stroke="#555" stroke-width="0.8"/>
<line x1="144.12" y1="345.5" x2="144.12" y2="348.5" stroke="#555" stroke-width="0.8"/>
<line x1="161.39" y1="345.5" x2="161.39" y2="347.5" stroke="#555" stroke-width="0.8"/>
<line x1="178.66" y1="345.5" x2="178.66" y2="348.5" stroke="#555" stroke-width="0.8"/>
<line x1="195.92999999999998" y1="345.5" x2="195.92999999999998" y2="347.5" stroke="#555" stroke-width="0.8"/>
<line x1="213.2" y1="345.5" x2="213.2" y2="348.5" stroke="#555" stroke-width="0.8"/>
<text x="40.5" y="354.5" font-size="5.9" text-anchor="middle" fill="#2a2a2a" font-weight="normal" stroke="#2a2a2a" stroke-width="0.12" >0</text>
<text x="75.03999999999999" y="354.5" font-size="5.9" text-anchor="middle" fill="#2a2a2a" font-weight="normal" stroke="#2a2a2a" stroke-width="0.12" >20</text>
<text x="109.58" y="354.5" font-size="5.9" text-anchor="middle" fill="#2a2a2a" font-weight="normal" stroke="#2a2a2a" stroke-width="0.12" >40</text>
<text x="144.12" y="354.5" font-size="5.9" text-anchor="middle" fill="#2a2a2a" font-weight="normal" stroke="#2a2a2a" stroke-width="0.12" >60</text>
<text x="178.66" y="354.5" font-size="5.9" text-anchor="middle" fill="#2a2a2a" font-weight="normal" stroke="#2a2a2a" stroke-width="0.12" >80</text>
<text x="213.2" y="354.5" font-size="5.9" text-anchor="middle" fill="#2a2a2a" font-weight="normal" stroke="#2a2a2a" stroke-width="0.12" >100</text>
<text x="127" y="367.3" font-size="8.5" text-anchor="middle" fill="#111" font-weight="normal" stroke="#111" stroke-width="0.3" >Time (ns)</text>
<text x="0" y="0" font-size="8.5" text-anchor="middle" fill="#111" font-weight="normal" stroke="#111" stroke-width="0.3" transform="translate(21.3,281.3) rotate(-90)">SASA (nm<tspan font-size="5.2" dy="-3.6">2</tspan><tspan dy="3.6">)</tspan></text>
<line x1="156.4" y1="214" x2="169.20000000000002" y2="214" stroke="#3c3c3c" stroke-width="0.9"/>
<text x="170.7" y="216.1" font-size="5.8" text-anchor="start" fill="#3c3c3c" font-weight="bold" >CSF-BAM15</text>
<line x1="156.4" y1="222.9" x2="169.20000000000002" y2="222.9" stroke="#f24141" stroke-width="0.9"/>
<text x="170.7" y="225.0" font-size="5.8" text-anchor="start" fill="#f24141" font-weight="bold" >IL-1&#945;-BAM15</text>
<line x1="156.4" y1="231.7" x2="169.20000000000002" y2="231.7" stroke="#1f64d9" stroke-width="0.9"/>
<text x="170.7" y="233.79999999999998" font-size="5.8" text-anchor="start" fill="#1f64d9" font-weight="bold" >SRC-BAM15</text>
<text x="235.2" y="209" font-size="17" text-anchor="start" fill="#111" font-weight="normal" >E</text>
<line x1="266.2" y1="205.4" x2="441.3" y2="205.4" stroke="#999" stroke-width="1.3"/>
<line x1="441.3" y1="205.4" x2="441.3" y2="345.2" stroke="#888" stroke-width="1.3"/>
<line x1="266.7" y1="345.2" x2="441.3" y2="345.2" stroke="#888" stroke-width="1.3"/>
<line x1="266.7" y1="205.4" x2="266.7" y2="345.7" stroke="#888" stroke-width="1.6"/>
<line x1="441.3" y1="224.89999999999998" x2="443.8" y2="224.89999999999998" stroke="#555" stroke-width="0.8"/>
<line x1="441.3" y1="264.9" x2="443.8" y2="264.9" stroke="#555" stroke-width="0.8"/>
<line x1="441.3" y1="304.9" x2="443.8" y2="304.9" stroke="#555" stroke-width="0.8"/>
<line x1="441.3" y1="324.9" x2="443.8" y2="324.9" stroke="#555" stroke-width="0.8"/>
<rect x="267.5" y="285" width="173.8" height="20" fill="#1f64d9"/>
<rect x="267.5" y="285" width="2.3" height="20" fill="#f24141" opacity="1"/>
<rect x="271" y="285" width="1.2" height="20" fill="#f24141" opacity="1"/>
<rect x="274.1" y="285" width="1.6" height="20" fill="#f24141" opacity="1"/>
<rect x="276.9" y="285" width="1.2" height="20" fill="#f24141" opacity="0.9"/>
<rect x="279.7" y="285" width="1.2" height="20" fill="#f24141" opacity="1"/>
<rect x="281.7" y="285" width="1.2" height="20" fill="#f24141" opacity="1"/>
<rect x="284.1" y="285" width="6.3" height="20" fill="#f24141" opacity="1"/>
<rect x="290.4" y="285" width="1.2" height="20" fill="#f24141" opacity="0.5"/>
<rect x="291.6" y="285" width="3.6" height="20" fill="#f24141" opacity="1"/>
<rect x="295.2" y="285" width="1.6" height="20" fill="#f24141" opacity="0.4"/>
<rect x="296.8" y="285" width="5.6" height="20" fill="#f24141" opacity="1"/>
<rect x="302.4" y="285" width="1.6" height="20" fill="#f24141" opacity="0.5"/>
<rect x="304" y="285" width="0.7" height="20" fill="#f24141" opacity="1"/>
<rect x="305.9" y="285" width="17.6" height="20" fill="#f24141" opacity="1"/>
<rect x="325.1" y="285" width="0.8" height="20" fill="#f24141" opacity="1"/>
<rect x="326.7" y="285" width="2.0" height="20" fill="#f24141" opacity="0.6"/>
<rect x="333.8" y="285" width="1.2" height="20" fill="#f24141" opacity="1"/>
<rect x="336.2" y="285" width="0.8" height="20" fill="#f24141" opacity="1"/>
<rect x="339" y="285" width="2.0" height="20" fill="#f24141" opacity="0.7"/>
<rect x="343.4" y="285" width="10.7" height="20" fill="#f24141" opacity="1"/>
<rect x="354.1" y="285" width="0.9" height="20" fill="#f24141" opacity="0.5"/>
<rect x="358.2" y="285" width="4.0" height="20" fill="#f24141" opacity="1"/>
<rect x="363" y="285" width="0.7" height="20" fill="#f24141" opacity="0.7"/>
<rect x="364.9" y="285" width="1.2" height="20" fill="#f24141" opacity="1"/>
<rect x="366.1" y="285" width="2.4" height="20" fill="#f24141" opacity="0.35"/>
<rect x="368.9" y="285" width="1.2" height="20" fill="#f24141" opacity="1"/>
<rect x="373.7" y="285" width="1.2" height="20" fill="#f24141" opacity="1"/>
<rect x="376.9" y="285" width="2.3" height="20" fill="#f24141" opacity="1"/>
<rect x="379.2" y="285" width="2.8" height="20" fill="#f24141" opacity="0.3"/>
<rect x="382" y="285" width="2.8" height="20" fill="#f24141" opacity="1"/>
<rect x="384.8" y="285" width="1.2" height="20" fill="#f24141" opacity="0.5"/>
<rect x="386" y="285" width="2.8" height="20" fill="#f24141" opacity="0.8"/>
<rect x="388.8" y="285" width="2.7" height="20" fill="#f24141" opacity="0.3"/>
<rect x="396" y="285" width="0.7" height="20" fill="#f24141" opacity="1"/>
<rect x="396.7" y="285" width="3.3" height="20" fill="#f24141" opacity="0.3"/>
<rect x="400" y="285" width="1.2" height="20" fill="#f24141" opacity="0.5"/>
<rect x="402.8" y="285" width="1.2" height="20" fill="#f24141" opacity="1"/>
<rect x="409.1" y="285" width="0.8" height="20" fill="#f24141" opacity="0.6"/>
<rect x="410.7" y="285" width="2.0" height="20" fill="#f24141" opacity="0.8"/>
<rect x="415.9" y="285" width="2.0" height="20" fill="#f24141" opacity="1"/>
<rect x="419" y="285" width="1.7" height="20" fill="#f24141" opacity="1"/>
<rect x="420.7" y="285" width="5.9" height="20" fill="#f24141" opacity="0.35"/>
<rect x="426.6" y="285" width="4.0" height="20" fill="#f24141" opacity="1"/>
<rect x="431.8" y="285" width="0.8" height="20" fill="#f24141" opacity="1"/>
<rect x="433.8" y="285" width="1.2" height="20" fill="#f24141" opacity="1"/>
<rect x="435" y="285" width="1.6" height="20" fill="#f24141" opacity="0.5"/>
<rect x="436.6" y="285" width="2.7" height="20" fill="#f24141" opacity="0.3"/>
<rect x="439.3" y="285" width="1.6" height="20" fill="#f24141" opacity="1"/>
<rect x="269.8" y="305" width="171.5" height="20" fill="#1f64d9"/>
<rect x="267.5" y="305" width="2.3" height="20" fill="#f24141"/>
<rect x="274.1" y="305" width="1.2" height="20" fill="#f24141" opacity="0.8"/>
<rect x="289.6" y="305" width="0.6" height="20" fill="#f24141" opacity="0.35"/>
<rect x="279.5" y="305" width="0.5" height="20" fill="#f24141" opacity="0.25"/>
<rect x="283.5" y="305" width="0.5" height="20" fill="#f24141" opacity="0.25"/>
<rect x="267.3" y="265" width="1.1" height="20" fill="#3c3c3c" opacity="0.9"/>
<rect x="270.5" y="265" width="0.7" height="20" fill="#f24141" opacity="0.6"/>
<rect x="272.6" y="265" width="1.1" height="20" fill="#3c3c3c" opacity="0.85"/>
<rect x="274.1" y="265" width="0.8" height="20" fill="#1f64d9" opacity="0.5"/>
<rect x="275.2" y="265" width="1.4" height="20" fill="#8899bb" opacity="0.6"/>
<rect x="277.7" y="265" width="1.2" height="20" fill="#3c3c3c" opacity="0.85"/>
<rect x="279.3" y="265" width="2.4" height="20" fill="#f24141" opacity="0.9"/>
<rect x="283.0" y="265" width="0.6" height="20" fill="#f24141" opacity="0.4"/>
<rect x="286" y="265" width="0.9" height="20" fill="#f24141" opacity="0.5"/>
<rect x="288.3" y="265" width="0.6" height="20" fill="#f24141" opacity="0.4"/>
<rect x="293.6" y="265" width="0.8" height="20" fill="#f24141" opacity="0.5"/>
<rect x="296.8" y="265" width="0.8" height="20" fill="#555" opacity="0.8"/>
<rect x="299.2" y="265" width="1.2" height="20" fill="#f24141" opacity="0.85"/>
<rect x="301.6" y="265" width="0.8" height="20" fill="#f24141" opacity="0.85"/>
<rect x="304.7" y="265" width="0.8" height="20" fill="#f24141" opacity="0.5"/>
<rect x="307.5" y="265" width="0.8" height="20" fill="#f24141" opacity="0.85"/>
<rect x="310" y="265" width="0.8" height="20" fill="#f24141" opacity="0.5"/>
<rect x="312" y="265" width="1.2" height="20" fill="#f24141" opacity="0.5"/>
<rect x="314" y="265" width="0.8" height="20" fill="#f24141" opacity="0.5"/>
<rect x="317.2" y="265" width="1.5" height="20" fill="#f24141" opacity="0.9"/>
<rect x="319.5" y="265" width="0.8" height="20" fill="#f24141" opacity="0.45"/>
<rect x="321.1" y="265" width="0.8" height="20" fill="#f24141" opacity="0.9"/>
<rect x="325.5" y="265" width="1.6" height="20" fill="#666" opacity="0.8"/>
<rect x="327.5" y="265" width="1.5" height="20" fill="#1f64d9" opacity="0.45"/>
<rect x="330.7" y="265" width="1.2" height="20" fill="#1f64d9" opacity="0.7"/>
<rect x="333.8" y="265" width="0.8" height="20" fill="#f24141" opacity="0.8"/>
<rect x="338.6" y="265" width="1.2" height="20" fill="#f24141" opacity="0.8"/>
<rect x="354.1" y="265" width="0.9" height="20" fill="#f24141" opacity="0.8"/>
<rect x="355.8" y="265" width="2.8" height="20" fill="#a03030" opacity="0.8"/>
<rect x="363" y="265" width="1.5" height="20" fill="#f24141" opacity="0.85"/>
<rect x="366" y="265" width="0.8" height="20" fill="#f24141" opacity="0.5"/>
<rect x="368" y="265" width="0.8" height="20" fill="#f24141" opacity="0.6"/>
<rect x="372.1" y="265" width="2.0" height="20" fill="#f24141" opacity="0.9"/>
<rect x="375.3" y="265" width="1.6" height="20" fill="#f24141" opacity="0.5"/>
<rect x="378.8" y="265" width="2.0" height="20" fill="#7a2525" opacity="0.85"/>
<rect x="383" y="265" width="0.7" height="20" fill="#f24141" opacity="0.5"/>
<rect x="389.2" y="265" width="1.6" height="20" fill="#f24141" opacity="0.45"/>
<rect x="395.1" y="265" width="0.8" height="20" fill="#1f64d9" opacity="0.5"/>
<rect x="402.8" y="265" width="1.2" height="20" fill="#f24141" opacity="0.5"/>
<rect x="409.9" y="265" width="1.2" height="20" fill="#f24141" opacity="0.9"/>
<rect x="411.9" y="265" width="1.2" height="20" fill="#f24141" opacity="0.5"/>
<rect x="415.1" y="265" width="0.8" height="20" fill="#1f64d9" opacity="0.7"/>
<rect x="416.5" y="265" width="1.5" height="20" fill="#f24141" opacity="0.9"/>
<rect x="419.5" y="265" width="1.2" height="20" fill="#f24141" opacity="0.5"/>
<rect x="421.9" y="265" width="1.1" height="20" fill="#f24141" opacity="0.5"/>
<rect x="423.8" y="265" width="1.6" height="20" fill="#f24141" opacity="0.9"/>
<rect x="426.3" y="265" width="1.1" height="20" fill="#f24141" opacity="0.85"/>
<rect x="428.5" y="265" width="0.8" height="20" fill="#8866aa" opacity="0.6"/>
<rect x="431.4" y="265" width="1.2" height="20" fill="#333" opacity="0.9"/>
<rect x="433.3" y="265" width="0.8" height="20" fill="#f24141" opacity="0.5"/>
<rect x="435" y="265" width="1.6" height="20" fill="#f24141" opacity="0.85"/>
<rect x="438" y="265" width="0.8" height="20" fill="#f24141" opacity="0.45"/>
<rect x="319.3" y="245" width="0.7" height="20" fill="#f24141" opacity="0.85"/>
<rect x="325.8" y="245" width="0.7" height="20" fill="#777" opacity="0.85"/>
<rect x="364.2" y="245" width="0.7" height="20" fill="#f24141" opacity="0.85"/>
<rect x="432.2" y="245" width="0.7" height="20" fill="#3c3c3c" opacity="0.85"/>
<rect x="266.4" y="244.9" width="1" height="40" fill="#666" opacity="0.8"/>
<line x1="264.7" y1="344.9" x2="266.7" y2="344.9" stroke="#555" stroke-width="0.8"/>
<line x1="263.7" y1="324.9" x2="266.7" y2="324.9" stroke="#555" stroke-width="0.8"/>
<line x1="264.7" y1="304.9" x2="266.7" y2="304.9" stroke="#555" stroke-width="0.8"/>
<line x1="263.7" y1="284.9" x2="266.7" y2="284.9" stroke="#555" stroke-width="0.8"/>
<line x1="264.7" y1="264.9" x2="266.7" y2="264.9" stroke="#555" stroke-width="0.8"/>
<line x1="263.7" y1="244.89999999999998" x2="266.7" y2="244.89999999999998" stroke="#555" stroke-width="0.8"/>
<line x1="264.7" y1="224.89999999999998" x2="266.7" y2="224.89999999999998" stroke="#555" stroke-width="0.8"/>
<line x1="263.7" y1="204.89999999999998" x2="266.7" y2="204.89999999999998" stroke="#555" stroke-width="0.8"/>
<text x="262.4" y="327.0" font-size="5.9" text-anchor="end" fill="#2a2a2a" font-weight="normal" stroke="#2a2a2a" stroke-width="0.12" >0</text>
<text x="262.4" y="287.0" font-size="5.9" text-anchor="end" fill="#2a2a2a" font-weight="normal" stroke="#2a2a2a" stroke-width="0.12" >2</text>
<text x="262.4" y="246.99999999999997" font-size="5.9" text-anchor="end" fill="#2a2a2a" font-weight="normal" stroke="#2a2a2a" stroke-width="0.12" >4</text>
<text x="262.4" y="206.99999999999997" font-size="5.9" text-anchor="end" fill="#2a2a2a" font-weight="normal" stroke="#2a2a2a" stroke-width="0.12" >6</text>
<line x1="266.7" y1="345.2" x2="266.7" y2="348.2" stroke="#555" stroke-width="0.8"/>
<line x1="284.15999999999997" y1="345.2" x2="284.15999999999997" y2="347.2" stroke="#555" stroke-width="0.8"/>
<line x1="301.62" y1="345.2" x2="301.62" y2="348.2" stroke="#555" stroke-width="0.8"/>
<line x1="319.08" y1="345.2" x2="319.08" y2="347.2" stroke="#555" stroke-width="0.8"/>
<line x1="336.53999999999996" y1="345.2" x2="336.53999999999996" y2="348.2" stroke="#555" stroke-width="0.8"/>
<line x1="354.0" y1="345.2" x2="354.0" y2="347.2" stroke="#555" stroke-width="0.8"/>
<line x1="371.46000000000004" y1="345.2" x2="371.46000000000004" y2="348.2" stroke="#555" stroke-width="0.8"/>
<line x1="388.92" y1="345.2" x2="388.92" y2="347.2" stroke="#555" stroke-width="0.8"/>
<line x1="406.38" y1="345.2" x2="406.38" y2="348.2" stroke="#555" stroke-width="0.8"/>
<line x1="423.84000000000003" y1="345.2" x2="423.84000000000003" y2="347.2" stroke="#555" stroke-width="0.8"/>
<line x1="441.3" y1="345.2" x2="441.3" y2="348.2" stroke="#555" stroke-width="0.8"/>
<text x="266.7" y="354.3" font-size="5.9" text-anchor="middle" fill="#2a2a2a" font-weight="normal" stroke="#2a2a2a" stroke-width="0.12" >0</text>
<text x="301.62" y="354.3" font-size="5.9" text-anchor="middle" fill="#2a2a2a" font-weight="normal" stroke="#2a2a2a" stroke-width="0.12" >20</text>
<text x="336.53999999999996" y="354.3" font-size="5.9" text-anchor="middle" fill="#2a2a2a" font-weight="normal" stroke="#2a2a2a" stroke-width="0.12" >40</text>
<text x="371.46000000000004" y="354.3" font-size="5.9" text-anchor="middle" fill="#2a2a2a" font-weight="normal" stroke="#2a2a2a" stroke-width="0.12" >60</text>
<text x="406.38" y="354.3" font-size="5.9" text-anchor="middle" fill="#2a2a2a" font-weight="normal" stroke="#2a2a2a" stroke-width="0.12" >80</text>
<text x="441.3" y="354.3" font-size="5.9" text-anchor="middle" fill="#2a2a2a" font-weight="normal" stroke="#2a2a2a" stroke-width="0.12" >100</text>
<text x="354.2" y="367.3" font-size="8.5" text-anchor="middle" fill="#111" font-weight="normal" stroke="#111" stroke-width="0.3" >Time (ns)</text>
<text x="0" y="0" font-size="8.5" text-anchor="middle" fill="#111" font-weight="normal" stroke="#111" stroke-width="0.3" transform="translate(254,281.2) rotate(-90)">Hbond number</text>
<line x1="383.2" y1="212.8" x2="396.0" y2="212.8" stroke="#3c3c3c" stroke-width="0.9"/>
<text x="399.9" y="214.9" font-size="5.8" text-anchor="start" fill="#3c3c3c" font-weight="bold" >CSF-BAM15</text>
<line x1="383.2" y1="221.3" x2="396.0" y2="221.3" stroke="#f24141" stroke-width="0.9"/>
<text x="399.9" y="223.4" font-size="5.8" text-anchor="start" fill="#f24141" font-weight="bold" >IL-1&#945;-BAM15</text>
<line x1="383.2" y1="229.8" x2="396.0" y2="229.8" stroke="#1f64d9" stroke-width="0.9"/>
<text x="399.9" y="231.9" font-size="5.8" text-anchor="start" fill="#1f64d9" font-weight="bold" >SRC-BAM15</text>
<rect x="0.7" y="0.7" width="683.8" height="375.6" fill="none" stroke="#ff0000" stroke-width="1.6"/>
</svg></body></html>
